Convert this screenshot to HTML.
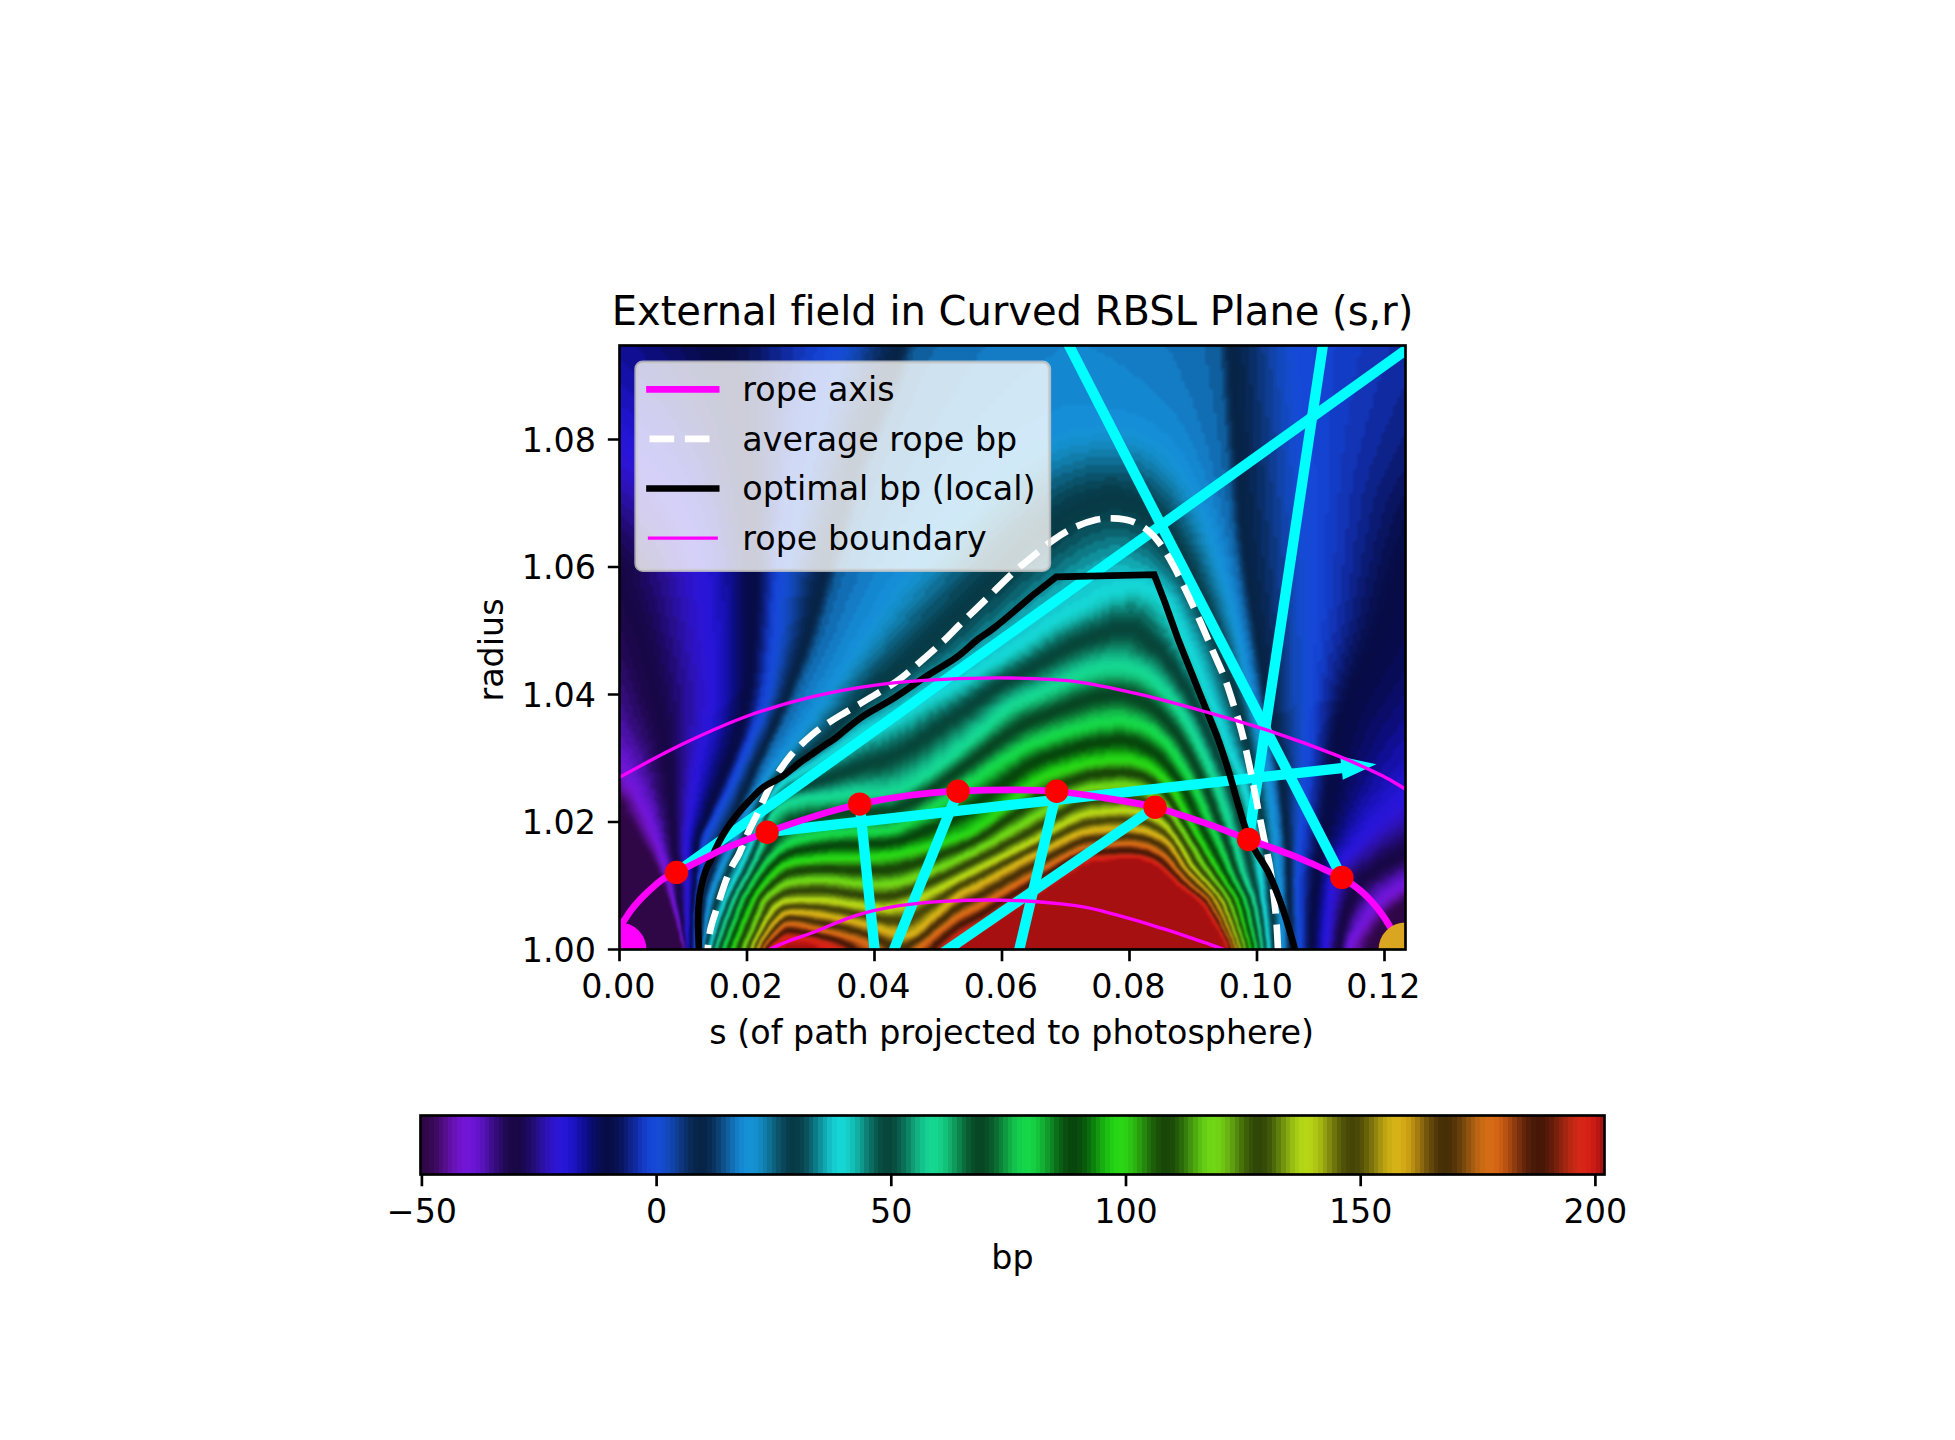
<!DOCTYPE html><html><head><meta charset="utf-8"><title>External field in Curved RBSL Plane</title><style>
html,body{margin:0;padding:0;background:#fff}body{width:1955px;height:1440px;position:relative;font-family:"DejaVu Sans","Liberation Sans",sans-serif}
#clip{position:absolute;left:619px;top:345px;width:787px;height:605px;overflow:hidden}
#hm{position:absolute;left:-12px;top:-12px;width:812px;filter:url(#cm)}
#hm i{display:block;height:4px;width:812px}
#cb{position:absolute;left:420px;top:1115px;width:1185px;height:60px;background:linear-gradient(90deg,#300746 0.000% 0.391%,#31074a 0.391% 0.781%,#370854 0.781% 1.172%,#3f0a64 1.172% 1.562%,#4a0c78 1.562% 1.953%,#560e8e 1.953% 2.344%,#6110a5 2.344% 2.734%,#6912b9 2.734% 3.125%,#6f14c9 3.125% 3.516%,#7215d4 3.516% 3.906%,#7016d7 3.906% 4.297%,#6b15d4 4.297% 4.688%,#6314ca 4.688% 5.078%,#5813bb 5.078% 5.469%,#4c11a7 5.469% 5.859%,#3f0e90 5.859% 6.250%,#330c7a 6.250% 6.641%,#290a65 6.641% 7.031%,#210955 7.031% 7.422%,#1c074a 7.422% 7.812%,#190746 7.812% 8.203%,#190749 8.203% 8.594%,#1b0853 8.594% 8.984%,#1e0a62 8.984% 9.375%,#220c76 9.375% 9.766%,#270e8c 9.766% 10.156%,#2a10a3 10.156% 10.547%,#2c12b7 10.547% 10.938%,#2d14c8 10.938% 11.328%,#2c15d3 11.328% 11.719%,#2a16d7 11.719% 12.109%,#2515d5 12.109% 12.500%,#2014cb 12.500% 12.891%,#1b13bc 12.891% 13.281%,#1511a8 13.281% 13.672%,#100f92 13.672% 14.062%,#0c0d7c 14.062% 14.453%,#0a0d67 14.453% 14.844%,#090c56 14.844% 15.234%,#070c4b 15.234% 15.625%,#070c46 15.625% 16.016%,#070e49 16.016% 16.406%,#081152 16.406% 16.797%,#0a1561 16.797% 17.188%,#0c1c74 17.188% 17.578%,#0e238b 17.578% 17.969%,#102ba1 17.969% 18.359%,#1234b6 18.359% 18.750%,#143cc7 18.750% 19.141%,#1543d2 19.141% 19.531%,#1648d7 19.531% 19.922%,#154bd5 19.922% 20.312%,#144bcc 20.312% 20.703%,#1349bd 20.703% 21.094%,#1144aa 21.094% 21.484%,#0f3e94 21.484% 21.875%,#0d367d 21.875% 22.266%,#0a2f69 22.266% 22.656%,#092957 22.656% 23.047%,#08254c 23.047% 23.438%,#072346 23.438% 23.828%,#072548 23.828% 24.219%,#082b51 24.219% 24.609%,#0a345f 24.609% 25.000%,#0b4173 25.000% 25.391%,#0e5089 25.391% 25.781%,#105f9f 25.781% 26.172%,#126fb4 26.172% 26.562%,#147dc6 26.562% 26.953%,#1588d2 26.953% 27.344%,#168fd7 27.344% 27.734%,#1591d6 27.734% 28.125%,#158fcd 28.125% 28.516%,#1388bf 28.516% 28.906%,#117dac 28.906% 29.297%,#0f7096 29.297% 29.688%,#0d617f 29.688% 30.078%,#0b536a 30.078% 30.469%,#094659 30.469% 30.859%,#083e4c 30.859% 31.250%,#073a47 31.250% 31.641%,#073d48 31.641% 32.031%,#084550 32.031% 32.422%,#09525e 32.422% 32.812%,#0b6571 32.812% 33.203%,#0d7b87 33.203% 33.594%,#10929d 33.594% 33.984%,#12a8b3 33.984% 34.375%,#14bcc4 34.375% 34.766%,#15ccd1 34.766% 35.156%,#15d5d7 35.156% 35.547%,#15d6d4 35.547% 35.938%,#15cec9 35.938% 36.328%,#13c0b8 36.328% 36.719%,#11aea3 36.719% 37.109%,#0f988c 37.109% 37.500%,#0d8175 37.500% 37.891%,#0b6c60 37.891% 38.281%,#095a4f 38.281% 38.672%,#084d42 38.672% 39.062%,#07473c 39.062% 39.453%,#07473b 39.453% 39.844%,#084f40 39.844% 40.234%,#095d4a 40.234% 40.625%,#0b6f57 40.625% 41.016%,#0d8565 41.016% 41.406%,#109c74 41.406% 41.797%,#12b181 41.797% 42.188%,#14c38b 42.188% 42.578%,#15d091 42.578% 42.969%,#15d792 42.969% 43.359%,#15d68e 43.359% 43.750%,#15cf86 43.750% 44.141%,#13c27a 44.141% 44.531%,#12af6c 44.531% 44.922%,#0f9a5c 44.922% 45.312%,#0d834c 45.312% 45.703%,#0b6d3e 45.703% 46.094%,#095b32 46.094% 46.484%,#084e29 46.484% 46.875%,#074725 46.875% 47.266%,#074723 47.266% 47.656%,#084e26 47.656% 48.047%,#095b2b 48.047% 48.438%,#0b6e31 48.438% 48.828%,#0d8339 48.828% 49.219%,#0f9a40 49.219% 49.609%,#12af46 49.609% 50.000%,#13c24a 50.000% 50.391%,#15cf4c 50.391% 50.781%,#15d64b 50.781% 51.172%,#15d748 51.172% 51.562%,#15d042 51.562% 51.953%,#13c33b 51.953% 52.344%,#12b133 52.344% 52.734%,#109b2a 52.734% 53.125%,#0d8522 53.125% 53.516%,#0b6f1a 53.516% 53.906%,#095d14 53.906% 54.297%,#084f10 54.297% 54.688%,#07470d 54.688% 55.078%,#07470c 55.078% 55.469%,#084d0c 55.469% 55.859%,#095a0c 55.859% 56.250%,#0b6c0d 56.250% 56.641%,#0d810e 56.641% 57.031%,#11980f 57.031% 57.422%,#16ae11 57.422% 57.812%,#1cc013 57.812% 58.203%,#21ce15 58.203% 58.594%,#26d615 58.594% 58.984%,#2ad715 58.984% 59.375%,#2cd115 59.375% 59.766%,#2cc414 59.766% 60.156%,#2bb312 60.156% 60.547%,#299d10 60.547% 60.938%,#25870d 60.938% 61.328%,#21710b 61.328% 61.719%,#1d5e09 61.719% 62.109%,#1a5008 62.109% 62.500%,#184807 62.500% 62.891%,#194707 62.891% 63.281%,#1d4c08 63.281% 63.672%,#235909 63.672% 64.062%,#2b6a0b 64.062% 64.453%,#367f0d 64.453% 64.844%,#42960f 64.844% 65.234%,#4eac11 65.234% 65.625%,#5abf13 65.625% 66.016%,#64cd15 66.016% 66.406%,#6cd615 66.406% 66.797%,#70d716 66.797% 67.188%,#71d215 67.188% 67.578%,#6dc614 67.578% 67.969%,#67b412 67.969% 68.359%,#5d9f10 68.359% 68.750%,#52890e 68.750% 69.141%,#47730b 69.141% 69.531%,#3d5f0a 69.531% 69.922%,#355108 69.922% 70.312%,#304807 70.312% 70.703%,#304607 70.703% 71.094%,#354c08 71.094% 71.484%,#3f5709 71.484% 71.875%,#4d690a 71.875% 72.266%,#5e7e0d 72.266% 72.656%,#72940f 72.656% 73.047%,#85aa11 73.047% 73.438%,#98be13 73.438% 73.828%,#a7cc14 73.828% 74.219%,#b2d515 74.219% 74.609%,#b7d716 74.609% 75.000%,#b6d215 75.000% 75.391%,#afc714 75.391% 75.781%,#a3b612 75.781% 76.172%,#93a110 76.172% 76.562%,#818a0e 76.562% 76.953%,#6e740c 76.953% 77.344%,#5d610a 77.344% 77.734%,#505208 77.734% 78.125%,#484907 78.125% 78.516%,#464507 78.516% 78.906%,#4b4907 78.906% 79.297%,#565209 79.297% 79.688%,#67610a 79.688% 80.078%,#7c720c 80.078% 80.469%,#92840f 80.469% 80.859%,#a89511 80.859% 81.250%,#bca413 81.250% 81.641%,#cbae14 81.641% 82.031%,#d5b215 82.031% 82.422%,#d7b116 82.422% 82.812%,#d3aa15 82.812% 83.203%,#c89e14 83.203% 83.594%,#b78e12 83.594% 83.984%,#a37b10 83.984% 84.375%,#8c680e 84.375% 84.766%,#76550c 84.766% 85.156%,#62460a 85.156% 85.547%,#533908 85.547% 85.938%,#493107 85.938% 86.328%,#462e07 86.328% 86.719%,#4a3007 86.719% 87.109%,#553509 87.109% 87.500%,#653e0a 87.500% 87.891%,#7a480c 87.891% 88.281%,#90530e 88.281% 88.672%,#a75d11 88.672% 89.062%,#bb6513 89.062% 89.453%,#ca6b14 89.453% 89.844%,#d46c15 89.844% 90.234%,#d76a16 90.234% 90.625%,#d46515 90.625% 91.016%,#c95d14 91.016% 91.406%,#b95212 91.406% 91.797%,#a54710 91.797% 92.188%,#8e3b0e 92.188% 92.578%,#782f0c 92.578% 92.969%,#64260a 92.969% 93.359%,#541e08 93.359% 93.750%,#4a1907 93.750% 94.141%,#461707 94.141% 94.531%,#4a1707 94.531% 94.922%,#541908 94.922% 95.312%,#641c0a 95.312% 95.703%,#78200c 95.703% 96.094%,#8e230e 96.094% 96.484%,#a52610 96.484% 96.875%,#b92813 96.875% 97.266%,#c92814 97.266% 97.656%,#d42715 97.656% 98.047%,#d72416 98.047% 98.438%,#d42015 98.438% 98.828%,#ca1b14 98.828% 99.219%,#ba1613 99.219% 99.609%,#a61111 99.609% 100.000%)}
svg{position:absolute;left:0;top:0}text{font-family:"DejaVu Sans","Liberation Sans",sans-serif;fill:#000;font-variant-ligatures:none;font-feature-settings:"liga" 0,"clig" 0}
</style></head><body>
<svg width="0" height="0"><filter id="cm" x="0" y="0" width="100%" height="100%" color-interpolation-filters="sRGB">
<feGaussianBlur stdDeviation="0.96 1.60"/>
<feColorMatrix type="matrix" values="0.941176 0.058824 0 0 0 0.941176 0.058824 0 0 0 0.941176 0.058824 0 0 0 0 0 0 0 1"/>
<feComponentTransfer><feFuncR type="table" tableValues="0.188 0.193 0.215 0.249 0.291 0.337 0.379 0.414 0.437 0.446 0.440 0.420 0.387 0.345 0.297 0.248 0.202 0.161 0.130 0.109 0.098 0.098 0.105 0.119 0.135 0.151 0.165 0.174 0.177 0.173 0.163 0.147 0.127 0.106 0.084 0.063 0.048 0.040 0.034 0.029 0.028 0.028 0.032 0.038 0.046 0.054 0.063 0.071 0.078 0.082 0.084 0.084 0.080 0.074 0.067 0.058 0.049 0.041 0.034 0.030 0.028 0.028 0.032 0.037 0.045 0.054 0.062 0.071 0.077 0.082 0.084 0.084 0.081 0.075 0.067 0.059 0.050 0.042 0.035 0.030 0.028 0.028 0.031 0.037 0.044 0.053 0.062 0.070 0.077 0.082 0.084 0.084 0.081 0.075 0.068 0.060 0.051 0.042 0.035 0.030 0.028 0.028 0.031 0.036 0.044 0.052 0.061 0.069 0.076 0.082 0.084 0.084 0.081 0.076 0.069 0.060 0.051 0.043 0.036 0.031 0.028 0.028 0.031 0.036 0.043 0.051 0.060 0.069 0.076 0.081 0.084 0.084 0.082 0.076 0.069 0.061 0.052 0.044 0.036 0.031 0.028 0.028 0.030 0.035 0.042 0.051 0.066 0.087 0.109 0.130 0.148 0.163 0.172 0.174 0.170 0.160 0.145 0.129 0.113 0.101 0.096 0.099 0.112 0.136 0.169 0.211 0.258 0.307 0.354 0.394 0.423 0.440 0.442 0.429 0.403 0.366 0.323 0.279 0.238 0.207 0.189 0.189 0.208 0.246 0.301 0.370 0.446 0.523 0.595 0.655 0.697 0.717 0.714 0.688 0.641 0.578 0.506 0.433 0.366 0.314 0.284 0.275 0.294 0.338 0.404 0.485 0.573 0.660 0.738 0.798 0.834 0.845 0.827 0.784 0.719 0.639 0.550 0.463 0.385 0.325 0.287 0.275 0.291 0.334 0.398 0.478 0.566 0.653 0.732 0.793 0.832 0.845 0.830 0.789 0.725 0.646 0.558 0.470 0.391 0.329 0.289 0.275 0.289 0.329 0.392 0.471 0.559 0.646 0.726 0.789 0.830 0.845 0.832 0.793 0.731 0.653"/><feFuncG type="table" tableValues="0.027 0.029 0.033 0.039 0.047 0.056 0.065 0.073 0.079 0.083 0.084 0.083 0.079 0.073 0.065 0.057 0.048 0.040 0.033 0.029 0.028 0.029 0.032 0.039 0.046 0.055 0.064 0.072 0.078 0.083 0.084 0.083 0.080 0.074 0.066 0.057 0.051 0.049 0.047 0.046 0.047 0.053 0.066 0.084 0.108 0.138 0.171 0.204 0.236 0.263 0.283 0.294 0.295 0.286 0.268 0.242 0.213 0.185 0.160 0.143 0.138 0.146 0.169 0.205 0.254 0.312 0.374 0.434 0.489 0.532 0.560 0.570 0.561 0.534 0.491 0.438 0.380 0.324 0.276 0.243 0.229 0.237 0.269 0.323 0.396 0.481 0.572 0.660 0.739 0.799 0.836 0.840 0.809 0.754 0.680 0.595 0.506 0.423 0.353 0.302 0.277 0.280 0.309 0.363 0.436 0.521 0.610 0.694 0.765 0.816 0.842 0.841 0.812 0.759 0.687 0.602 0.514 0.429 0.358 0.306 0.278 0.279 0.306 0.358 0.430 0.514 0.603 0.687 0.760 0.813 0.841 0.842 0.816 0.765 0.694 0.610 0.521 0.436 0.363 0.309 0.280 0.277 0.303 0.353 0.423 0.507 0.595 0.681 0.754 0.809 0.840 0.843 0.819 0.770 0.700 0.617 0.528 0.443 0.368 0.313 0.281 0.277 0.300 0.348 0.417 0.499 0.588 0.674 0.749 0.805 0.838 0.844 0.822 0.775 0.707 0.624 0.536 0.449 0.374 0.317 0.283 0.276 0.297 0.343 0.410 0.492 0.581 0.667 0.743 0.802 0.836 0.844 0.825 0.779 0.713 0.631 0.543 0.456 0.380 0.320 0.285 0.272 0.285 0.322 0.379 0.447 0.518 0.586 0.643 0.682 0.700 0.695 0.667 0.619 0.556 0.483 0.407 0.335 0.273 0.224 0.193 0.181 0.187 0.209 0.242 0.283 0.326 0.366 0.397 0.418 0.425 0.417 0.396 0.364 0.322 0.276 0.230 0.186 0.148 0.119 0.100 0.091 0.091 0.098 0.110 0.124 0.138 0.149 0.156 0.157 0.151 0.140 0.124 0.105 0.085 0.065"/><feFuncB type="table" tableValues="0.275 0.289 0.329 0.392 0.471 0.558 0.646 0.725 0.789 0.830 0.845 0.832 0.793 0.731 0.653 0.566 0.478 0.398 0.333 0.291 0.275 0.287 0.325 0.386 0.464 0.551 0.639 0.719 0.784 0.828 0.845 0.834 0.797 0.737 0.660 0.573 0.485 0.404 0.338 0.294 0.275 0.285 0.321 0.380 0.457 0.543 0.632 0.713 0.780 0.825 0.844 0.836 0.801 0.743 0.667 0.580 0.492 0.410 0.343 0.296 0.276 0.283 0.317 0.374 0.450 0.536 0.625 0.707 0.775 0.822 0.844 0.838 0.805 0.749 0.674 0.588 0.499 0.416 0.348 0.299 0.277 0.281 0.313 0.369 0.443 0.529 0.617 0.700 0.770 0.819 0.843 0.832 0.789 0.723 0.641 0.551 0.460 0.378 0.309 0.260 0.234 0.231 0.251 0.289 0.339 0.397 0.455 0.506 0.545 0.568 0.572 0.558 0.526 0.479 0.422 0.360 0.299 0.242 0.196 0.163 0.144 0.139 0.148 0.167 0.193 0.223 0.251 0.275 0.292 0.299 0.296 0.282 0.260 0.231 0.198 0.164 0.132 0.103 0.080 0.063 0.052 0.047 0.047 0.049 0.051 0.053 0.060 0.068 0.075 0.081 0.084 0.084 0.082 0.077 0.070 0.062 0.053 0.044 0.037 0.031 0.028 0.028 0.030 0.035 0.042 0.050 0.059 0.067 0.075 0.081 0.084 0.084 0.082 0.077 0.071 0.062 0.054 0.045 0.037 0.032 0.028 0.028 0.030 0.034 0.041 0.049 0.058 0.067 0.074 0.080 0.084 0.084 0.082 0.078 0.071 0.063 0.054 0.046 0.038 0.032 0.028 0.028 0.029 0.034 0.040 0.049 0.057 0.066 0.074 0.080 0.083 0.084 0.083 0.078 0.072 0.064 0.055 0.046 0.039 0.032 0.029 0.028 0.029 0.033 0.040 0.048 0.057 0.065 0.073 0.079 0.083 0.084 0.083 0.079 0.073 0.065 0.056 0.047 0.039 0.033 0.029 0.028 0.029 0.033 0.039 0.047 0.056 0.065 0.073 0.079 0.083 0.084 0.083 0.079 0.073 0.065"/></feComponentTransfer><feGaussianBlur stdDeviation="0.9"/>
</filter></svg>
<div id="clip"><div id="hm"><i style="background:linear-gradient(90deg,#230,#230,#230,#230,#230,#240,#240,#240,#240,#240,#240,#240,#250,#250,#250,#250,#250,#260,#260,#260,#260,#260,#270,#270,#270,#270,#280,#280,#280,#290,#290,#290,#2a0,#2a0,#2a0,#2b0,#2b0,#2b0,#2c0,#2c0,#2c0,#2d0,#2d0,#2d0,#2e0,#2e0,#2e0,#2f0,#2f0,#2f0,#300,#300,#300,#300,#310,#310,#310,#320,#320,#330,#330,#340,#340,#350,#360,#360,#370,#370,#380,#390,#390,#3a0,#3b0,#3b0,#3c0,#3d0,#3f0,#400,#410,#420,#420,#420,#420,#420,#430,#430,#430,#430,#430,#430,#430,#430,#430,#430,#430,#430,#430,#430,#440,#440,#440,#440,#440,#440,#440,#440,#440,#440,#440,#440,#440,#440,#440,#440,#440,#440,#440,#440,#440,#440,#440,#440,#440,#440,#440,#440,#440,#440,#440,#440,#440,#440,#440,#440,#440,#440,#440,#440,#440,#430,#430,#430,#430,#430,#430,#430,#430,#430,#430,#420,#420,#420,#420,#410,#400,#3e0,#3c0,#3b0,#3b0,#3a0,#3a0,#390,#390,#380,#370,#370,#360,#360,#350,#340,#340,#330,#330,#320,#320,#320,#320,#310,#310,#310,#310,#310,#310,#300,#300,#300,#300,#300,#300,#300,#2f0,#2f0,#2f0,#2f0,#2f0,#2f0,#2f0,#2e0,#2e0,#2e0,#2e0,#2e0,#2e0,#2e0)"></i><i style="background:linear-gradient(90deg,#230,#230,#230,#230,#230,#230,#240,#240,#240,#240,#240,#240,#250,#250,#250,#250,#250,#260,#260,#260,#260,#260,#270,#270,#270,#270,#280,#280,#280,#280,#290,#290,#290,#2a0,#2a0,#2a0,#2b0,#2b0,#2c0,#2c0,#2c0,#2d0,#2d0,#2d0,#2e0,#2e0,#2e0,#2f0,#2f0,#2f0,#300,#300,#300,#310,#310,#310,#320,#320,#320,#330,#340,#340,#350,#350,#360,#370,#370,#380,#380,#390,#3a0,#3a0,#3b0,#3c0,#3d0,#3e0,#3f0,#410,#420,#420,#420,#420,#420,#420,#430,#430,#430,#430,#430,#430,#430,#430,#430,#430,#430,#430,#430,#440,#440,#440,#440,#440,#440,#440,#440,#440,#440,#440,#440,#440,#440,#440,#440,#440,#440,#440,#440,#440,#440,#440,#440,#440,#440,#440,#440,#440,#440,#440,#440,#440,#440,#440,#440,#440,#440,#440,#440,#440,#440,#430,#430,#430,#430,#430,#430,#430,#430,#430,#430,#420,#420,#420,#420,#410,#400,#3e0,#3c0,#3b0,#3b0,#3a0,#3a0,#390,#390,#380,#370,#370,#360,#360,#350,#340,#340,#330,#330,#320,#320,#320,#320,#310,#310,#310,#310,#310,#310,#300,#300,#300,#300,#300,#300,#2f0,#2f0,#2f0,#2f0,#2f0,#2f0,#2f0,#2f0,#2e0,#2e0,#2e0,#2e0,#2e0,#2e0,#2e0)"></i><i style="background:linear-gradient(90deg,#230,#230,#230,#230,#230,#230,#230,#240,#240,#240,#240,#240,#240,#250,#250,#250,#250,#250,#260,#260,#260,#260,#260,#270,#270,#270,#270,#280,#280,#280,#290,#290,#290,#2a0,#2a0,#2a0,#2b0,#2b0,#2b0,#2c0,#2c0,#2d0,#2d0,#2d0,#2e0,#2e0,#2e0,#2f0,#2f0,#2f0,#300,#300,#300,#310,#310,#310,#320,#320,#330,#330,#340,#340,#350,#360,#360,#370,#370,#380,#390,#390,#3a0,#3b0,#3b0,#3c0,#3d0,#3e0,#400,#410,#420,#420,#420,#420,#420,#430,#430,#430,#430,#430,#430,#430,#430,#430,#430,#430,#430,#430,#440,#440,#440,#440,#440,#440,#440,#440,#440,#440,#440,#440,#440,#440,#440,#440,#440,#440,#440,#440,#440,#450,#450,#440,#440,#440,#440,#440,#440,#440,#440,#440,#440,#440,#440,#440,#440,#440,#440,#440,#440,#440,#440,#440,#430,#430,#430,#430,#430,#430,#430,#430,#430,#430,#420,#420,#420,#410,#400,#3e0,#3c0,#3c0,#3b0,#3a0,#3a0,#390,#390,#380,#370,#370,#360,#360,#350,#350,#340,#330,#330,#320,#320,#320,#320,#310,#310,#310,#310,#310,#310,#300,#300,#300,#300,#300,#300,#2f0,#2f0,#2f0,#2f0,#2f0,#2f0,#2f0,#2f0,#2e0,#2e0,#2e0,#2e0,#2e0,#2e0,#2e0)"></i><i style="background:linear-gradient(90deg,#220,#230,#230,#230,#230,#230,#230,#230,#240,#240,#240,#240,#240,#240,#250,#250,#250,#250,#250,#260,#260,#260,#260,#270,#270,#270,#270,#280,#280,#280,#290,#290,#290,#2a0,#2a0,#2a0,#2b0,#2b0,#2b0,#2c0,#2c0,#2d0,#2d0,#2d0,#2e0,#2e0,#2e0,#2f0,#2f0,#2f0,#300,#300,#300,#310,#310,#310,#320,#320,#330,#330,#340,#350,#350,#360,#360,#370,#380,#380,#390,#3a0,#3a0,#3b0,#3b0,#3c0,#3e0,#3f0,#400,#410,#420,#420,#420,#420,#420,#430,#430,#430,#430,#430,#430,#430,#430,#430,#430,#430,#430,#440,#440,#440,#440,#440,#440,#440,#440,#440,#440,#440,#440,#440,#440,#440,#440,#440,#440,#440,#440,#450,#450,#450,#450,#450,#450,#440,#440,#440,#440,#440,#440,#440,#440,#440,#440,#440,#440,#440,#440,#440,#440,#440,#440,#440,#430,#430,#430,#430,#430,#430,#430,#430,#430,#430,#420,#420,#420,#420,#400,#3e0,#3c0,#3c0,#3b0,#3a0,#3a0,#390,#390,#380,#370,#370,#360,#360,#350,#350,#340,#330,#330,#320,#320,#320,#320,#310,#310,#310,#310,#310,#310,#300,#300,#300,#300,#300,#300,#2f0,#2f0,#2f0,#2f0,#2f0,#2f0,#2f0,#2e0,#2e0,#2e0,#2e0,#2e0,#2e0,#2e0,#2e0)"></i><i style="background:linear-gradient(90deg,#220,#220,#230,#230,#230,#230,#230,#230,#230,#240,#240,#240,#240,#240,#250,#250,#250,#250,#250,#260,#260,#260,#260,#270,#270,#270,#270,#280,#280,#280,#290,#290,#290,#2a0,#2a0,#2a0,#2b0,#2b0,#2b0,#2c0,#2c0,#2d0,#2d0,#2d0,#2e0,#2e0,#2e0,#2f0,#2f0,#2f0,#300,#300,#300,#310,#310,#320,#320,#320,#330,#340,#340,#350,#350,#360,#370,#370,#380,#390,#390,#3a0,#3a0,#3b0,#3c0,#3d0,#3e0,#3f0,#410,#420,#420,#420,#420,#420,#430,#430,#430,#430,#430,#430,#430,#430,#430,#430,#430,#430,#440,#440,#440,#440,#440,#440,#440,#440,#440,#440,#440,#440,#440,#440,#440,#440,#440,#440,#440,#450,#450,#450,#450,#450,#450,#450,#450,#450,#450,#440,#440,#440,#440,#440,#440,#440,#440,#440,#440,#440,#440,#440,#440,#440,#440,#440,#440,#430,#430,#430,#430,#430,#430,#430,#430,#430,#420,#420,#420,#420,#400,#3e0,#3d0,#3c0,#3b0,#3a0,#3a0,#390,#390,#380,#370,#370,#360,#360,#350,#350,#340,#330,#330,#320,#320,#320,#320,#310,#310,#310,#310,#310,#300,#300,#300,#300,#300,#300,#300,#2f0,#2f0,#2f0,#2f0,#2f0,#2f0,#2f0,#2e0,#2e0,#2e0,#2e0,#2e0,#2e0,#2e0,#2e0)"></i><i style="background:linear-gradient(90deg,#220,#220,#220,#230,#230,#230,#230,#230,#230,#230,#240,#240,#240,#240,#240,#250,#250,#250,#250,#250,#260,#260,#260,#260,#270,#270,#270,#280,#280,#280,#280,#290,#290,#2a0,#2a0,#2a0,#2b0,#2b0,#2b0,#2c0,#2c0,#2d0,#2d0,#2d0,#2e0,#2e0,#2e0,#2f0,#2f0,#2f0,#300,#300,#310,#310,#310,#320,#320,#330,#330,#340,#340,#350,#360,#360,#370,#380,#380,#390,#390,#3a0,#3b0,#3b0,#3c0,#3d0,#3e0,#400,#410,#420,#420,#420,#420,#420,#430,#430,#430,#430,#430,#430,#430,#430,#430,#430,#430,#440,#440,#440,#440,#440,#440,#440,#440,#440,#440,#440,#440,#440,#440,#440,#440,#440,#440,#440,#450,#450,#450,#450,#450,#450,#450,#450,#450,#450,#450,#450,#450,#440,#440,#440,#440,#440,#440,#440,#440,#440,#440,#440,#440,#440,#440,#440,#440,#440,#430,#430,#430,#430,#430,#430,#430,#430,#420,#420,#420,#420,#400,#3e0,#3d0,#3c0,#3b0,#3a0,#3a0,#390,#390,#380,#380,#370,#360,#360,#350,#350,#340,#330,#330,#320,#320,#320,#320,#310,#310,#310,#310,#310,#300,#300,#300,#300,#300,#300,#300,#2f0,#2f0,#2f0,#2f0,#2f0,#2f0,#2f0,#2e0,#2e0,#2e0,#2e0,#2e0,#2e0,#2e0,#2e0)"></i><i style="background:linear-gradient(90deg,#220,#220,#220,#220,#230,#230,#230,#230,#230,#230,#240,#240,#240,#240,#240,#240,#250,#250,#250,#250,#260,#260,#260,#260,#270,#270,#270,#270,#280,#280,#280,#290,#290,#2a0,#2a0,#2a0,#2b0,#2b0,#2b0,#2c0,#2c0,#2d0,#2d0,#2d0,#2e0,#2e0,#2e0,#2f0,#2f0,#300,#300,#300,#310,#310,#310,#320,#320,#330,#330,#340,#350,#350,#360,#360,#370,#380,#380,#390,#3a0,#3a0,#3b0,#3b0,#3c0,#3d0,#3f0,#400,#410,#420,#420,#420,#420,#430,#430,#430,#430,#430,#430,#430,#430,#430,#430,#430,#430,#440,#440,#440,#440,#440,#440,#440,#440,#440,#440,#440,#440,#440,#440,#440,#440,#440,#450,#450,#450,#450,#450,#450,#450,#450,#450,#450,#450,#450,#450,#450,#450,#450,#450,#440,#440,#440,#440,#440,#440,#440,#440,#440,#440,#440,#440,#440,#440,#440,#430,#430,#430,#430,#430,#430,#430,#430,#420,#420,#420,#420,#400,#3e0,#3d0,#3c0,#3b0,#3a0,#3a0,#390,#390,#380,#380,#370,#360,#360,#350,#350,#340,#330,#330,#320,#320,#320,#320,#310,#310,#310,#310,#310,#300,#300,#300,#300,#300,#300,#2f0,#2f0,#2f0,#2f0,#2f0,#2f0,#2f0,#2e0,#2e0,#2e0,#2e0,#2e0,#2e0,#2e0,#2e0,#2d0)"></i><i style="background:linear-gradient(90deg,#220,#220,#220,#220,#220,#230,#230,#230,#230,#230,#230,#240,#240,#240,#240,#240,#250,#250,#250,#250,#250,#260,#260,#260,#270,#270,#270,#270,#280,#280,#280,#290,#290,#290,#2a0,#2a0,#2b0,#2b0,#2b0,#2c0,#2c0,#2d0,#2d0,#2d0,#2e0,#2e0,#2e0,#2f0,#2f0,#300,#300,#300,#310,#310,#310,#320,#320,#330,#340,#340,#350,#350,#360,#370,#370,#380,#390,#390,#3a0,#3a0,#3b0,#3c0,#3d0,#3e0,#3f0,#410,#420,#420,#420,#420,#420,#430,#430,#430,#430,#430,#430,#430,#430,#430,#430,#430,#440,#440,#440,#440,#440,#440,#440,#440,#440,#440,#440,#440,#440,#440,#440,#440,#440,#450,#450,#450,#450,#450,#450,#450,#450,#450,#450,#450,#450,#450,#450,#450,#450,#450,#450,#450,#440,#440,#440,#440,#440,#440,#440,#440,#440,#440,#440,#440,#440,#440,#440,#430,#430,#430,#430,#430,#430,#430,#420,#420,#420,#420,#400,#3f0,#3d0,#3c0,#3b0,#3a0,#3a0,#390,#390,#380,#380,#370,#360,#360,#350,#350,#340,#340,#330,#320,#320,#320,#320,#310,#310,#310,#310,#310,#300,#300,#300,#300,#300,#300,#2f0,#2f0,#2f0,#2f0,#2f0,#2f0,#2f0,#2e0,#2e0,#2e0,#2e0,#2e0,#2e0,#2e0,#2e0,#2d0)"></i><i style="background:linear-gradient(90deg,#220,#220,#220,#220,#220,#220,#230,#230,#230,#230,#230,#230,#240,#240,#240,#240,#240,#250,#250,#250,#250,#260,#260,#260,#260,#270,#270,#270,#280,#280,#280,#290,#290,#290,#2a0,#2a0,#2b0,#2b0,#2b0,#2c0,#2c0,#2c0,#2d0,#2d0,#2e0,#2e0,#2e0,#2f0,#2f0,#300,#300,#300,#310,#310,#320,#320,#330,#330,#340,#340,#350,#360,#360,#370,#380,#380,#390,#390,#3a0,#3b0,#3b0,#3c0,#3d0,#3e0,#400,#410,#420,#420,#420,#420,#420,#430,#430,#430,#430,#430,#430,#430,#430,#430,#430,#440,#440,#440,#440,#440,#440,#440,#440,#440,#440,#440,#440,#440,#440,#440,#440,#450,#450,#450,#450,#450,#450,#450,#450,#450,#450,#450,#450,#450,#450,#450,#450,#450,#450,#450,#450,#450,#450,#450,#440,#440,#440,#440,#440,#440,#440,#440,#440,#440,#440,#440,#440,#430,#430,#430,#430,#430,#430,#430,#430,#420,#420,#420,#400,#3f0,#3d0,#3c0,#3b0,#3b0,#3a0,#390,#390,#380,#380,#370,#360,#360,#350,#350,#340,#340,#330,#320,#320,#320,#320,#310,#310,#310,#310,#310,#300,#300,#300,#300,#300,#300,#2f0,#2f0,#2f0,#2f0,#2f0,#2f0,#2f0,#2e0,#2e0,#2e0,#2e0,#2e0,#2e0,#2e0,#2d0,#2d0)"></i><i style="background:linear-gradient(90deg,#220,#220,#220,#220,#220,#220,#220,#230,#230,#230,#230,#230,#230,#240,#240,#240,#240,#250,#250,#250,#250,#260,#260,#260,#260,#270,#270,#270,#270,#280,#280,#280,#290,#290,#2a0,#2a0,#2a0,#2b0,#2b0,#2c0,#2c0,#2c0,#2d0,#2d0,#2e0,#2e0,#2e0,#2f0,#2f0,#300,#300,#300,#310,#310,#320,#320,#330,#330,#340,#350,#350,#360,#360,#370,#380,#380,#390,#3a0,#3a0,#3b0,#3b0,#3c0,#3d0,#3f0,#400,#410,#420,#420,#420,#420,#430,#430,#430,#430,#430,#430,#430,#430,#430,#430,#430,#440,#440,#440,#440,#440,#440,#440,#440,#440,#440,#440,#440,#440,#440,#440,#450,#450,#450,#450,#450,#450,#450,#450,#450,#450,#450,#450,#450,#450,#450,#450,#450,#450,#450,#450,#450,#450,#450,#450,#450,#440,#440,#440,#440,#440,#440,#440,#440,#440,#440,#440,#440,#440,#430,#430,#430,#430,#430,#430,#430,#420,#420,#420,#410,#3f0,#3d0,#3c0,#3b0,#3b0,#3a0,#390,#390,#380,#380,#370,#370,#360,#350,#350,#340,#340,#330,#320,#320,#320,#320,#310,#310,#310,#310,#310,#300,#300,#300,#300,#300,#300,#2f0,#2f0,#2f0,#2f0,#2f0,#2f0,#2e0,#2e0,#2e0,#2e0,#2e0,#2e0,#2e0,#2e0,#2d0,#2d0)"></i><i style="background:linear-gradient(90deg,#210,#220,#220,#220,#220,#220,#220,#220,#230,#230,#230,#230,#230,#240,#240,#240,#240,#240,#250,#250,#250,#250,#260,#260,#260,#260,#270,#270,#270,#280,#280,#280,#290,#290,#2a0,#2a0,#2a0,#2b0,#2b0,#2c0,#2c0,#2c0,#2d0,#2d0,#2e0,#2e0,#2f0,#2f0,#2f0,#300,#300,#310,#310,#310,#320,#320,#330,#340,#340,#350,#350,#360,#370,#370,#380,#390,#390,#3a0,#3a0,#3b0,#3c0,#3d0,#3e0,#3f0,#410,#420,#420,#420,#420,#420,#430,#430,#430,#430,#430,#430,#430,#430,#430,#430,#440,#440,#440,#440,#440,#440,#440,#440,#440,#440,#440,#440,#440,#440,#450,#450,#450,#450,#450,#450,#450,#450,#450,#450,#450,#450,#450,#450,#450,#450,#450,#450,#450,#450,#450,#450,#450,#450,#450,#450,#450,#450,#440,#440,#440,#440,#440,#440,#440,#440,#440,#440,#440,#440,#430,#430,#430,#430,#430,#430,#430,#420,#420,#420,#410,#3f0,#3d0,#3c0,#3b0,#3b0,#3a0,#390,#390,#380,#380,#370,#370,#360,#350,#350,#340,#340,#330,#320,#320,#320,#320,#310,#310,#310,#310,#310,#300,#300,#300,#300,#300,#300,#2f0,#2f0,#2f0,#2f0,#2f0,#2f0,#2e0,#2e0,#2e0,#2e0,#2e0,#2e0,#2e0,#2d0,#2d0,#2d0)"></i><i style="background:linear-gradient(90deg,#210,#210,#210,#220,#220,#220,#220,#220,#220,#230,#230,#230,#230,#230,#240,#240,#240,#240,#250,#250,#250,#250,#260,#260,#260,#260,#270,#270,#270,#280,#280,#280,#290,#290,#290,#2a0,#2a0,#2b0,#2b0,#2c0,#2c0,#2c0,#2d0,#2d0,#2e0,#2e0,#2f0,#2f0,#2f0,#300,#300,#310,#310,#320,#320,#330,#330,#340,#340,#350,#360,#360,#370,#380,#380,#390,#390,#3a0,#3b0,#3b0,#3c0,#3d0,#3e0,#400,#410,#420,#420,#420,#420,#430,#430,#430,#430,#430,#430,#430,#430,#430,#430,#440,#440,#440,#440,#440,#440,#440,#440,#440,#440,#440,#440,#440,#440,#450,#450,#450,#450,#450,#450,#450,#450,#450,#450,#450,#450,#450,#450,#450,#450,#450,#450,#450,#450,#450,#450,#450,#450,#450,#450,#450,#450,#450,#450,#450,#440,#440,#440,#440,#440,#440,#440,#440,#440,#440,#430,#430,#430,#430,#430,#430,#430,#420,#420,#420,#410,#3f0,#3d0,#3c0,#3b0,#3b0,#3a0,#390,#390,#380,#380,#370,#370,#360,#350,#350,#340,#340,#330,#330,#320,#320,#320,#310,#310,#310,#310,#310,#300,#300,#300,#300,#300,#2f0,#2f0,#2f0,#2f0,#2f0,#2f0,#2f0,#2e0,#2e0,#2e0,#2e0,#2e0,#2e0,#2e0,#2d0,#2d0,#2d0)"></i><i style="background:linear-gradient(90deg,#210,#210,#210,#210,#220,#220,#220,#220,#220,#220,#230,#230,#230,#230,#230,#240,#240,#240,#240,#250,#250,#250,#250,#260,#260,#260,#270,#270,#270,#270,#280,#280,#290,#290,#290,#2a0,#2a0,#2b0,#2b0,#2c0,#2c0,#2c0,#2d0,#2d0,#2e0,#2e0,#2f0,#2f0,#2f0,#300,#300,#310,#310,#320,#320,#330,#330,#340,#350,#350,#360,#360,#370,#380,#380,#390,#3a0,#3a0,#3b0,#3b0,#3c0,#3e0,#3f0,#400,#420,#420,#420,#420,#420,#430,#430,#430,#430,#430,#430,#430,#430,#430,#430,#440,#440,#440,#440,#440,#440,#440,#440,#440,#440,#440,#440,#440,#450,#450,#450,#450,#450,#450,#450,#450,#450,#450,#450,#450,#450,#450,#450,#450,#450,#450,#450,#450,#450,#450,#450,#450,#450,#450,#450,#450,#450,#450,#450,#450,#450,#440,#440,#440,#440,#440,#440,#440,#440,#440,#440,#430,#430,#430,#430,#430,#430,#420,#420,#420,#410,#3f0,#3d0,#3c0,#3b0,#3b0,#3a0,#390,#390,#380,#380,#370,#370,#360,#350,#350,#340,#340,#330,#330,#320,#320,#320,#310,#310,#310,#310,#310,#300,#300,#300,#300,#300,#2f0,#2f0,#2f0,#2f0,#2f0,#2f0,#2e0,#2e0,#2e0,#2e0,#2e0,#2e0,#2e0,#2d0,#2d0,#2d0,#2d0)"></i><i style="background:linear-gradient(90deg,#210,#210,#210,#210,#210,#220,#220,#220,#220,#220,#230,#230,#230,#230,#230,#240,#240,#240,#240,#240,#250,#250,#250,#260,#260,#260,#260,#270,#270,#270,#280,#280,#280,#290,#290,#2a0,#2a0,#2b0,#2b0,#2c0,#2c0,#2c0,#2d0,#2d0,#2e0,#2e0,#2f0,#2f0,#300,#300,#300,#310,#310,#320,#320,#330,#340,#340,#350,#350,#360,#370,#370,#380,#390,#390,#3a0,#3a0,#3b0,#3c0,#3d0,#3e0,#400,#410,#420,#420,#420,#420,#430,#430,#430,#430,#430,#430,#430,#430,#430,#430,#440,#440,#440,#440,#440,#440,#440,#440,#440,#440,#440,#440,#440,#450,#450,#450,#450,#450,#450,#450,#450,#450,#450,#450,#450,#450,#450,#450,#450,#450,#450,#450,#450,#450,#450,#450,#450,#450,#450,#450,#450,#450,#450,#450,#450,#450,#450,#450,#440,#440,#440,#440,#440,#440,#440,#440,#440,#430,#430,#430,#430,#430,#430,#420,#420,#420,#410,#3f0,#3d0,#3c0,#3b0,#3b0,#3a0,#3a0,#390,#380,#380,#370,#370,#360,#350,#350,#340,#340,#330,#330,#320,#320,#320,#310,#310,#310,#310,#310,#300,#300,#300,#300,#300,#2f0,#2f0,#2f0,#2f0,#2f0,#2f0,#2e0,#2e0,#2e0,#2e0,#2e0,#2e0,#2e0,#2d0,#2d0,#2d0,#2d0)"></i><i style="background:linear-gradient(90deg,#210,#210,#210,#210,#210,#210,#220,#220,#220,#220,#220,#230,#230,#230,#230,#230,#240,#240,#240,#240,#250,#250,#250,#250,#260,#260,#260,#270,#270,#270,#280,#280,#280,#290,#290,#2a0,#2a0,#2b0,#2b0,#2c0,#2c0,#2c0,#2d0,#2d0,#2e0,#2e0,#2f0,#2f0,#300,#300,#310,#310,#310,#320,#320,#330,#340,#340,#350,#360,#360,#370,#380,#380,#390,#390,#3a0,#3b0,#3b0,#3c0,#3d0,#3f0,#400,#410,#420,#420,#420,#420,#430,#430,#430,#430,#430,#430,#430,#430,#430,#430,#440,#440,#440,#440,#440,#440,#440,#440,#440,#440,#440,#440,#450,#450,#450,#450,#450,#450,#450,#450,#450,#450,#450,#450,#450,#450,#450,#450,#450,#450,#450,#450,#450,#450,#450,#450,#450,#450,#450,#450,#450,#450,#450,#450,#450,#450,#450,#450,#450,#440,#440,#440,#440,#440,#440,#440,#440,#440,#430,#430,#430,#430,#430,#430,#420,#420,#410,#3f0,#3e0,#3c0,#3b0,#3b0,#3a0,#3a0,#390,#380,#380,#370,#370,#360,#360,#350,#340,#340,#330,#330,#320,#320,#320,#310,#310,#310,#310,#310,#300,#300,#300,#300,#300,#2f0,#2f0,#2f0,#2f0,#2f0,#2f0,#2e0,#2e0,#2e0,#2e0,#2e0,#2e0,#2d0,#2d0,#2d0,#2d0,#2d0)"></i><i style="background:linear-gradient(90deg,#210,#210,#210,#210,#210,#210,#210,#220,#220,#220,#220,#220,#230,#230,#230,#230,#230,#240,#240,#240,#240,#250,#250,#250,#260,#260,#260,#260,#270,#270,#270,#280,#280,#290,#290,#2a0,#2a0,#2b0,#2b0,#2b0,#2c0,#2c0,#2d0,#2d0,#2e0,#2e0,#2f0,#2f0,#300,#300,#310,#310,#320,#320,#330,#330,#340,#350,#350,#360,#360,#370,#380,#380,#390,#3a0,#3a0,#3b0,#3c0,#3c0,#3e0,#3f0,#410,#420,#420,#420,#420,#430,#430,#430,#430,#430,#430,#430,#430,#430,#430,#440,#440,#440,#440,#440,#440,#440,#440,#440,#440,#440,#440,#450,#450,#450,#450,#450,#450,#450,#450,#450,#450,#450,#450,#450,#450,#450,#450,#450,#450,#450,#450,#450,#450,#450,#450,#450,#450,#450,#450,#450,#450,#450,#450,#450,#450,#450,#450,#450,#450,#450,#440,#440,#440,#440,#440,#440,#440,#440,#430,#430,#430,#430,#430,#430,#420,#420,#410,#3f0,#3e0,#3c0,#3b0,#3b0,#3a0,#3a0,#390,#380,#380,#370,#370,#360,#360,#350,#340,#340,#330,#330,#320,#320,#320,#310,#310,#310,#310,#310,#300,#300,#300,#300,#300,#2f0,#2f0,#2f0,#2f0,#2f0,#2e0,#2e0,#2e0,#2e0,#2e0,#2e0,#2e0,#2d0,#2d0,#2d0,#2d0,#2d0)"></i><i style="background:linear-gradient(90deg,#200,#200,#210,#210,#210,#210,#210,#210,#220,#220,#220,#220,#220,#230,#230,#230,#230,#230,#240,#240,#240,#250,#250,#250,#250,#260,#260,#260,#270,#270,#270,#280,#280,#290,#290,#2a0,#2a0,#2a0,#2b0,#2b0,#2c0,#2c0,#2d0,#2d0,#2e0,#2e0,#2f0,#2f0,#300,#300,#310,#310,#320,#320,#330,#330,#340,#350,#350,#360,#370,#370,#380,#390,#390,#3a0,#3a0,#3b0,#3c0,#3d0,#3e0,#400,#410,#420,#420,#420,#420,#430,#430,#430,#430,#430,#430,#430,#430,#430,#440,#440,#440,#440,#440,#440,#440,#440,#440,#440,#440,#440,#450,#450,#450,#450,#450,#450,#450,#450,#450,#450,#450,#450,#450,#450,#450,#450,#450,#450,#450,#450,#450,#450,#450,#450,#450,#450,#450,#450,#450,#450,#450,#450,#450,#450,#450,#450,#450,#450,#450,#450,#450,#440,#440,#440,#440,#440,#440,#440,#440,#430,#430,#430,#430,#430,#420,#420,#410,#400,#3e0,#3c0,#3b0,#3b0,#3a0,#3a0,#390,#380,#380,#370,#370,#360,#360,#350,#340,#340,#330,#330,#320,#320,#320,#310,#310,#310,#310,#310,#300,#300,#300,#300,#300,#2f0,#2f0,#2f0,#2f0,#2f0,#2e0,#2e0,#2e0,#2e0,#2e0,#2e0,#2d0,#2d0,#2d0,#2d0,#2d0,#2d0)"></i><i style="background:linear-gradient(90deg,#200,#200,#200,#210,#210,#210,#210,#210,#210,#220,#220,#220,#220,#220,#230,#230,#230,#230,#240,#240,#240,#240,#250,#250,#250,#260,#260,#260,#270,#270,#270,#280,#280,#280,#290,#290,#2a0,#2a0,#2b0,#2b0,#2c0,#2c0,#2d0,#2d0,#2e0,#2e0,#2f0,#2f0,#300,#300,#310,#310,#320,#320,#330,#340,#340,#350,#360,#360,#370,#380,#380,#390,#390,#3a0,#3b0,#3b0,#3c0,#3d0,#3f0,#400,#420,#420,#420,#420,#420,#430,#430,#430,#430,#430,#430,#430,#430,#430,#440,#440,#440,#440,#440,#440,#440,#440,#440,#440,#440,#450,#450,#450,#450,#450,#450,#450,#450,#450,#450,#450,#450,#450,#450,#450,#450,#450,#450,#450,#450,#450,#450,#450,#450,#450,#450,#450,#450,#450,#450,#450,#450,#450,#450,#450,#450,#450,#450,#450,#450,#450,#450,#450,#440,#440,#440,#440,#440,#440,#440,#430,#430,#430,#430,#430,#420,#420,#420,#400,#3e0,#3c0,#3b0,#3b0,#3a0,#3a0,#390,#390,#380,#370,#370,#360,#360,#350,#340,#340,#330,#330,#320,#320,#320,#310,#310,#310,#310,#310,#300,#300,#300,#300,#2f0,#2f0,#2f0,#2f0,#2f0,#2f0,#2e0,#2e0,#2e0,#2e0,#2e0,#2e0,#2d0,#2d0,#2d0,#2d0,#2d0,#2d0)"></i><i style="background:linear-gradient(90deg,#200,#200,#200,#200,#210,#210,#210,#210,#210,#210,#220,#220,#220,#220,#220,#230,#230,#230,#230,#240,#240,#240,#250,#250,#250,#250,#260,#260,#260,#270,#270,#280,#280,#280,#290,#290,#2a0,#2a0,#2b0,#2b0,#2c0,#2c0,#2d0,#2d0,#2e0,#2e0,#2f0,#2f0,#300,#300,#310,#310,#320,#330,#330,#340,#350,#350,#360,#360,#370,#380,#380,#390,#3a0,#3a0,#3b0,#3c0,#3d0,#3e0,#3f0,#410,#420,#420,#420,#420,#430,#430,#430,#430,#430,#430,#430,#430,#430,#440,#440,#440,#440,#440,#440,#440,#440,#440,#440,#440,#450,#450,#450,#450,#450,#450,#450,#450,#450,#450,#450,#450,#450,#450,#450,#450,#450,#450,#460,#460,#460,#460,#460,#460,#460,#460,#460,#460,#460,#450,#450,#450,#450,#450,#450,#450,#450,#450,#450,#450,#450,#450,#450,#450,#450,#440,#440,#440,#440,#440,#440,#430,#430,#430,#430,#430,#420,#420,#420,#400,#3e0,#3c0,#3b0,#3b0,#3a0,#3a0,#390,#390,#380,#370,#370,#360,#360,#350,#350,#340,#330,#330,#320,#320,#320,#310,#310,#310,#310,#310,#300,#300,#300,#300,#2f0,#2f0,#2f0,#2f0,#2f0,#2f0,#2e0,#2e0,#2e0,#2e0,#2e0,#2d0,#2d0,#2d0,#2d0,#2d0,#2d0,#2d0)"></i><i style="background:linear-gradient(90deg,#200,#200,#200,#200,#200,#200,#210,#210,#210,#210,#210,#220,#220,#220,#220,#220,#230,#230,#230,#230,#240,#240,#240,#250,#250,#250,#260,#260,#260,#270,#270,#270,#280,#280,#290,#290,#2a0,#2a0,#2b0,#2b0,#2c0,#2c0,#2d0,#2d0,#2e0,#2e0,#2f0,#300,#300,#310,#310,#320,#320,#330,#330,#340,#350,#350,#360,#370,#370,#380,#390,#390,#3a0,#3b0,#3b0,#3c0,#3d0,#3f0,#400,#410,#420,#420,#420,#420,#430,#430,#430,#430,#430,#430,#430,#430,#440,#440,#440,#440,#440,#440,#440,#440,#440,#440,#440,#450,#450,#450,#450,#450,#450,#450,#450,#450,#450,#450,#450,#450,#450,#450,#450,#450,#460,#460,#460,#460,#460,#460,#460,#460,#460,#460,#460,#460,#460,#460,#460,#460,#460,#460,#450,#450,#450,#450,#450,#450,#450,#450,#450,#450,#450,#450,#440,#440,#440,#440,#440,#440,#430,#430,#430,#430,#420,#420,#420,#400,#3e0,#3c0,#3b0,#3b0,#3a0,#3a0,#390,#390,#380,#370,#370,#360,#360,#350,#350,#340,#330,#330,#320,#320,#320,#310,#310,#310,#310,#300,#300,#300,#300,#300,#2f0,#2f0,#2f0,#2f0,#2f0,#2e0,#2e0,#2e0,#2e0,#2e0,#2e0,#2d0,#2d0,#2d0,#2d0,#2d0,#2d0,#2d0)"></i><i style="background:linear-gradient(90deg,#1f0,#200,#200,#200,#200,#200,#200,#210,#210,#210,#210,#210,#220,#220,#220,#220,#230,#230,#230,#230,#240,#240,#240,#250,#250,#250,#260,#260,#260,#270,#270,#270,#280,#280,#290,#290,#2a0,#2a0,#2b0,#2b0,#2c0,#2c0,#2d0,#2e0,#2e0,#2f0,#2f0,#300,#300,#310,#310,#320,#320,#330,#340,#340,#350,#360,#360,#370,#380,#380,#390,#3a0,#3a0,#3b0,#3b0,#3c0,#3e0,#3f0,#410,#420,#420,#420,#420,#430,#430,#430,#430,#430,#430,#430,#430,#430,#440,#440,#440,#440,#440,#440,#440,#440,#440,#440,#450,#450,#450,#450,#450,#450,#450,#450,#450,#450,#450,#450,#450,#450,#450,#450,#460,#460,#460,#460,#460,#460,#460,#460,#460,#460,#460,#460,#460,#460,#460,#460,#460,#460,#460,#460,#460,#460,#460,#450,#450,#450,#450,#450,#450,#450,#450,#450,#450,#440,#440,#440,#440,#440,#430,#430,#430,#430,#430,#420,#420,#400,#3e0,#3c0,#3c0,#3b0,#3a0,#3a0,#390,#390,#380,#370,#370,#360,#360,#350,#350,#340,#330,#330,#320,#320,#320,#310,#310,#310,#310,#300,#300,#300,#300,#300,#2f0,#2f0,#2f0,#2f0,#2f0,#2e0,#2e0,#2e0,#2e0,#2e0,#2e0,#2d0,#2d0,#2d0,#2d0,#2d0,#2d0,#2c0)"></i><i style="background:linear-gradient(90deg,#1f0,#1f0,#200,#200,#200,#200,#200,#200,#210,#210,#210,#210,#210,#220,#220,#220,#220,#230,#230,#230,#230,#240,#240,#240,#250,#250,#250,#260,#260,#260,#270,#270,#280,#280,#290,#290,#2a0,#2a0,#2b0,#2b0,#2c0,#2c0,#2d0,#2e0,#2e0,#2f0,#2f0,#300,#300,#310,#310,#320,#320,#330,#340,#340,#350,#360,#360,#370,#380,#380,#390,#3a0,#3a0,#3b0,#3c0,#3d0,#3e0,#400,#410,#420,#420,#420,#420,#430,#430,#430,#430,#430,#430,#430,#430,#440,#440,#440,#440,#440,#440,#440,#440,#440,#440,#450,#450,#450,#450,#450,#450,#450,#450,#450,#450,#450,#450,#450,#450,#450,#460,#460,#460,#460,#460,#460,#460,#460,#460,#460,#460,#460,#460,#460,#460,#460,#460,#460,#460,#460,#460,#460,#460,#460,#460,#460,#460,#450,#450,#450,#450,#450,#450,#450,#450,#440,#440,#440,#440,#440,#430,#430,#430,#430,#430,#420,#420,#400,#3e0,#3d0,#3c0,#3b0,#3a0,#3a0,#390,#390,#380,#380,#370,#360,#360,#350,#350,#340,#330,#330,#320,#320,#320,#310,#310,#310,#310,#300,#300,#300,#300,#300,#2f0,#2f0,#2f0,#2f0,#2f0,#2e0,#2e0,#2e0,#2e0,#2e0,#2d0,#2d0,#2d0,#2d0,#2d0,#2d0,#2c0,#2c0)"></i><i style="background:linear-gradient(90deg,#1f0,#1f0,#1f0,#1f0,#200,#200,#200,#200,#200,#210,#210,#210,#210,#210,#220,#220,#220,#220,#230,#230,#230,#240,#240,#240,#250,#250,#250,#260,#260,#260,#270,#270,#280,#280,#290,#290,#2a0,#2a0,#2b0,#2b0,#2c0,#2c0,#2d0,#2e0,#2e0,#2f0,#2f0,#300,#300,#310,#310,#320,#330,#330,#340,#350,#350,#360,#370,#370,#380,#390,#390,#3a0,#3b0,#3b0,#3c0,#3d0,#3f0,#400,#420,#420,#420,#420,#430,#430,#430,#430,#430,#430,#430,#430,#430,#440,#440,#440,#440,#440,#440,#440,#440,#440,#450,#450,#450,#450,#450,#450,#450,#450,#450,#450,#450,#450,#450,#450,#460,#460,#460,#460,#460,#460,#460,#460,#460,#460,#460,#460,#460,#460,#460,#460,#460,#460,#460,#460,#460,#460,#460,#460,#460,#460,#460,#460,#460,#460,#460,#450,#450,#450,#450,#450,#450,#450,#440,#440,#440,#440,#440,#430,#430,#430,#430,#420,#420,#400,#3f0,#3d0,#3c0,#3b0,#3a0,#3a0,#390,#390,#380,#380,#370,#360,#360,#350,#350,#340,#340,#330,#320,#320,#320,#310,#310,#310,#310,#300,#300,#300,#300,#300,#2f0,#2f0,#2f0,#2f0,#2e0,#2e0,#2e0,#2e0,#2e0,#2e0,#2d0,#2d0,#2d0,#2d0,#2d0,#2d0,#2c0,#2c0)"></i><i style="background:linear-gradient(90deg,#1f0,#1f0,#1f0,#1f0,#1f0,#200,#200,#200,#200,#200,#210,#210,#210,#210,#210,#220,#220,#220,#230,#230,#230,#230,#240,#240,#240,#250,#250,#250,#260,#260,#270,#270,#270,#280,#280,#290,#2a0,#2a0,#2b0,#2b0,#2c0,#2c0,#2d0,#2e0,#2e0,#2f0,#2f0,#300,#300,#310,#320,#320,#330,#340,#340,#350,#360,#360,#370,#380,#380,#390,#3a0,#3a0,#3b0,#3c0,#3c0,#3e0,#3f0,#410,#420,#420,#420,#420,#430,#430,#430,#430,#430,#430,#430,#430,#440,#440,#440,#440,#440,#440,#440,#440,#440,#440,#450,#450,#450,#450,#450,#450,#450,#450,#450,#450,#450,#450,#460,#460,#460,#460,#460,#460,#460,#460,#460,#460,#460,#460,#460,#460,#460,#460,#460,#460,#460,#470,#470,#470,#470,#460,#460,#460,#460,#460,#460,#460,#460,#460,#460,#460,#450,#450,#450,#450,#450,#450,#450,#440,#440,#440,#440,#430,#430,#430,#430,#420,#420,#410,#3f0,#3d0,#3c0,#3b0,#3a0,#3a0,#390,#390,#380,#380,#370,#360,#360,#350,#350,#340,#340,#330,#320,#320,#320,#310,#310,#310,#310,#300,#300,#300,#300,#2f0,#2f0,#2f0,#2f0,#2f0,#2e0,#2e0,#2e0,#2e0,#2e0,#2d0,#2d0,#2d0,#2d0,#2d0,#2d0,#2c0,#2c0,#2c0)"></i><i style="background:linear-gradient(90deg,#1f0,#1f0,#1f0,#1f0,#1f0,#1f0,#200,#200,#200,#200,#200,#210,#210,#210,#210,#210,#220,#220,#220,#230,#230,#230,#240,#240,#240,#250,#250,#250,#260,#260,#270,#270,#270,#280,#280,#290,#2a0,#2a0,#2b0,#2b0,#2c0,#2c0,#2d0,#2e0,#2e0,#2f0,#2f0,#300,#310,#310,#320,#320,#330,#340,#340,#350,#360,#360,#370,#380,#380,#390,#3a0,#3a0,#3b0,#3c0,#3d0,#3f0,#400,#410,#420,#420,#420,#430,#430,#430,#430,#430,#430,#430,#430,#440,#440,#440,#440,#440,#440,#440,#440,#440,#440,#450,#450,#450,#450,#450,#450,#450,#450,#450,#450,#450,#450,#460,#460,#460,#460,#460,#460,#460,#460,#460,#460,#460,#460,#460,#470,#470,#470,#470,#470,#470,#470,#470,#470,#470,#470,#470,#470,#470,#470,#470,#470,#460,#460,#460,#460,#460,#460,#450,#450,#450,#450,#450,#450,#440,#440,#440,#440,#430,#430,#430,#430,#420,#420,#410,#3f0,#3d0,#3c0,#3b0,#3a0,#3a0,#390,#390,#380,#380,#370,#360,#360,#350,#350,#340,#340,#330,#320,#320,#320,#310,#310,#310,#310,#300,#300,#300,#300,#2f0,#2f0,#2f0,#2f0,#2f0,#2e0,#2e0,#2e0,#2e0,#2e0,#2d0,#2d0,#2d0,#2d0,#2d0,#2d0,#2c0,#2c0,#2c0)"></i><i style="background:linear-gradient(90deg,#1e0,#1e0,#1f0,#1f0,#1f0,#1f0,#1f0,#1f0,#200,#200,#200,#200,#210,#210,#210,#210,#220,#220,#220,#220,#230,#230,#230,#240,#240,#240,#250,#250,#260,#260,#260,#270,#270,#280,#280,#290,#290,#2a0,#2b0,#2b0,#2c0,#2d0,#2d0,#2e0,#2e0,#2f0,#2f0,#300,#310,#310,#320,#330,#330,#340,#350,#350,#360,#370,#370,#380,#390,#390,#3a0,#3b0,#3b0,#3c0,#3e0,#3f0,#410,#420,#420,#420,#420,#430,#430,#430,#430,#430,#430,#430,#430,#440,#440,#440,#440,#440,#440,#440,#440,#440,#450,#450,#450,#450,#450,#450,#450,#450,#450,#450,#450,#450,#460,#460,#460,#460,#460,#460,#460,#460,#460,#460,#460,#470,#470,#470,#470,#470,#470,#470,#470,#470,#480,#480,#480,#480,#480,#480,#480,#470,#470,#470,#470,#470,#470,#460,#460,#460,#460,#460,#460,#450,#450,#450,#450,#450,#440,#440,#440,#440,#430,#430,#430,#420,#420,#410,#3f0,#3d0,#3c0,#3b0,#3b0,#3a0,#390,#390,#380,#380,#370,#370,#360,#350,#350,#340,#340,#330,#320,#320,#320,#310,#310,#310,#310,#300,#300,#300,#300,#2f0,#2f0,#2f0,#2f0,#2f0,#2e0,#2e0,#2e0,#2e0,#2d0,#2d0,#2d0,#2d0,#2d0,#2d0,#2c0,#2c0,#2c0,#2c0)"></i><i style="background:linear-gradient(90deg,#1e0,#1e0,#1e0,#1f0,#1f0,#1f0,#1f0,#1f0,#1f0,#200,#200,#200,#200,#210,#210,#210,#210,#220,#220,#220,#230,#230,#230,#240,#240,#240,#250,#250,#260,#260,#260,#270,#270,#280,#280,#290,#290,#2a0,#2b0,#2b0,#2c0,#2d0,#2d0,#2e0,#2e0,#2f0,#300,#300,#310,#310,#320,#330,#330,#340,#350,#360,#360,#370,#380,#380,#390,#3a0,#3a0,#3b0,#3c0,#3d0,#3e0,#400,#410,#420,#420,#420,#420,#430,#430,#430,#430,#430,#430,#430,#440,#440,#440,#440,#440,#440,#440,#440,#440,#450,#450,#450,#450,#450,#450,#450,#450,#450,#450,#450,#460,#460,#460,#460,#460,#460,#460,#460,#460,#460,#470,#470,#470,#470,#470,#470,#480,#480,#480,#480,#480,#480,#480,#480,#480,#480,#480,#480,#480,#480,#480,#480,#480,#470,#470,#470,#470,#460,#460,#460,#460,#460,#450,#450,#450,#450,#440,#440,#440,#440,#430,#430,#430,#420,#420,#410,#3f0,#3d0,#3c0,#3b0,#3b0,#3a0,#390,#390,#380,#380,#370,#370,#360,#350,#350,#340,#340,#330,#330,#320,#320,#310,#310,#310,#310,#300,#300,#300,#300,#2f0,#2f0,#2f0,#2f0,#2e0,#2e0,#2e0,#2e0,#2e0,#2d0,#2d0,#2d0,#2d0,#2d0,#2c0,#2c0,#2c0,#2c0,#2c0)"></i><i style="background:linear-gradient(90deg,#1e0,#1e0,#1e0,#1e0,#1e0,#1f0,#1f0,#1f0,#1f0,#1f0,#200,#200,#200,#200,#210,#210,#210,#210,#220,#220,#220,#230,#230,#230,#240,#240,#250,#250,#250,#260,#260,#270,#270,#280,#280,#290,#290,#2a0,#2b0,#2b0,#2c0,#2d0,#2d0,#2e0,#2e0,#2f0,#300,#300,#310,#320,#320,#330,#340,#340,#350,#360,#360,#370,#380,#390,#390,#3a0,#3b0,#3b0,#3c0,#3d0,#3f0,#400,#420,#420,#420,#420,#430,#430,#430,#430,#430,#430,#430,#430,#440,#440,#440,#440,#440,#440,#440,#440,#450,#450,#450,#450,#450,#450,#450,#450,#450,#450,#450,#460,#460,#460,#460,#460,#460,#460,#460,#460,#470,#470,#470,#470,#470,#480,#480,#480,#480,#480,#480,#480,#480,#490,#490,#490,#490,#490,#490,#490,#490,#490,#480,#480,#480,#480,#480,#470,#470,#470,#470,#460,#460,#460,#450,#450,#450,#450,#450,#440,#440,#440,#430,#430,#430,#430,#420,#410,#3f0,#3d0,#3c0,#3b0,#3b0,#3a0,#390,#390,#380,#380,#370,#370,#360,#350,#350,#340,#340,#330,#330,#320,#320,#310,#310,#310,#310,#300,#300,#300,#300,#2f0,#2f0,#2f0,#2f0,#2e0,#2e0,#2e0,#2e0,#2e0,#2d0,#2d0,#2d0,#2d0,#2d0,#2c0,#2c0,#2c0,#2c0,#2c0)"></i><i style="background:linear-gradient(90deg,#1d0,#1e0,#1e0,#1e0,#1e0,#1e0,#1f0,#1f0,#1f0,#1f0,#1f0,#200,#200,#200,#200,#210,#210,#210,#210,#220,#220,#220,#230,#230,#240,#240,#240,#250,#250,#260,#260,#270,#270,#270,#280,#290,#290,#2a0,#2b0,#2b0,#2c0,#2d0,#2d0,#2e0,#2f0,#2f0,#300,#300,#310,#320,#320,#330,#340,#350,#350,#360,#370,#370,#380,#390,#390,#3a0,#3b0,#3b0,#3c0,#3e0,#3f0,#410,#420,#420,#420,#420,#430,#430,#430,#430,#430,#430,#430,#440,#440,#440,#440,#440,#440,#440,#440,#440,#450,#450,#450,#450,#450,#450,#450,#450,#450,#450,#460,#460,#460,#460,#460,#460,#460,#460,#470,#470,#470,#470,#470,#480,#480,#480,#480,#480,#490,#490,#490,#490,#490,#490,#490,#490,#490,#490,#490,#490,#490,#490,#490,#490,#490,#480,#480,#480,#480,#470,#470,#470,#460,#460,#460,#450,#450,#450,#450,#440,#440,#440,#440,#430,#430,#430,#420,#410,#3f0,#3d0,#3c0,#3b0,#3b0,#3a0,#390,#390,#380,#380,#370,#370,#360,#350,#350,#340,#340,#330,#330,#320,#320,#310,#310,#310,#310,#300,#300,#300,#300,#2f0,#2f0,#2f0,#2f0,#2e0,#2e0,#2e0,#2e0,#2d0,#2d0,#2d0,#2d0,#2d0,#2c0,#2c0,#2c0,#2c0,#2c0,#2c0)"></i><i style="background:linear-gradient(90deg,#1d0,#1d0,#1d0,#1e0,#1e0,#1e0,#1e0,#1e0,#1f0,#1f0,#1f0,#1f0,#1f0,#200,#200,#200,#210,#210,#210,#220,#220,#220,#230,#230,#230,#240,#240,#250,#250,#260,#260,#260,#270,#270,#280,#290,#290,#2a0,#2b0,#2b0,#2c0,#2d0,#2d0,#2e0,#2f0,#2f0,#300,#310,#310,#320,#330,#330,#340,#350,#350,#360,#370,#380,#380,#390,#3a0,#3a0,#3b0,#3c0,#3d0,#3e0,#400,#410,#420,#420,#420,#430,#430,#430,#430,#430,#430,#430,#430,#440,#440,#440,#440,#440,#440,#440,#440,#450,#450,#450,#450,#450,#450,#450,#450,#450,#450,#460,#460,#460,#460,#460,#460,#460,#460,#470,#470,#470,#470,#480,#480,#480,#480,#490,#490,#490,#490,#490,#490,#490,#490,#4a0,#4a0,#4a0,#4a0,#4a0,#4a0,#4a0,#4a0,#4a0,#4a0,#490,#490,#490,#490,#480,#480,#480,#470,#470,#470,#460,#460,#460,#450,#450,#450,#450,#440,#440,#440,#430,#430,#430,#420,#410,#400,#3e0,#3c0,#3b0,#3b0,#3a0,#3a0,#390,#380,#380,#370,#370,#360,#360,#350,#340,#340,#330,#330,#320,#320,#310,#310,#310,#310,#300,#300,#300,#300,#2f0,#2f0,#2f0,#2f0,#2e0,#2e0,#2e0,#2e0,#2d0,#2d0,#2d0,#2d0,#2d0,#2c0,#2c0,#2c0,#2c0,#2c0,#2b0)"></i><i style="background:linear-gradient(90deg,#1d0,#1d0,#1d0,#1d0,#1e0,#1e0,#1e0,#1e0,#1e0,#1f0,#1f0,#1f0,#1f0,#1f0,#200,#200,#200,#210,#210,#210,#220,#220,#220,#230,#230,#240,#240,#250,#250,#250,#260,#260,#270,#270,#280,#280,#290,#2a0,#2b0,#2b0,#2c0,#2d0,#2d0,#2e0,#2f0,#2f0,#300,#310,#310,#320,#330,#340,#340,#350,#360,#360,#370,#380,#390,#390,#3a0,#3b0,#3b0,#3c0,#3e0,#3f0,#400,#420,#420,#420,#420,#430,#430,#430,#430,#430,#430,#430,#440,#440,#440,#440,#440,#440,#440,#440,#450,#450,#450,#450,#450,#450,#450,#450,#450,#450,#460,#460,#460,#460,#460,#460,#460,#470,#470,#470,#470,#480,#480,#480,#480,#490,#490,#490,#490,#490,#4a0,#4a0,#4a0,#4a0,#4a0,#4a0,#4a0,#4a0,#4a0,#4a0,#4a0,#4a0,#4a0,#4a0,#4a0,#4a0,#4a0,#4a0,#490,#490,#490,#480,#480,#480,#470,#470,#460,#460,#460,#450,#450,#450,#440,#440,#440,#430,#430,#430,#420,#420,#400,#3e0,#3c0,#3b0,#3b0,#3a0,#3a0,#390,#380,#380,#370,#370,#360,#360,#350,#340,#340,#330,#330,#320,#320,#310,#310,#310,#310,#300,#300,#300,#2f0,#2f0,#2f0,#2f0,#2e0,#2e0,#2e0,#2e0,#2e0,#2d0,#2d0,#2d0,#2d0,#2c0,#2c0,#2c0,#2c0,#2c0,#2c0,#2b0)"></i><i style="background:linear-gradient(90deg,#1c0,#1d0,#1d0,#1d0,#1d0,#1d0,#1e0,#1e0,#1e0,#1e0,#1e0,#1f0,#1f0,#1f0,#1f0,#200,#200,#200,#210,#210,#220,#220,#220,#230,#230,#240,#240,#240,#250,#250,#260,#260,#270,#270,#280,#280,#290,#2a0,#2a0,#2b0,#2c0,#2d0,#2d0,#2e0,#2f0,#2f0,#300,#310,#320,#320,#330,#340,#340,#350,#360,#370,#370,#380,#390,#390,#3a0,#3b0,#3c0,#3d0,#3e0,#400,#410,#420,#420,#420,#430,#430,#430,#430,#430,#430,#430,#440,#440,#440,#440,#440,#440,#440,#440,#450,#450,#450,#450,#450,#450,#450,#450,#450,#450,#460,#460,#460,#460,#460,#460,#460,#470,#470,#470,#480,#480,#480,#480,#490,#490,#490,#490,#490,#4a0,#4a0,#4a0,#4a0,#4a0,#4a0,#4b0,#4b0,#4b0,#4b0,#4b0,#4b0,#4b0,#4b0,#4b0,#4b0,#4b0,#4a0,#4a0,#4a0,#4a0,#490,#490,#490,#480,#480,#480,#470,#470,#460,#460,#450,#450,#450,#440,#440,#440,#430,#430,#430,#420,#420,#400,#3e0,#3c0,#3b0,#3b0,#3a0,#3a0,#390,#380,#380,#370,#370,#360,#360,#350,#340,#340,#330,#330,#320,#320,#310,#310,#310,#310,#300,#300,#300,#2f0,#2f0,#2f0,#2f0,#2e0,#2e0,#2e0,#2e0,#2d0,#2d0,#2d0,#2d0,#2d0,#2c0,#2c0,#2c0,#2c0,#2c0,#2b0,#2b0)"></i><i style="background:linear-gradient(90deg,#1c0,#1c0,#1d0,#1d0,#1d0,#1d0,#1d0,#1d0,#1e0,#1e0,#1e0,#1e0,#1f0,#1f0,#1f0,#200,#200,#200,#210,#210,#210,#220,#220,#220,#230,#230,#240,#240,#250,#250,#260,#260,#270,#270,#280,#280,#290,#2a0,#2a0,#2b0,#2c0,#2d0,#2d0,#2e0,#2f0,#300,#300,#310,#320,#320,#330,#340,#350,#350,#360,#370,#380,#380,#390,#3a0,#3a0,#3b0,#3c0,#3d0,#3f0,#400,#420,#420,#420,#420,#430,#430,#430,#430,#430,#430,#430,#440,#440,#440,#440,#440,#440,#440,#440,#450,#450,#450,#450,#450,#450,#450,#450,#450,#460,#460,#460,#460,#460,#460,#460,#470,#470,#470,#480,#480,#480,#490,#490,#490,#490,#4a0,#4a0,#4a0,#4a0,#4a0,#4a0,#4b0,#4b0,#4b0,#4b0,#4b0,#4b0,#4b0,#4b0,#4b0,#4b0,#4b0,#4b0,#4b0,#4b0,#4b0,#4b0,#4b0,#4a0,#4a0,#4a0,#490,#490,#480,#480,#470,#470,#460,#460,#460,#450,#450,#450,#440,#440,#440,#430,#430,#420,#420,#400,#3e0,#3c0,#3b0,#3b0,#3a0,#3a0,#390,#380,#380,#370,#370,#360,#360,#350,#340,#340,#330,#330,#320,#320,#310,#310,#310,#310,#300,#300,#300,#2f0,#2f0,#2f0,#2f0,#2e0,#2e0,#2e0,#2e0,#2d0,#2d0,#2d0,#2d0,#2c0,#2c0,#2c0,#2c0,#2c0,#2b0,#2b0,#2b0)"></i><i style="background:linear-gradient(90deg,#1c0,#1c0,#1c0,#1c0,#1d0,#1d0,#1d0,#1d0,#1d0,#1e0,#1e0,#1e0,#1e0,#1f0,#1f0,#1f0,#200,#200,#200,#210,#210,#210,#220,#220,#230,#230,#240,#240,#250,#250,#260,#260,#270,#270,#280,#280,#290,#2a0,#2a0,#2b0,#2c0,#2d0,#2d0,#2e0,#2f0,#300,#300,#310,#320,#330,#330,#340,#350,#360,#360,#370,#380,#380,#390,#3a0,#3b0,#3b0,#3c0,#3e0,#3f0,#410,#420,#420,#420,#430,#430,#430,#430,#430,#430,#430,#440,#440,#440,#440,#440,#440,#440,#440,#450,#450,#450,#450,#450,#450,#450,#450,#450,#460,#460,#460,#460,#460,#460,#470,#470,#470,#470,#480,#480,#480,#490,#490,#490,#490,#4a0,#4a0,#4a0,#4a0,#4b0,#4b0,#4b0,#4b0,#4b0,#4b0,#4c0,#4c0,#4c0,#4c0,#4c0,#4c0,#4c0,#4c0,#4c0,#4c0,#4c0,#4c0,#4b0,#4b0,#4b0,#4a0,#4a0,#4a0,#490,#490,#480,#480,#470,#470,#460,#460,#450,#450,#450,#440,#440,#440,#430,#430,#420,#420,#400,#3e0,#3c0,#3b0,#3b0,#3a0,#3a0,#390,#390,#380,#370,#370,#360,#360,#350,#350,#340,#330,#330,#320,#320,#320,#310,#310,#310,#300,#300,#300,#2f0,#2f0,#2f0,#2f0,#2e0,#2e0,#2e0,#2d0,#2d0,#2d0,#2d0,#2d0,#2c0,#2c0,#2c0,#2c0,#2b0,#2b0,#2b0,#2b0)"></i><i style="background:linear-gradient(90deg,#1b0,#1c0,#1c0,#1c0,#1c0,#1c0,#1d0,#1d0,#1d0,#1d0,#1d0,#1e0,#1e0,#1e0,#1f0,#1f0,#1f0,#200,#200,#200,#210,#210,#220,#220,#230,#230,#230,#240,#240,#250,#250,#260,#260,#270,#280,#280,#290,#2a0,#2a0,#2b0,#2c0,#2d0,#2d0,#2e0,#2f0,#300,#310,#310,#320,#330,#340,#340,#350,#360,#370,#370,#380,#390,#390,#3a0,#3b0,#3c0,#3d0,#3e0,#400,#410,#420,#420,#420,#430,#430,#430,#430,#430,#430,#430,#440,#440,#440,#440,#440,#440,#440,#450,#450,#450,#450,#450,#450,#450,#450,#450,#460,#460,#460,#460,#460,#460,#470,#470,#470,#480,#480,#480,#490,#490,#490,#490,#4a0,#4a0,#4a0,#4a0,#4b0,#4b0,#4b0,#4b0,#4b0,#4c0,#4c0,#4c0,#4c0,#4c0,#4c0,#4c0,#4c0,#4c0,#4c0,#4c0,#4c0,#4c0,#4c0,#4c0,#4c0,#4c0,#4b0,#4b0,#4b0,#4a0,#4a0,#490,#490,#480,#480,#470,#470,#460,#460,#450,#450,#450,#440,#440,#430,#430,#430,#420,#400,#3e0,#3c0,#3b0,#3b0,#3a0,#3a0,#390,#390,#380,#370,#370,#360,#360,#350,#350,#340,#330,#330,#320,#320,#320,#310,#310,#310,#300,#300,#300,#2f0,#2f0,#2f0,#2e0,#2e0,#2e0,#2e0,#2d0,#2d0,#2d0,#2d0,#2c0,#2c0,#2c0,#2c0,#2c0,#2b0,#2b0,#2b0,#2b0)"></i><i style="background:linear-gradient(90deg,#1b0,#1b0,#1c0,#1c0,#1c0,#1c0,#1c0,#1c0,#1d0,#1d0,#1d0,#1d0,#1e0,#1e0,#1e0,#1f0,#1f0,#1f0,#200,#200,#210,#210,#210,#220,#220,#230,#230,#240,#240,#250,#250,#260,#260,#270,#270,#280,#290,#2a0,#2a0,#2b0,#2c0,#2d0,#2e0,#2e0,#2f0,#300,#310,#310,#320,#330,#340,#340,#350,#360,#370,#370,#380,#390,#3a0,#3a0,#3b0,#3c0,#3d0,#3f0,#400,#420,#420,#420,#420,#430,#430,#430,#430,#430,#430,#440,#440,#440,#440,#440,#440,#440,#440,#450,#450,#450,#450,#450,#450,#450,#450,#460,#460,#460,#460,#460,#460,#470,#470,#470,#480,#480,#480,#490,#490,#490,#4a0,#4a0,#4a0,#4a0,#4b0,#4b0,#4b0,#4b0,#4c0,#4c0,#4c0,#4c0,#4c0,#4c0,#4d0,#4d0,#4d0,#4d0,#4d0,#4d0,#4d0,#4d0,#4d0,#4d0,#4d0,#4d0,#4c0,#4c0,#4c0,#4b0,#4b0,#4b0,#4a0,#4a0,#490,#490,#480,#480,#470,#460,#460,#450,#450,#450,#440,#440,#430,#430,#430,#420,#410,#3e0,#3c0,#3b0,#3b0,#3a0,#3a0,#390,#390,#380,#370,#370,#360,#360,#350,#350,#340,#330,#330,#320,#320,#320,#310,#310,#310,#300,#300,#300,#2f0,#2f0,#2f0,#2e0,#2e0,#2e0,#2e0,#2d0,#2d0,#2d0,#2d0,#2c0,#2c0,#2c0,#2c0,#2b0,#2b0,#2b0,#2b0,#2b0)"></i><i style="background:linear-gradient(90deg,#1b0,#1b0,#1b0,#1b0,#1c0,#1c0,#1c0,#1c0,#1c0,#1d0,#1d0,#1d0,#1d0,#1e0,#1e0,#1e0,#1f0,#1f0,#200,#200,#200,#210,#210,#220,#220,#230,#230,#240,#240,#250,#250,#260,#260,#270,#270,#280,#290,#2a0,#2a0,#2b0,#2c0,#2d0,#2e0,#2e0,#2f0,#300,#310,#320,#320,#330,#340,#350,#350,#360,#370,#380,#380,#390,#3a0,#3b0,#3b0,#3c0,#3e0,#3f0,#410,#420,#420,#420,#430,#430,#430,#430,#430,#430,#430,#440,#440,#440,#440,#440,#440,#440,#450,#450,#450,#450,#450,#450,#450,#450,#460,#460,#460,#460,#460,#460,#470,#470,#470,#480,#480,#480,#490,#490,#490,#4a0,#4a0,#4a0,#4b0,#4b0,#4b0,#4b0,#4c0,#4c0,#4c0,#4c0,#4c0,#4d0,#4d0,#4d0,#4d0,#4d0,#4d0,#4d0,#4d0,#4e0,#4e0,#4e0,#4d0,#4d0,#4d0,#4d0,#4d0,#4d0,#4c0,#4c0,#4c0,#4b0,#4b0,#4a0,#4a0,#490,#490,#480,#470,#470,#460,#460,#450,#450,#440,#440,#440,#430,#430,#420,#410,#3f0,#3d0,#3c0,#3b0,#3a0,#3a0,#390,#390,#380,#370,#370,#360,#360,#350,#350,#340,#330,#330,#320,#320,#320,#310,#310,#310,#300,#300,#300,#2f0,#2f0,#2f0,#2e0,#2e0,#2e0,#2e0,#2d0,#2d0,#2d0,#2c0,#2c0,#2c0,#2c0,#2b0,#2b0,#2b0,#2b0,#2b0,#2a0)"></i><i style="background:linear-gradient(90deg,#1a0,#1b0,#1b0,#1b0,#1b0,#1b0,#1c0,#1c0,#1c0,#1c0,#1d0,#1d0,#1d0,#1d0,#1e0,#1e0,#1e0,#1f0,#1f0,#200,#200,#210,#210,#220,#220,#230,#230,#240,#240,#250,#250,#260,#260,#270,#270,#280,#290,#290,#2a0,#2b0,#2c0,#2d0,#2e0,#2e0,#2f0,#300,#310,#320,#330,#330,#340,#350,#360,#360,#370,#380,#390,#390,#3a0,#3b0,#3c0,#3d0,#3e0,#400,#410,#420,#420,#420,#430,#430,#430,#430,#430,#430,#440,#440,#440,#440,#440,#440,#440,#450,#450,#450,#450,#450,#450,#450,#450,#460,#460,#460,#460,#460,#460,#470,#470,#470,#480,#480,#480,#490,#490,#490,#4a0,#4a0,#4a0,#4b0,#4b0,#4b0,#4b0,#4c0,#4c0,#4c0,#4c0,#4d0,#4d0,#4d0,#4d0,#4d0,#4e0,#4e0,#4e0,#4e0,#4e0,#4e0,#4e0,#4e0,#4e0,#4e0,#4e0,#4e0,#4d0,#4d0,#4d0,#4d0,#4c0,#4c0,#4b0,#4b0,#4a0,#4a0,#490,#480,#480,#470,#460,#460,#450,#450,#450,#440,#440,#430,#430,#420,#410,#3f0,#3d0,#3c0,#3b0,#3a0,#3a0,#390,#390,#380,#380,#370,#360,#360,#350,#350,#340,#340,#330,#320,#320,#320,#310,#310,#310,#300,#300,#300,#2f0,#2f0,#2f0,#2e0,#2e0,#2e0,#2d0,#2d0,#2d0,#2d0,#2c0,#2c0,#2c0,#2c0,#2b0,#2b0,#2b0,#2b0,#2a0,#2a0)"></i><i style="background:linear-gradient(90deg,#1a0,#1a0,#1a0,#1b0,#1b0,#1b0,#1b0,#1c0,#1c0,#1c0,#1c0,#1d0,#1d0,#1d0,#1d0,#1e0,#1e0,#1f0,#1f0,#1f0,#200,#200,#210,#210,#220,#220,#230,#230,#240,#240,#250,#260,#260,#270,#270,#280,#290,#290,#2a0,#2b0,#2c0,#2d0,#2e0,#2f0,#2f0,#300,#310,#320,#330,#340,#340,#350,#360,#370,#370,#380,#390,#3a0,#3a0,#3b0,#3c0,#3d0,#3f0,#400,#420,#420,#420,#430,#430,#430,#430,#430,#430,#430,#440,#440,#440,#440,#440,#440,#440,#450,#450,#450,#450,#450,#450,#450,#450,#460,#460,#460,#460,#460,#470,#470,#470,#480,#480,#480,#490,#490,#490,#4a0,#4a0,#4a0,#4b0,#4b0,#4b0,#4c0,#4c0,#4c0,#4c0,#4d0,#4d0,#4d0,#4d0,#4e0,#4e0,#4e0,#4e0,#4e0,#4e0,#4e0,#4f0,#4f0,#4f0,#4f0,#4f0,#4e0,#4e0,#4e0,#4e0,#4e0,#4d0,#4d0,#4d0,#4c0,#4c0,#4b0,#4b0,#4a0,#4a0,#490,#480,#480,#470,#460,#460,#450,#450,#440,#440,#430,#430,#420,#410,#3f0,#3d0,#3c0,#3b0,#3a0,#3a0,#390,#390,#380,#380,#370,#360,#360,#350,#350,#340,#340,#330,#320,#320,#320,#310,#310,#310,#300,#300,#300,#2f0,#2f0,#2f0,#2e0,#2e0,#2e0,#2d0,#2d0,#2d0,#2c0,#2c0,#2c0,#2c0,#2b0,#2b0,#2b0,#2b0,#2b0,#2a0,#2a0)"></i><i style="background:linear-gradient(90deg,#1a0,#1a0,#1a0,#1a0,#1b0,#1b0,#1b0,#1b0,#1b0,#1c0,#1c0,#1c0,#1d0,#1d0,#1d0,#1e0,#1e0,#1e0,#1f0,#1f0,#200,#200,#210,#210,#220,#220,#230,#230,#240,#240,#250,#250,#260,#270,#270,#280,#280,#290,#2a0,#2b0,#2c0,#2d0,#2e0,#2f0,#300,#300,#310,#320,#330,#340,#340,#350,#360,#370,#380,#380,#390,#3a0,#3b0,#3b0,#3c0,#3e0,#3f0,#410,#420,#420,#420,#430,#430,#430,#430,#430,#430,#440,#440,#440,#440,#440,#440,#440,#450,#450,#450,#450,#450,#450,#450,#450,#460,#460,#460,#460,#460,#470,#470,#470,#480,#480,#480,#490,#490,#490,#4a0,#4a0,#4a0,#4b0,#4b0,#4b0,#4c0,#4c0,#4c0,#4d0,#4d0,#4d0,#4d0,#4e0,#4e0,#4e0,#4e0,#4e0,#4f0,#4f0,#4f0,#4f0,#4f0,#4f0,#4f0,#4f0,#4f0,#4f0,#4f0,#4f0,#4e0,#4e0,#4e0,#4e0,#4d0,#4d0,#4c0,#4c0,#4b0,#4b0,#4a0,#490,#490,#480,#470,#460,#460,#450,#450,#440,#440,#430,#430,#420,#410,#3f0,#3d0,#3c0,#3b0,#3a0,#3a0,#390,#390,#380,#380,#370,#360,#360,#350,#350,#340,#340,#330,#320,#320,#320,#310,#310,#310,#300,#300,#300,#2f0,#2f0,#2f0,#2e0,#2e0,#2e0,#2d0,#2d0,#2d0,#2c0,#2c0,#2c0,#2c0,#2b0,#2b0,#2b0,#2b0,#2a0,#2a0,#2a0)"></i><i style="background:linear-gradient(90deg,#190,#1a0,#1a0,#1a0,#1a0,#1a0,#1b0,#1b0,#1b0,#1b0,#1c0,#1c0,#1c0,#1d0,#1d0,#1d0,#1e0,#1e0,#1e0,#1f0,#1f0,#200,#200,#210,#210,#220,#230,#230,#240,#240,#250,#250,#260,#260,#270,#280,#280,#290,#2a0,#2b0,#2c0,#2d0,#2e0,#2f0,#300,#310,#310,#320,#330,#340,#350,#350,#360,#370,#380,#380,#390,#3a0,#3b0,#3c0,#3d0,#3e0,#400,#410,#420,#420,#420,#430,#430,#430,#430,#430,#430,#440,#440,#440,#440,#440,#440,#450,#450,#450,#450,#450,#450,#450,#450,#460,#460,#460,#460,#460,#470,#470,#470,#480,#480,#480,#490,#490,#4a0,#4a0,#4a0,#4b0,#4b0,#4b0,#4c0,#4c0,#4c0,#4c0,#4d0,#4d0,#4d0,#4e0,#4e0,#4e0,#4e0,#4f0,#4f0,#4f0,#4f0,#4f0,#4f0,#4f0,#500,#500,#500,#500,#500,#500,#4f0,#4f0,#4f0,#4f0,#4e0,#4e0,#4e0,#4d0,#4d0,#4c0,#4c0,#4b0,#4a0,#4a0,#490,#480,#480,#470,#460,#460,#450,#450,#440,#430,#430,#420,#410,#3f0,#3d0,#3c0,#3b0,#3b0,#3a0,#390,#390,#380,#380,#370,#360,#360,#350,#350,#340,#340,#330,#320,#320,#320,#310,#310,#310,#300,#300,#2f0,#2f0,#2f0,#2e0,#2e0,#2e0,#2d0,#2d0,#2d0,#2d0,#2c0,#2c0,#2c0,#2b0,#2b0,#2b0,#2b0,#2a0,#2a0,#2a0,#2a0)"></i><i style="background:linear-gradient(90deg,#190,#190,#190,#1a0,#1a0,#1a0,#1a0,#1b0,#1b0,#1b0,#1b0,#1c0,#1c0,#1c0,#1d0,#1d0,#1d0,#1e0,#1e0,#1f0,#1f0,#200,#200,#210,#210,#220,#220,#230,#230,#240,#250,#250,#260,#260,#270,#280,#280,#290,#2a0,#2b0,#2c0,#2d0,#2e0,#2f0,#300,#310,#320,#320,#330,#340,#350,#360,#360,#370,#380,#390,#390,#3a0,#3b0,#3c0,#3d0,#3f0,#400,#420,#420,#420,#430,#430,#430,#430,#430,#430,#440,#440,#440,#440,#440,#440,#440,#450,#450,#450,#450,#450,#450,#450,#460,#460,#460,#460,#460,#470,#470,#470,#480,#480,#480,#490,#490,#4a0,#4a0,#4a0,#4b0,#4b0,#4b0,#4c0,#4c0,#4c0,#4d0,#4d0,#4d0,#4d0,#4e0,#4e0,#4e0,#4f0,#4f0,#4f0,#4f0,#4f0,#500,#500,#500,#500,#500,#500,#500,#500,#500,#500,#500,#500,#500,#4f0,#4f0,#4f0,#4e0,#4e0,#4d0,#4d0,#4c0,#4c0,#4b0,#4a0,#490,#490,#480,#470,#460,#460,#450,#450,#440,#440,#430,#420,#420,#3f0,#3d0,#3c0,#3b0,#3b0,#3a0,#390,#390,#380,#380,#370,#370,#360,#350,#350,#340,#340,#330,#320,#320,#320,#310,#310,#310,#300,#300,#2f0,#2f0,#2f0,#2e0,#2e0,#2e0,#2d0,#2d0,#2d0,#2c0,#2c0,#2c0,#2c0,#2b0,#2b0,#2b0,#2a0,#2a0,#2a0,#2a0,#2a0)"></i><i style="background:linear-gradient(90deg,#190,#190,#190,#190,#1a0,#1a0,#1a0,#1a0,#1b0,#1b0,#1b0,#1b0,#1c0,#1c0,#1c0,#1d0,#1d0,#1e0,#1e0,#1e0,#1f0,#1f0,#200,#210,#210,#220,#220,#230,#230,#240,#250,#250,#260,#260,#270,#280,#280,#290,#2a0,#2b0,#2c0,#2d0,#2e0,#2f0,#300,#310,#320,#330,#330,#340,#350,#360,#370,#370,#380,#390,#3a0,#3a0,#3b0,#3c0,#3e0,#3f0,#410,#420,#420,#420,#430,#430,#430,#430,#430,#430,#440,#440,#440,#440,#440,#440,#450,#450,#450,#450,#450,#450,#450,#460,#460,#460,#460,#460,#470,#470,#470,#480,#480,#480,#490,#490,#4a0,#4a0,#4a0,#4b0,#4b0,#4b0,#4c0,#4c0,#4c0,#4d0,#4d0,#4d0,#4e0,#4e0,#4e0,#4e0,#4f0,#4f0,#4f0,#4f0,#500,#500,#500,#500,#500,#500,#510,#510,#510,#510,#510,#510,#500,#500,#500,#500,#500,#4f0,#4f0,#4e0,#4e0,#4d0,#4d0,#4c0,#4b0,#4b0,#4a0,#490,#480,#480,#470,#460,#450,#450,#440,#440,#430,#430,#420,#400,#3e0,#3c0,#3b0,#3b0,#3a0,#390,#390,#380,#380,#370,#370,#360,#350,#350,#340,#340,#330,#330,#320,#320,#310,#310,#310,#300,#300,#2f0,#2f0,#2f0,#2e0,#2e0,#2e0,#2d0,#2d0,#2d0,#2c0,#2c0,#2c0,#2b0,#2b0,#2b0,#2b0,#2a0,#2a0,#2a0,#2a0,#290)"></i><i style="background:linear-gradient(90deg,#180,#190,#190,#190,#190,#1a0,#1a0,#1a0,#1a0,#1b0,#1b0,#1b0,#1c0,#1c0,#1c0,#1d0,#1d0,#1d0,#1e0,#1e0,#1f0,#1f0,#200,#200,#210,#210,#220,#230,#230,#240,#240,#250,#260,#260,#270,#270,#280,#290,#2a0,#2b0,#2c0,#2d0,#2e0,#2f0,#300,#310,#320,#330,#340,#340,#350,#360,#370,#380,#380,#390,#3a0,#3b0,#3b0,#3d0,#3e0,#400,#410,#420,#420,#420,#430,#430,#430,#430,#430,#440,#440,#440,#440,#440,#440,#450,#450,#450,#450,#450,#450,#450,#450,#460,#460,#460,#460,#470,#470,#470,#480,#480,#480,#490,#490,#4a0,#4a0,#4a0,#4b0,#4b0,#4b0,#4c0,#4c0,#4c0,#4d0,#4d0,#4d0,#4e0,#4e0,#4e0,#4f0,#4f0,#4f0,#4f0,#500,#500,#500,#500,#500,#510,#510,#510,#510,#510,#510,#510,#510,#510,#510,#510,#510,#500,#500,#500,#4f0,#4f0,#4e0,#4e0,#4d0,#4c0,#4c0,#4b0,#4a0,#4a0,#490,#480,#470,#460,#460,#450,#440,#440,#430,#430,#420,#400,#3e0,#3c0,#3b0,#3b0,#3a0,#390,#390,#380,#380,#370,#370,#360,#350,#350,#340,#340,#330,#330,#320,#320,#310,#310,#310,#300,#300,#2f0,#2f0,#2f0,#2e0,#2e0,#2e0,#2d0,#2d0,#2d0,#2c0,#2c0,#2c0,#2b0,#2b0,#2b0,#2a0,#2a0,#2a0,#2a0,#290,#290)"></i><i style="background:linear-gradient(90deg,#180,#180,#190,#190,#190,#190,#190,#1a0,#1a0,#1a0,#1b0,#1b0,#1b0,#1c0,#1c0,#1c0,#1d0,#1d0,#1e0,#1e0,#1e0,#1f0,#200,#200,#210,#210,#220,#220,#230,#240,#240,#250,#260,#260,#270,#270,#280,#290,#2a0,#2b0,#2c0,#2d0,#2e0,#2f0,#300,#310,#320,#330,#340,#350,#350,#360,#370,#380,#390,#390,#3a0,#3b0,#3c0,#3d0,#3e0,#400,#420,#420,#420,#430,#430,#430,#430,#430,#430,#440,#440,#440,#440,#440,#440,#450,#450,#450,#450,#450,#450,#450,#460,#460,#460,#460,#460,#470,#470,#480,#480,#480,#490,#490,#4a0,#4a0,#4a0,#4b0,#4b0,#4b0,#4c0,#4c0,#4c0,#4d0,#4d0,#4d0,#4e0,#4e0,#4e0,#4f0,#4f0,#4f0,#500,#500,#500,#500,#510,#510,#510,#510,#510,#510,#510,#510,#520,#520,#520,#510,#510,#510,#510,#510,#510,#500,#500,#500,#4f0,#4e0,#4e0,#4d0,#4c0,#4c0,#4b0,#4a0,#490,#480,#470,#470,#460,#450,#450,#440,#430,#430,#420,#400,#3e0,#3c0,#3b0,#3b0,#3a0,#3a0,#390,#380,#380,#370,#370,#360,#350,#350,#340,#340,#330,#330,#320,#320,#310,#310,#310,#300,#300,#2f0,#2f0,#2f0,#2e0,#2e0,#2e0,#2d0,#2d0,#2d0,#2c0,#2c0,#2c0,#2b0,#2b0,#2b0,#2a0,#2a0,#2a0,#290,#290,#290)"></i><i style="background:linear-gradient(90deg,#180,#180,#180,#180,#190,#190,#190,#190,#1a0,#1a0,#1a0,#1b0,#1b0,#1b0,#1c0,#1c0,#1d0,#1d0,#1d0,#1e0,#1e0,#1f0,#1f0,#200,#200,#210,#220,#220,#230,#240,#240,#250,#250,#260,#270,#270,#280,#290,#2a0,#2b0,#2c0,#2d0,#2e0,#2f0,#300,#310,#320,#330,#340,#350,#360,#360,#370,#380,#390,#390,#3a0,#3b0,#3c0,#3d0,#3f0,#400,#420,#420,#420,#430,#430,#430,#430,#430,#440,#440,#440,#440,#440,#440,#450,#450,#450,#450,#450,#450,#450,#460,#460,#460,#460,#460,#470,#470,#480,#480,#480,#490,#490,#4a0,#4a0,#4a0,#4b0,#4b0,#4b0,#4c0,#4c0,#4c0,#4d0,#4d0,#4d0,#4e0,#4e0,#4e0,#4f0,#4f0,#4f0,#500,#500,#500,#510,#510,#510,#510,#510,#510,#520,#520,#520,#520,#520,#520,#520,#520,#520,#520,#520,#510,#510,#510,#500,#500,#4f0,#4f0,#4e0,#4d0,#4d0,#4c0,#4b0,#4a0,#4a0,#490,#480,#470,#460,#450,#450,#440,#430,#430,#420,#400,#3e0,#3c0,#3b0,#3b0,#3a0,#3a0,#390,#380,#380,#370,#370,#360,#360,#350,#340,#340,#330,#330,#320,#320,#310,#310,#300,#300,#300,#2f0,#2f0,#2f0,#2e0,#2e0,#2e0,#2d0,#2d0,#2c0,#2c0,#2c0,#2b0,#2b0,#2b0,#2a0,#2a0,#2a0,#290,#290,#290,#290)"></i><i style="background:linear-gradient(90deg,#170,#180,#180,#180,#180,#190,#190,#190,#190,#1a0,#1a0,#1a0,#1b0,#1b0,#1c0,#1c0,#1c0,#1d0,#1d0,#1e0,#1e0,#1f0,#1f0,#200,#200,#210,#220,#220,#230,#230,#240,#250,#250,#260,#270,#270,#280,#290,#2a0,#2b0,#2c0,#2d0,#2e0,#2f0,#300,#310,#320,#330,#340,#350,#360,#370,#370,#380,#390,#3a0,#3a0,#3b0,#3c0,#3e0,#3f0,#410,#420,#420,#430,#430,#430,#430,#430,#430,#440,#440,#440,#440,#440,#440,#450,#450,#450,#450,#450,#450,#460,#460,#460,#460,#460,#470,#470,#480,#480,#480,#490,#490,#4a0,#4a0,#4a0,#4b0,#4b0,#4b0,#4c0,#4c0,#4d0,#4d0,#4d0,#4e0,#4e0,#4e0,#4f0,#4f0,#4f0,#500,#500,#500,#500,#510,#510,#510,#510,#520,#520,#520,#520,#520,#520,#520,#520,#520,#520,#520,#520,#520,#520,#520,#510,#510,#510,#500,#500,#4f0,#4f0,#4e0,#4d0,#4c0,#4c0,#4b0,#4a0,#490,#480,#470,#460,#460,#450,#440,#440,#430,#420,#400,#3e0,#3c0,#3b0,#3b0,#3a0,#3a0,#390,#380,#380,#370,#370,#360,#360,#350,#340,#340,#330,#330,#320,#320,#310,#310,#300,#300,#300,#2f0,#2f0,#2f0,#2e0,#2e0,#2e0,#2d0,#2d0,#2c0,#2c0,#2c0,#2b0,#2b0,#2b0,#2a0,#2a0,#2a0,#290,#290,#290,#280)"></i><i style="background:linear-gradient(90deg,#170,#170,#180,#180,#180,#180,#190,#190,#190,#1a0,#1a0,#1a0,#1b0,#1b0,#1b0,#1c0,#1c0,#1c0,#1d0,#1d0,#1e0,#1e0,#1f0,#200,#200,#210,#210,#220,#230,#230,#240,#250,#250,#260,#270,#270,#280,#290,#2a0,#2b0,#2c0,#2d0,#2e0,#300,#310,#320,#330,#330,#340,#350,#360,#370,#370,#380,#390,#3a0,#3b0,#3c0,#3d0,#3e0,#400,#410,#420,#420,#430,#430,#430,#430,#430,#440,#440,#440,#440,#440,#440,#450,#450,#450,#450,#450,#450,#460,#460,#460,#460,#460,#470,#470,#480,#480,#480,#490,#490,#4a0,#4a0,#4a0,#4b0,#4b0,#4b0,#4c0,#4c0,#4d0,#4d0,#4d0,#4e0,#4e0,#4e0,#4f0,#4f0,#4f0,#500,#500,#500,#500,#510,#510,#510,#520,#520,#520,#520,#520,#520,#530,#530,#530,#530,#530,#530,#530,#530,#530,#520,#520,#520,#520,#510,#510,#500,#500,#4f0,#4e0,#4e0,#4d0,#4c0,#4b0,#4a0,#490,#490,#480,#470,#460,#450,#440,#440,#430,#420,#410,#3e0,#3c0,#3b0,#3b0,#3a0,#3a0,#390,#390,#380,#370,#370,#360,#360,#350,#340,#340,#330,#330,#320,#320,#310,#310,#300,#300,#300,#2f0,#2f0,#2f0,#2e0,#2e0,#2d0,#2d0,#2d0,#2c0,#2c0,#2c0,#2b0,#2b0,#2b0,#2a0,#2a0,#290,#290,#290,#280,#280)"></i><i style="background:linear-gradient(90deg,#170,#170,#170,#180,#180,#180,#180,#190,#190,#190,#1a0,#1a0,#1a0,#1b0,#1b0,#1b0,#1c0,#1c0,#1d0,#1d0,#1e0,#1e0,#1f0,#1f0,#200,#210,#210,#220,#230,#230,#240,#240,#250,#260,#270,#270,#280,#290,#2a0,#2b0,#2c0,#2d0,#2f0,#300,#310,#320,#330,#340,#340,#350,#360,#370,#380,#390,#390,#3a0,#3b0,#3c0,#3d0,#3f0,#400,#420,#420,#420,#430,#430,#430,#430,#430,#440,#440,#440,#440,#440,#450,#450,#450,#450,#450,#450,#450,#460,#460,#460,#460,#470,#470,#480,#480,#480,#490,#490,#4a0,#4a0,#4a0,#4b0,#4b0,#4b0,#4c0,#4c0,#4d0,#4d0,#4d0,#4e0,#4e0,#4e0,#4f0,#4f0,#4f0,#500,#500,#500,#510,#510,#510,#510,#520,#520,#520,#520,#530,#530,#530,#530,#530,#530,#530,#530,#530,#530,#530,#530,#530,#530,#520,#520,#520,#510,#510,#500,#500,#4f0,#4e0,#4d0,#4c0,#4c0,#4b0,#4a0,#490,#480,#470,#460,#450,#450,#440,#430,#420,#410,#3f0,#3c0,#3b0,#3b0,#3a0,#3a0,#390,#390,#380,#370,#370,#360,#360,#350,#340,#340,#330,#330,#320,#320,#310,#310,#300,#300,#300,#2f0,#2f0,#2f0,#2e0,#2e0,#2d0,#2d0,#2d0,#2c0,#2c0,#2c0,#2b0,#2b0,#2a0,#2a0,#2a0,#290,#290,#290,#280,#280)"></i><i style="background:linear-gradient(90deg,#160,#170,#170,#170,#170,#180,#180,#180,#190,#190,#190,#1a0,#1a0,#1a0,#1b0,#1b0,#1c0,#1c0,#1d0,#1d0,#1d0,#1e0,#1e0,#1f0,#200,#200,#210,#220,#220,#230,#240,#240,#250,#260,#260,#270,#280,#290,#2a0,#2b0,#2c0,#2e0,#2f0,#300,#310,#320,#330,#340,#350,#350,#360,#370,#380,#390,#3a0,#3a0,#3b0,#3c0,#3e0,#3f0,#410,#420,#420,#430,#430,#430,#430,#430,#440,#440,#440,#440,#440,#440,#450,#450,#450,#450,#450,#450,#460,#460,#460,#460,#470,#470,#470,#480,#480,#490,#490,#490,#4a0,#4a0,#4b0,#4b0,#4b0,#4c0,#4c0,#4d0,#4d0,#4d0,#4e0,#4e0,#4e0,#4f0,#4f0,#4f0,#500,#500,#500,#510,#510,#510,#520,#520,#520,#520,#530,#530,#530,#530,#530,#530,#540,#540,#540,#540,#540,#540,#540,#530,#530,#530,#530,#520,#520,#520,#510,#510,#500,#4f0,#4f0,#4e0,#4d0,#4c0,#4b0,#4a0,#490,#480,#470,#460,#460,#450,#440,#430,#430,#410,#3f0,#3d0,#3c0,#3b0,#3a0,#3a0,#390,#390,#380,#370,#370,#360,#360,#350,#340,#340,#330,#330,#320,#320,#310,#310,#300,#300,#300,#2f0,#2f0,#2e0,#2e0,#2e0,#2d0,#2d0,#2d0,#2c0,#2c0,#2b0,#2b0,#2b0,#2a0,#2a0,#2a0,#290,#290,#280,#280,#280)"></i><i style="background:linear-gradient(90deg,#160,#160,#170,#170,#170,#170,#180,#180,#180,#190,#190,#190,#1a0,#1a0,#1b0,#1b0,#1b0,#1c0,#1c0,#1d0,#1d0,#1e0,#1e0,#1f0,#200,#200,#210,#220,#220,#230,#240,#240,#250,#260,#260,#270,#280,#290,#2a0,#2b0,#2c0,#2e0,#2f0,#300,#310,#320,#330,#340,#350,#360,#360,#370,#380,#390,#3a0,#3b0,#3b0,#3c0,#3e0,#400,#410,#420,#420,#430,#430,#430,#430,#430,#440,#440,#440,#440,#440,#450,#450,#450,#450,#450,#450,#460,#460,#460,#460,#470,#470,#470,#480,#480,#490,#490,#490,#4a0,#4a0,#4b0,#4b0,#4b0,#4c0,#4c0,#4d0,#4d0,#4d0,#4e0,#4e0,#4e0,#4f0,#4f0,#4f0,#500,#500,#500,#510,#510,#510,#520,#520,#520,#520,#530,#530,#530,#530,#540,#540,#540,#540,#540,#540,#540,#540,#540,#540,#540,#540,#530,#530,#530,#520,#520,#520,#510,#510,#500,#4f0,#4e0,#4d0,#4c0,#4c0,#4b0,#4a0,#490,#480,#470,#460,#450,#440,#430,#430,#410,#3f0,#3d0,#3c0,#3b0,#3a0,#3a0,#390,#390,#380,#370,#370,#360,#360,#350,#350,#340,#330,#330,#320,#320,#310,#310,#300,#300,#300,#2f0,#2f0,#2e0,#2e0,#2e0,#2d0,#2d0,#2c0,#2c0,#2c0,#2b0,#2b0,#2b0,#2a0,#2a0,#2a0,#290,#290,#280,#280,#280)"></i><i style="background:linear-gradient(90deg,#160,#160,#160,#170,#170,#170,#170,#180,#180,#180,#190,#190,#1a0,#1a0,#1a0,#1b0,#1b0,#1c0,#1c0,#1d0,#1d0,#1e0,#1e0,#1f0,#1f0,#200,#210,#210,#220,#230,#230,#240,#250,#260,#260,#270,#280,#290,#2a0,#2b0,#2c0,#2e0,#2f0,#300,#310,#320,#330,#340,#350,#360,#370,#370,#380,#390,#3a0,#3b0,#3c0,#3d0,#3e0,#400,#420,#420,#420,#430,#430,#430,#430,#440,#440,#440,#440,#440,#450,#450,#450,#450,#450,#450,#460,#460,#460,#460,#470,#470,#470,#480,#480,#490,#490,#490,#4a0,#4a0,#4b0,#4b0,#4b0,#4c0,#4c0,#4d0,#4d0,#4d0,#4e0,#4e0,#4e0,#4f0,#4f0,#4f0,#500,#500,#500,#510,#510,#510,#520,#520,#520,#530,#530,#530,#530,#540,#540,#540,#540,#540,#540,#550,#550,#550,#550,#550,#550,#540,#540,#540,#540,#530,#530,#520,#520,#520,#510,#500,#500,#4f0,#4e0,#4d0,#4c0,#4b0,#4a0,#490,#480,#470,#460,#450,#440,#440,#430,#420,#3f0,#3d0,#3c0,#3b0,#3a0,#3a0,#390,#390,#380,#380,#370,#360,#360,#350,#350,#340,#330,#330,#320,#320,#310,#310,#300,#300,#300,#2f0,#2f0,#2e0,#2e0,#2e0,#2d0,#2d0,#2c0,#2c0,#2c0,#2b0,#2b0,#2a0,#2a0,#2a0,#290,#290,#290,#280,#280,#280)"></i><i style="background:linear-gradient(90deg,#160,#160,#160,#160,#170,#170,#170,#180,#180,#180,#190,#190,#190,#1a0,#1a0,#1b0,#1b0,#1c0,#1c0,#1c0,#1d0,#1d0,#1e0,#1f0,#1f0,#200,#210,#210,#220,#230,#230,#240,#250,#260,#260,#270,#280,#290,#2a0,#2b0,#2d0,#2e0,#2f0,#300,#310,#330,#330,#340,#350,#360,#370,#380,#380,#390,#3a0,#3b0,#3c0,#3d0,#3f0,#410,#420,#420,#430,#430,#430,#430,#430,#440,#440,#440,#440,#440,#450,#450,#450,#450,#450,#450,#460,#460,#460,#460,#470,#470,#480,#480,#490,#490,#490,#4a0,#4a0,#4b0,#4b0,#4b0,#4c0,#4c0,#4d0,#4d0,#4d0,#4e0,#4e0,#4e0,#4f0,#4f0,#500,#500,#500,#510,#510,#510,#510,#520,#520,#520,#530,#530,#530,#530,#540,#540,#540,#540,#550,#550,#550,#550,#550,#550,#550,#550,#550,#550,#550,#540,#540,#540,#530,#530,#520,#520,#510,#510,#500,#4f0,#4e0,#4d0,#4c0,#4b0,#4a0,#490,#480,#470,#460,#450,#450,#440,#430,#420,#400,#3d0,#3c0,#3b0,#3b0,#3a0,#390,#390,#380,#380,#370,#360,#360,#350,#350,#340,#330,#330,#320,#320,#310,#310,#300,#300,#300,#2f0,#2f0,#2e0,#2e0,#2d0,#2d0,#2d0,#2c0,#2c0,#2b0,#2b0,#2b0,#2a0,#2a0,#2a0,#290,#290,#290,#280,#280,#280)"></i><i style="background:linear-gradient(90deg,#150,#150,#160,#160,#160,#170,#170,#170,#180,#180,#180,#190,#190,#1a0,#1a0,#1a0,#1b0,#1b0,#1c0,#1c0,#1d0,#1d0,#1e0,#1e0,#1f0,#200,#200,#210,#220,#230,#230,#240,#250,#250,#260,#270,#280,#290,#2a0,#2b0,#2d0,#2e0,#2f0,#300,#320,#330,#340,#340,#350,#360,#370,#380,#390,#3a0,#3a0,#3b0,#3c0,#3e0,#3f0,#410,#420,#420,#430,#430,#430,#430,#440,#440,#440,#440,#440,#450,#450,#450,#450,#450,#450,#460,#460,#460,#460,#470,#470,#480,#480,#480,#490,#490,#4a0,#4a0,#4b0,#4b0,#4b0,#4c0,#4c0,#4d0,#4d0,#4d0,#4e0,#4e0,#4e0,#4f0,#4f0,#500,#500,#500,#510,#510,#510,#520,#520,#520,#520,#530,#530,#530,#540,#540,#540,#540,#550,#550,#550,#550,#550,#550,#560,#560,#560,#550,#550,#550,#550,#550,#540,#540,#540,#530,#530,#520,#520,#510,#510,#500,#4f0,#4e0,#4d0,#4c0,#4b0,#4a0,#490,#480,#470,#460,#450,#440,#430,#420,#400,#3e0,#3c0,#3b0,#3b0,#3a0,#390,#390,#380,#380,#370,#360,#360,#350,#350,#340,#330,#330,#320,#320,#310,#310,#300,#300,#300,#2f0,#2f0,#2e0,#2e0,#2d0,#2d0,#2d0,#2c0,#2c0,#2b0,#2b0,#2b0,#2a0,#2a0,#290,#290,#290,#280,#280,#280,#280)"></i><i style="background:linear-gradient(90deg,#150,#150,#150,#160,#160,#160,#170,#170,#170,#180,#180,#190,#190,#190,#1a0,#1a0,#1b0,#1b0,#1c0,#1c0,#1d0,#1d0,#1e0,#1e0,#1f0,#200,#200,#210,#220,#220,#230,#240,#250,#250,#260,#270,#280,#290,#2a0,#2b0,#2d0,#2e0,#2f0,#310,#320,#330,#340,#350,#350,#360,#370,#380,#390,#3a0,#3b0,#3b0,#3d0,#3e0,#400,#410,#420,#420,#430,#430,#430,#430,#440,#440,#440,#440,#440,#450,#450,#450,#450,#450,#460,#460,#460,#460,#470,#470,#480,#480,#480,#490,#490,#4a0,#4a0,#4b0,#4b0,#4b0,#4c0,#4c0,#4d0,#4d0,#4d0,#4e0,#4e0,#4e0,#4f0,#4f0,#500,#500,#500,#510,#510,#510,#520,#520,#520,#530,#530,#530,#530,#540,#540,#540,#550,#550,#550,#550,#550,#560,#560,#560,#560,#560,#560,#560,#560,#560,#550,#550,#550,#550,#540,#540,#530,#530,#520,#520,#510,#500,#4f0,#4e0,#4d0,#4c0,#4b0,#4a0,#490,#480,#470,#460,#450,#440,#430,#420,#400,#3e0,#3c0,#3b0,#3b0,#3a0,#390,#390,#380,#380,#370,#360,#360,#350,#350,#340,#330,#330,#320,#320,#310,#310,#300,#300,#300,#2f0,#2f0,#2e0,#2e0,#2d0,#2d0,#2d0,#2c0,#2c0,#2b0,#2b0,#2a0,#2a0,#2a0,#290,#290,#290,#280,#280,#280,#280)"></i><i style="background:linear-gradient(90deg,#150,#150,#150,#150,#160,#160,#160,#170,#170,#170,#180,#180,#190,#190,#1a0,#1a0,#1b0,#1b0,#1c0,#1c0,#1d0,#1d0,#1d0,#1e0,#1f0,#1f0,#200,#210,#220,#220,#230,#240,#250,#250,#260,#270,#280,#290,#2a0,#2b0,#2d0,#2e0,#2f0,#310,#320,#330,#340,#350,#360,#360,#370,#380,#390,#3a0,#3b0,#3c0,#3d0,#3f0,#400,#420,#420,#430,#430,#430,#430,#430,#440,#440,#440,#440,#450,#450,#450,#450,#450,#460,#460,#460,#460,#470,#470,#480,#480,#480,#490,#490,#4a0,#4a0,#4a0,#4b0,#4b0,#4c0,#4c0,#4d0,#4d0,#4d0,#4e0,#4e0,#4e0,#4f0,#4f0,#500,#500,#500,#510,#510,#510,#520,#520,#520,#530,#530,#530,#540,#540,#540,#540,#550,#550,#550,#550,#560,#560,#560,#560,#560,#560,#560,#560,#560,#560,#560,#560,#560,#550,#550,#550,#540,#540,#530,#530,#520,#510,#510,#500,#4f0,#4e0,#4d0,#4c0,#4b0,#4a0,#480,#470,#460,#450,#440,#430,#420,#410,#3e0,#3c0,#3b0,#3b0,#3a0,#390,#390,#380,#380,#370,#360,#360,#350,#350,#340,#330,#330,#320,#320,#310,#310,#300,#300,#2f0,#2f0,#2f0,#2e0,#2e0,#2d0,#2d0,#2c0,#2c0,#2c0,#2b0,#2b0,#2a0,#2a0,#2a0,#290,#290,#280,#280,#280,#280,#280)"></i><i style="background:linear-gradient(90deg,#140,#140,#150,#150,#150,#160,#160,#160,#170,#170,#180,#180,#190,#190,#190,#1a0,#1a0,#1b0,#1b0,#1c0,#1c0,#1d0,#1d0,#1e0,#1f0,#1f0,#200,#210,#210,#220,#230,#240,#240,#250,#260,#270,#280,#290,#2a0,#2b0,#2d0,#2e0,#300,#310,#320,#330,#340,#350,#360,#370,#380,#380,#390,#3a0,#3b0,#3c0,#3d0,#3f0,#410,#420,#420,#430,#430,#430,#430,#440,#440,#440,#440,#440,#450,#450,#450,#450,#450,#460,#460,#460,#470,#470,#470,#480,#480,#490,#490,#4a0,#4a0,#4a0,#4b0,#4b0,#4c0,#4c0,#4c0,#4d0,#4d0,#4e0,#4e0,#4e0,#4f0,#4f0,#500,#500,#500,#510,#510,#510,#520,#520,#520,#530,#530,#530,#540,#540,#540,#550,#550,#550,#550,#560,#560,#560,#560,#560,#570,#570,#570,#570,#570,#570,#570,#570,#560,#560,#560,#560,#550,#550,#540,#540,#530,#530,#520,#510,#500,#4f0,#4e0,#4d0,#4c0,#4b0,#4a0,#490,#480,#470,#460,#450,#440,#430,#410,#3e0,#3c0,#3b0,#3b0,#3a0,#3a0,#390,#380,#380,#370,#370,#360,#350,#350,#340,#330,#330,#320,#320,#310,#310,#300,#300,#2f0,#2f0,#2f0,#2e0,#2e0,#2d0,#2d0,#2c0,#2c0,#2c0,#2b0,#2b0,#2a0,#2a0,#290,#290,#290,#280,#280,#280,#280,#270)"></i><i style="background:linear-gradient(90deg,#140,#140,#140,#150,#150,#150,#160,#160,#170,#170,#170,#180,#180,#190,#190,#1a0,#1a0,#1b0,#1b0,#1c0,#1c0,#1d0,#1d0,#1e0,#1e0,#1f0,#200,#210,#210,#220,#230,#240,#240,#250,#260,#270,#270,#290,#2a0,#2b0,#2d0,#2e0,#300,#310,#320,#330,#340,#350,#360,#370,#380,#390,#390,#3a0,#3b0,#3c0,#3e0,#400,#410,#420,#420,#430,#430,#430,#430,#440,#440,#440,#440,#450,#450,#450,#450,#450,#460,#460,#460,#470,#470,#470,#480,#480,#490,#490,#4a0,#4a0,#4a0,#4b0,#4b0,#4c0,#4c0,#4c0,#4d0,#4d0,#4e0,#4e0,#4e0,#4f0,#4f0,#500,#500,#500,#510,#510,#510,#520,#520,#520,#530,#530,#530,#540,#540,#540,#550,#550,#550,#550,#560,#560,#560,#560,#570,#570,#570,#570,#570,#570,#570,#570,#570,#570,#570,#570,#560,#560,#560,#550,#550,#540,#540,#530,#520,#510,#510,#500,#4f0,#4e0,#4d0,#4b0,#4a0,#490,#480,#470,#460,#450,#440,#430,#410,#3f0,#3d0,#3b0,#3b0,#3a0,#3a0,#390,#380,#380,#370,#370,#360,#350,#350,#340,#340,#330,#320,#320,#310,#310,#300,#300,#2f0,#2f0,#2f0,#2e0,#2e0,#2d0,#2d0,#2c0,#2c0,#2b0,#2b0,#2b0,#2a0,#2a0,#290,#290,#280,#280,#280,#280,#280,#270)"></i><i style="background:linear-gradient(90deg,#140,#140,#140,#140,#150,#150,#150,#160,#160,#170,#170,#180,#180,#190,#190,#1a0,#1a0,#1b0,#1b0,#1c0,#1c0,#1d0,#1d0,#1e0,#1e0,#1f0,#200,#210,#210,#220,#230,#240,#240,#250,#260,#270,#270,#280,#2a0,#2b0,#2d0,#2e0,#300,#310,#330,#330,#340,#350,#360,#370,#380,#390,#3a0,#3b0,#3b0,#3d0,#3e0,#400,#420,#420,#430,#430,#430,#430,#440,#440,#440,#440,#450,#450,#450,#450,#450,#460,#460,#460,#460,#470,#470,#480,#480,#490,#490,#4a0,#4a0,#4a0,#4b0,#4b0,#4c0,#4c0,#4c0,#4d0,#4d0,#4e0,#4e0,#4e0,#4f0,#4f0,#500,#500,#500,#510,#510,#520,#520,#520,#530,#530,#530,#540,#540,#540,#540,#550,#550,#550,#560,#560,#560,#560,#570,#570,#570,#570,#570,#580,#580,#580,#580,#580,#580,#570,#570,#570,#570,#570,#560,#560,#550,#550,#540,#540,#530,#520,#510,#500,#4f0,#4e0,#4d0,#4c0,#4b0,#4a0,#480,#470,#460,#450,#440,#430,#420,#3f0,#3d0,#3c0,#3b0,#3a0,#3a0,#390,#380,#380,#370,#370,#360,#350,#350,#340,#340,#330,#320,#320,#310,#310,#300,#300,#2f0,#2f0,#2e0,#2e0,#2e0,#2d0,#2d0,#2c0,#2c0,#2b0,#2b0,#2a0,#2a0,#2a0,#290,#290,#280,#280,#280,#280,#270,#270)"></i><i style="background:linear-gradient(90deg,#130,#140,#140,#140,#140,#150,#150,#160,#160,#170,#170,#180,#180,#190,#190,#1a0,#1a0,#1b0,#1b0,#1c0,#1c0,#1d0,#1d0,#1e0,#1e0,#1f0,#200,#200,#210,#220,#230,#240,#240,#250,#260,#270,#270,#290,#2a0,#2c0,#2d0,#2f0,#300,#320,#330,#340,#350,#350,#360,#370,#380,#390,#3a0,#3b0,#3c0,#3d0,#3f0,#410,#420,#420,#430,#430,#430,#430,#440,#440,#440,#440,#450,#450,#450,#450,#460,#460,#460,#460,#470,#470,#480,#480,#490,#490,#490,#4a0,#4a0,#4b0,#4b0,#4c0,#4c0,#4c0,#4d0,#4d0,#4e0,#4e0,#4e0,#4f0,#4f0,#500,#500,#500,#510,#510,#520,#520,#520,#530,#530,#530,#540,#540,#540,#550,#550,#550,#550,#560,#560,#560,#570,#570,#570,#570,#570,#580,#580,#580,#580,#580,#580,#580,#580,#580,#580,#580,#580,#570,#570,#570,#560,#550,#550,#540,#530,#520,#520,#510,#500,#4f0,#4d0,#4c0,#4b0,#4a0,#490,#480,#460,#450,#440,#430,#420,#3f0,#3d0,#3c0,#3b0,#3a0,#3a0,#390,#390,#380,#370,#370,#360,#350,#350,#340,#340,#330,#320,#320,#310,#310,#300,#300,#2f0,#2f0,#2e0,#2e0,#2e0,#2d0,#2d0,#2c0,#2c0,#2b0,#2b0,#2a0,#2a0,#290,#290,#290,#280,#280,#280,#280,#270,#270)"></i><i style="background:linear-gradient(90deg,#130,#130,#140,#140,#140,#150,#150,#160,#160,#170,#170,#180,#180,#190,#190,#1a0,#1a0,#1b0,#1b0,#1c0,#1c0,#1c0,#1d0,#1d0,#1e0,#1f0,#200,#200,#210,#220,#230,#230,#240,#250,#260,#270,#270,#280,#2a0,#2c0,#2d0,#2f0,#300,#320,#330,#340,#350,#360,#370,#370,#380,#390,#3a0,#3b0,#3c0,#3e0,#3f0,#410,#420,#420,#430,#430,#430,#440,#440,#440,#440,#450,#450,#450,#450,#450,#460,#460,#460,#470,#470,#480,#480,#490,#490,#490,#4a0,#4a0,#4b0,#4b0,#4c0,#4c0,#4c0,#4d0,#4d0,#4e0,#4e0,#4e0,#4f0,#4f0,#500,#500,#500,#510,#510,#520,#520,#520,#530,#530,#530,#540,#540,#540,#550,#550,#550,#560,#560,#560,#560,#570,#570,#570,#570,#580,#580,#580,#580,#580,#590,#590,#590,#590,#590,#590,#590,#580,#580,#580,#580,#570,#570,#560,#550,#550,#540,#530,#520,#510,#500,#4f0,#4e0,#4d0,#4c0,#4a0,#490,#480,#470,#460,#440,#430,#420,#400,#3d0,#3c0,#3b0,#3a0,#3a0,#390,#390,#380,#370,#370,#360,#350,#350,#340,#340,#330,#320,#320,#310,#310,#300,#300,#2f0,#2f0,#2e0,#2e0,#2d0,#2d0,#2d0,#2c0,#2c0,#2b0,#2b0,#2a0,#2a0,#290,#290,#280,#280,#280,#280,#270,#270,#270)"></i><i style="background:linear-gradient(90deg,#130,#130,#130,#140,#140,#150,#150,#160,#160,#170,#170,#180,#180,#190,#190,#190,#1a0,#1a0,#1b0,#1b0,#1c0,#1c0,#1d0,#1d0,#1e0,#1f0,#1f0,#200,#210,#220,#230,#230,#240,#250,#260,#270,#270,#290,#2a0,#2c0,#2d0,#2f0,#300,#320,#330,#340,#350,#360,#370,#380,#390,#390,#3a0,#3b0,#3c0,#3e0,#400,#420,#420,#430,#430,#430,#430,#440,#440,#440,#440,#450,#450,#450,#450,#460,#460,#460,#470,#470,#480,#480,#480,#490,#490,#4a0,#4a0,#4b0,#4b0,#4c0,#4c0,#4c0,#4d0,#4d0,#4e0,#4e0,#4e0,#4f0,#4f0,#500,#500,#500,#510,#510,#520,#520,#520,#530,#530,#530,#540,#540,#540,#550,#550,#550,#560,#560,#560,#570,#570,#570,#570,#580,#580,#580,#580,#590,#590,#590,#590,#590,#590,#590,#590,#590,#590,#590,#590,#590,#580,#580,#570,#570,#560,#550,#540,#540,#530,#520,#510,#4f0,#4e0,#4d0,#4c0,#4b0,#4a0,#480,#470,#460,#450,#440,#420,#400,#3e0,#3c0,#3b0,#3a0,#3a0,#390,#390,#380,#370,#370,#360,#350,#350,#340,#340,#330,#320,#320,#310,#310,#300,#300,#2f0,#2f0,#2e0,#2e0,#2d0,#2d0,#2c0,#2c0,#2b0,#2b0,#2b0,#2a0,#2a0,#290,#290,#280,#280,#280,#280,#270,#270,#270)"></i><i style="background:linear-gradient(90deg,#130,#130,#140,#140,#140,#150,#150,#160,#160,#170,#170,#180,#180,#180,#190,#190,#1a0,#1a0,#1b0,#1b0,#1c0,#1c0,#1d0,#1d0,#1e0,#1e0,#1f0,#200,#210,#220,#230,#230,#240,#250,#260,#270,#270,#280,#2a0,#2c0,#2d0,#2f0,#310,#320,#330,#340,#350,#360,#370,#380,#390,#3a0,#3b0,#3b0,#3d0,#3f0,#400,#420,#420,#430,#430,#430,#430,#440,#440,#440,#450,#450,#450,#450,#460,#460,#460,#470,#470,#470,#480,#480,#490,#490,#4a0,#4a0,#4b0,#4b0,#4b0,#4c0,#4c0,#4d0,#4d0,#4e0,#4e0,#4e0,#4f0,#4f0,#500,#500,#500,#510,#510,#520,#520,#520,#530,#530,#540,#540,#540,#550,#550,#550,#550,#560,#560,#560,#570,#570,#570,#570,#580,#580,#580,#590,#590,#590,#590,#590,#590,#5a0,#5a0,#5a0,#5a0,#5a0,#5a0,#5a0,#5a0,#590,#590,#590,#580,#570,#570,#560,#550,#540,#530,#520,#510,#500,#4f0,#4e0,#4c0,#4b0,#4a0,#490,#480,#460,#450,#440,#430,#410,#3e0,#3c0,#3b0,#3b0,#3a0,#390,#390,#380,#370,#370,#360,#360,#350,#340,#340,#330,#320,#320,#310,#310,#300,#300,#2f0,#2f0,#2e0,#2e0,#2d0,#2d0,#2c0,#2c0,#2b0,#2b0,#2a0,#2a0,#290,#290,#290,#280,#280,#280,#280,#270,#270,#270)"></i><i style="background:linear-gradient(90deg,#130,#130,#140,#140,#140,#150,#150,#160,#160,#170,#170,#170,#180,#180,#190,#190,#1a0,#1a0,#1b0,#1b0,#1c0,#1c0,#1d0,#1d0,#1e0,#1e0,#1f0,#200,#210,#220,#220,#230,#240,#250,#260,#270,#270,#280,#2a0,#2c0,#2d0,#2f0,#310,#320,#330,#340,#350,#360,#370,#380,#390,#3a0,#3b0,#3c0,#3d0,#3f0,#410,#420,#420,#430,#430,#430,#440,#440,#440,#440,#450,#450,#450,#450,#460,#460,#460,#470,#470,#480,#480,#490,#490,#4a0,#4a0,#4b0,#4b0,#4b0,#4c0,#4c0,#4d0,#4d0,#4e0,#4e0,#4e0,#4f0,#4f0,#500,#500,#500,#510,#510,#520,#520,#520,#530,#530,#540,#540,#540,#550,#550,#550,#560,#560,#560,#570,#570,#570,#570,#580,#580,#580,#580,#590,#590,#590,#590,#5a0,#5a0,#5a0,#5a0,#5a0,#5b0,#5b0,#5b0,#5b0,#5b0,#5b0,#5a0,#5a0,#590,#590,#580,#570,#570,#560,#550,#540,#530,#520,#510,#4f0,#4e0,#4d0,#4c0,#4a0,#490,#480,#470,#450,#440,#430,#410,#3e0,#3c0,#3b0,#3b0,#3a0,#390,#390,#380,#370,#370,#360,#360,#350,#340,#340,#330,#320,#320,#310,#310,#300,#300,#2f0,#2f0,#2e0,#2e0,#2d0,#2d0,#2c0,#2c0,#2b0,#2b0,#2a0,#2a0,#290,#290,#280,#280,#280,#280,#270,#270,#270,#270)"></i><i style="background:linear-gradient(90deg,#130,#130,#130,#140,#140,#150,#150,#150,#160,#160,#170,#170,#180,#180,#190,#190,#1a0,#1a0,#1b0,#1b0,#1c0,#1c0,#1d0,#1d0,#1e0,#1e0,#1f0,#200,#210,#220,#220,#230,#240,#250,#260,#270,#270,#280,#2a0,#2c0,#2d0,#2f0,#310,#320,#330,#340,#350,#360,#370,#380,#390,#3a0,#3b0,#3c0,#3e0,#400,#410,#420,#430,#430,#430,#430,#440,#440,#440,#450,#450,#450,#450,#460,#460,#460,#470,#470,#480,#480,#490,#490,#4a0,#4a0,#4b0,#4b0,#4b0,#4c0,#4c0,#4d0,#4d0,#4e0,#4e0,#4e0,#4f0,#4f0,#500,#500,#500,#510,#510,#520,#520,#520,#530,#530,#540,#540,#540,#550,#550,#550,#560,#560,#560,#570,#570,#570,#570,#580,#580,#580,#590,#590,#590,#590,#5a0,#5a0,#5a0,#5b0,#5b0,#5b0,#5b0,#5b0,#5c0,#5c0,#5c0,#5c0,#5b0,#5b0,#5b0,#5a0,#5a0,#590,#580,#570,#560,#550,#540,#530,#520,#510,#500,#4f0,#4d0,#4c0,#4b0,#4a0,#480,#470,#460,#440,#430,#410,#3f0,#3c0,#3b0,#3b0,#3a0,#390,#390,#380,#380,#370,#360,#360,#350,#340,#340,#330,#320,#320,#310,#310,#300,#300,#2f0,#2f0,#2e0,#2e0,#2d0,#2d0,#2c0,#2c0,#2b0,#2b0,#2a0,#2a0,#290,#290,#280,#280,#280,#280,#270,#270,#270,#270)"></i><i style="background:linear-gradient(90deg,#130,#130,#130,#140,#140,#140,#150,#150,#160,#160,#170,#170,#180,#180,#190,#190,#1a0,#1a0,#1b0,#1b0,#1c0,#1c0,#1d0,#1d0,#1e0,#1e0,#1f0,#200,#210,#220,#220,#230,#240,#250,#260,#270,#270,#290,#2a0,#2c0,#2e0,#2f0,#310,#320,#330,#340,#350,#360,#370,#380,#390,#3a0,#3b0,#3c0,#3e0,#400,#420,#420,#430,#430,#430,#440,#440,#440,#440,#450,#450,#450,#460,#460,#460,#470,#470,#480,#480,#490,#490,#4a0,#4a0,#4a0,#4b0,#4b0,#4c0,#4c0,#4d0,#4d0,#4e0,#4e0,#4e0,#4f0,#4f0,#500,#500,#500,#510,#510,#520,#520,#520,#530,#530,#540,#540,#540,#550,#550,#560,#560,#560,#560,#570,#570,#570,#580,#580,#580,#580,#590,#590,#590,#590,#5a0,#5a0,#5b0,#5b0,#5b0,#5c0,#5c0,#5c0,#5c0,#5d0,#5d0,#5d0,#5d0,#5c0,#5c0,#5c0,#5b0,#5a0,#5a0,#590,#580,#570,#560,#550,#540,#530,#520,#500,#4f0,#4e0,#4d0,#4b0,#4a0,#490,#470,#460,#450,#430,#420,#3f0,#3d0,#3b0,#3b0,#3a0,#3a0,#390,#380,#380,#370,#360,#360,#350,#340,#340,#330,#320,#320,#310,#310,#300,#300,#2f0,#2f0,#2e0,#2e0,#2d0,#2d0,#2c0,#2c0,#2b0,#2b0,#2a0,#2a0,#290,#290,#280,#280,#280,#270,#270,#270,#270,#270)"></i><i style="background:linear-gradient(90deg,#130,#130,#130,#130,#140,#140,#150,#150,#160,#160,#170,#170,#170,#180,#180,#190,#190,#1a0,#1a0,#1b0,#1b0,#1c0,#1d0,#1d0,#1e0,#1e0,#1f0,#200,#210,#220,#220,#230,#240,#250,#260,#270,#270,#290,#2a0,#2c0,#2e0,#2f0,#310,#330,#340,#350,#360,#370,#380,#390,#3a0,#3b0,#3b0,#3d0,#3f0,#410,#420,#420,#430,#430,#430,#440,#440,#440,#450,#450,#450,#450,#460,#460,#460,#470,#470,#480,#490,#490,#490,#4a0,#4a0,#4b0,#4b0,#4c0,#4c0,#4d0,#4d0,#4d0,#4e0,#4e0,#4f0,#4f0,#500,#500,#500,#510,#510,#520,#520,#530,#530,#530,#540,#540,#540,#550,#550,#560,#560,#560,#570,#570,#570,#580,#580,#580,#580,#590,#590,#590,#590,#5a0,#5a0,#5a0,#5b0,#5c0,#5c0,#5c0,#5d0,#5d0,#5d0,#5d0,#5e0,#5e0,#5e0,#5e0,#5d0,#5d0,#5c0,#5c0,#5b0,#5a0,#5a0,#590,#580,#570,#550,#540,#530,#520,#510,#500,#4f0,#4d0,#4c0,#4b0,#490,#480,#460,#450,#440,#420,#400,#3d0,#3c0,#3b0,#3a0,#3a0,#390,#380,#380,#370,#360,#360,#350,#340,#340,#330,#320,#320,#310,#310,#300,#300,#2f0,#2f0,#2e0,#2e0,#2d0,#2c0,#2c0,#2b0,#2b0,#2a0,#2a0,#290,#290,#280,#280,#280,#280,#270,#270,#270,#270,#270)"></i><i style="background:linear-gradient(90deg,#120,#130,#130,#130,#140,#140,#140,#150,#150,#160,#160,#170,#170,#180,#180,#190,#190,#1a0,#1a0,#1b0,#1b0,#1c0,#1c0,#1d0,#1e0,#1e0,#1f0,#200,#210,#210,#220,#230,#240,#250,#260,#270,#270,#290,#2a0,#2c0,#2e0,#300,#310,#330,#340,#350,#360,#370,#380,#390,#3a0,#3b0,#3c0,#3d0,#3f0,#410,#420,#430,#430,#430,#440,#440,#440,#440,#450,#450,#450,#460,#460,#460,#470,#470,#480,#480,#490,#490,#4a0,#4a0,#4b0,#4b0,#4c0,#4c0,#4d0,#4d0,#4d0,#4e0,#4e0,#4f0,#4f0,#500,#500,#500,#510,#510,#520,#520,#530,#530,#530,#540,#540,#550,#550,#550,#560,#560,#560,#570,#570,#570,#580,#580,#580,#590,#590,#590,#590,#5a0,#5a0,#5a0,#5b0,#5b0,#5c0,#5c0,#5d0,#5d0,#5e0,#5e0,#5e0,#5e0,#5f0,#5f0,#5f0,#5e0,#5e0,#5e0,#5d0,#5d0,#5c0,#5b0,#5a0,#590,#580,#570,#560,#550,#540,#530,#510,#500,#4f0,#4e0,#4c0,#4b0,#4a0,#480,#470,#450,#440,#420,#400,#3d0,#3c0,#3b0,#3a0,#3a0,#390,#380,#380,#370,#360,#360,#350,#340,#340,#330,#320,#320,#310,#310,#300,#300,#2f0,#2f0,#2e0,#2d0,#2d0,#2c0,#2c0,#2b0,#2b0,#2a0,#2a0,#290,#290,#280,#280,#280,#280,#270,#270,#270,#270,#270)"></i><i style="background:linear-gradient(90deg,#120,#120,#130,#130,#130,#140,#140,#150,#150,#160,#160,#170,#170,#180,#180,#190,#190,#1a0,#1a0,#1b0,#1b0,#1c0,#1c0,#1d0,#1d0,#1e0,#1f0,#200,#210,#210,#220,#230,#240,#250,#260,#270,#270,#290,#2a0,#2c0,#2e0,#300,#310,#330,#340,#350,#360,#370,#380,#390,#3a0,#3b0,#3c0,#3e0,#400,#420,#420,#430,#430,#430,#440,#440,#440,#450,#450,#450,#450,#460,#460,#470,#470,#480,#480,#490,#490,#4a0,#4a0,#4b0,#4b0,#4c0,#4c0,#4d0,#4d0,#4d0,#4e0,#4e0,#4f0,#4f0,#500,#500,#500,#510,#510,#520,#520,#530,#530,#530,#540,#540,#550,#550,#550,#560,#560,#560,#570,#570,#580,#580,#580,#580,#590,#590,#590,#5a0,#5a0,#5a0,#5b0,#5b0,#5c0,#5c0,#5d0,#5d0,#5e0,#5e0,#5f0,#5f0,#5f0,#5f0,#600,#600,#600,#5f0,#5f0,#5f0,#5e0,#5d0,#5d0,#5c0,#5b0,#5a0,#590,#580,#570,#550,#540,#530,#520,#510,#500,#4e0,#4d0,#4b0,#4a0,#490,#470,#460,#440,#430,#400,#3e0,#3c0,#3b0,#3a0,#3a0,#390,#380,#380,#370,#360,#360,#350,#340,#340,#330,#320,#320,#310,#310,#300,#300,#2f0,#2e0,#2e0,#2d0,#2d0,#2c0,#2c0,#2b0,#2b0,#2a0,#2a0,#290,#290,#280,#280,#280,#270,#270,#270,#270,#270,#270)"></i><i style="background:linear-gradient(90deg,#120,#120,#130,#130,#130,#140,#140,#150,#150,#160,#160,#170,#170,#180,#180,#190,#190,#1a0,#1a0,#1b0,#1b0,#1c0,#1c0,#1d0,#1d0,#1e0,#1f0,#200,#210,#210,#220,#230,#240,#250,#260,#270,#270,#290,#2a0,#2c0,#2e0,#300,#310,#330,#340,#350,#360,#370,#380,#390,#3a0,#3b0,#3d0,#3e0,#400,#420,#420,#430,#430,#430,#440,#440,#440,#450,#450,#450,#460,#460,#460,#470,#480,#480,#490,#490,#4a0,#4a0,#4b0,#4b0,#4c0,#4c0,#4d0,#4d0,#4d0,#4e0,#4e0,#4f0,#4f0,#500,#500,#500,#510,#510,#520,#520,#530,#530,#530,#540,#540,#550,#550,#550,#560,#560,#570,#570,#570,#580,#580,#580,#590,#590,#590,#590,#5a0,#5a0,#5b0,#5b0,#5c0,#5c0,#5d0,#5d0,#5e0,#5e0,#5f0,#5f0,#600,#600,#600,#600,#600,#610,#600,#600,#600,#5f0,#5f0,#5e0,#5d0,#5c0,#5b0,#5a0,#590,#580,#570,#560,#550,#540,#530,#510,#500,#4f0,#4d0,#4c0,#4a0,#490,#470,#460,#440,#430,#410,#3e0,#3c0,#3b0,#3a0,#3a0,#390,#380,#380,#370,#360,#360,#350,#340,#340,#330,#320,#320,#310,#310,#300,#2f0,#2f0,#2e0,#2e0,#2d0,#2d0,#2c0,#2c0,#2b0,#2b0,#2a0,#2a0,#290,#280,#280,#280,#280,#270,#270,#270,#270,#270,#260)"></i><i style="background:linear-gradient(90deg,#120,#120,#120,#130,#130,#140,#140,#140,#150,#150,#160,#160,#170,#170,#180,#190,#190,#1a0,#1a0,#1b0,#1b0,#1c0,#1c0,#1d0,#1d0,#1e0,#1f0,#200,#210,#210,#220,#230,#240,#250,#260,#270,#280,#290,#2b0,#2c0,#2e0,#300,#320,#330,#340,#350,#360,#370,#380,#390,#3a0,#3b0,#3d0,#3f0,#410,#420,#430,#430,#430,#440,#440,#440,#450,#450,#450,#450,#460,#460,#470,#470,#480,#480,#490,#4a0,#4a0,#4b0,#4b0,#4c0,#4c0,#4d0,#4d0,#4d0,#4e0,#4e0,#4f0,#4f0,#500,#500,#500,#510,#510,#520,#520,#530,#530,#540,#540,#540,#550,#550,#560,#560,#560,#570,#570,#570,#580,#580,#580,#590,#590,#590,#5a0,#5a0,#5a0,#5b0,#5c0,#5c0,#5d0,#5d0,#5e0,#5e0,#5f0,#5f0,#600,#600,#610,#610,#610,#610,#610,#610,#610,#610,#610,#600,#5f0,#5f0,#5e0,#5d0,#5c0,#5b0,#5a0,#590,#580,#560,#550,#540,#530,#520,#510,#4f0,#4e0,#4c0,#4b0,#490,#480,#460,#450,#430,#410,#3f0,#3c0,#3b0,#3b0,#3a0,#390,#390,#380,#370,#360,#360,#350,#340,#340,#330,#320,#320,#310,#310,#300,#2f0,#2f0,#2e0,#2e0,#2d0,#2d0,#2c0,#2c0,#2b0,#2a0,#2a0,#290,#290,#280,#280,#280,#280,#270,#270,#270,#270,#270,#260)"></i><i style="background:linear-gradient(90deg,#120,#120,#120,#130,#130,#130,#140,#140,#150,#150,#160,#160,#170,#170,#180,#180,#190,#190,#1a0,#1b0,#1b0,#1c0,#1c0,#1d0,#1d0,#1e0,#1f0,#200,#210,#210,#220,#230,#240,#250,#260,#270,#280,#290,#2b0,#2c0,#2e0,#300,#320,#330,#340,#350,#360,#370,#380,#3a0,#3b0,#3c0,#3e0,#400,#420,#420,#430,#430,#430,#440,#440,#440,#450,#450,#450,#460,#460,#470,#470,#480,#480,#490,#490,#4a0,#4a0,#4b0,#4c0,#4c0,#4c0,#4d0,#4d0,#4e0,#4e0,#4f0,#4f0,#500,#500,#510,#510,#510,#520,#520,#530,#530,#540,#540,#540,#550,#550,#560,#560,#560,#570,#570,#570,#580,#580,#590,#590,#590,#5a0,#5a0,#5a0,#5b0,#5c0,#5c0,#5d0,#5d0,#5e0,#5e0,#5f0,#5f0,#600,#600,#610,#610,#620,#620,#620,#620,#620,#620,#620,#620,#610,#610,#600,#5f0,#5e0,#5e0,#5d0,#5c0,#5a0,#590,#580,#570,#560,#550,#540,#520,#510,#500,#4e0,#4d0,#4b0,#4a0,#480,#470,#450,#430,#420,#3f0,#3c0,#3b0,#3b0,#3a0,#390,#390,#380,#370,#370,#360,#350,#340,#340,#330,#320,#320,#310,#310,#300,#2f0,#2f0,#2e0,#2e0,#2d0,#2d0,#2c0,#2b0,#2b0,#2a0,#2a0,#290,#290,#280,#280,#280,#270,#270,#270,#270,#270,#260,#260)"></i><i style="background:linear-gradient(90deg,#110,#120,#120,#130,#130,#130,#140,#140,#150,#150,#160,#160,#170,#170,#180,#180,#190,#190,#1a0,#1a0,#1b0,#1c0,#1c0,#1d0,#1d0,#1e0,#1f0,#200,#200,#210,#220,#230,#240,#250,#260,#270,#280,#290,#2b0,#2c0,#2e0,#300,#320,#330,#340,#350,#360,#380,#390,#3a0,#3b0,#3c0,#3e0,#400,#420,#420,#430,#430,#440,#440,#440,#450,#450,#450,#460,#460,#460,#470,#480,#480,#490,#490,#4a0,#4a0,#4b0,#4b0,#4c0,#4c0,#4d0,#4d0,#4e0,#4e0,#4f0,#4f0,#500,#500,#510,#510,#510,#520,#520,#530,#530,#540,#540,#550,#550,#550,#560,#560,#560,#570,#570,#580,#580,#580,#590,#590,#590,#5a0,#5a0,#5b0,#5b0,#5c0,#5d0,#5d0,#5e0,#5e0,#5f0,#600,#600,#610,#610,#610,#620,#620,#630,#630,#630,#630,#630,#630,#630,#630,#620,#610,#610,#600,#5f0,#5e0,#5d0,#5c0,#5b0,#5a0,#590,#580,#560,#550,#540,#530,#520,#500,#4f0,#4e0,#4c0,#4a0,#490,#470,#450,#440,#420,#400,#3d0,#3b0,#3b0,#3a0,#390,#390,#380,#370,#370,#360,#350,#340,#340,#330,#320,#320,#310,#300,#300,#2f0,#2f0,#2e0,#2e0,#2d0,#2c0,#2c0,#2b0,#2b0,#2a0,#2a0,#290,#280,#280,#280,#280,#270,#270,#270,#270,#270,#260,#260)"></i><i style="background:linear-gradient(90deg,#110,#120,#120,#120,#130,#130,#130,#140,#140,#150,#150,#160,#170,#170,#180,#180,#190,#190,#1a0,#1a0,#1b0,#1c0,#1c0,#1d0,#1d0,#1e0,#1f0,#200,#200,#210,#220,#230,#240,#250,#260,#270,#280,#290,#2b0,#2d0,#2e0,#300,#320,#330,#340,#360,#370,#380,#390,#3a0,#3b0,#3d0,#3f0,#410,#420,#430,#430,#430,#440,#440,#440,#450,#450,#450,#460,#460,#470,#470,#480,#490,#490,#4a0,#4a0,#4b0,#4b0,#4c0,#4c0,#4d0,#4d0,#4e0,#4e0,#4f0,#4f0,#500,#500,#510,#510,#520,#520,#520,#530,#530,#540,#540,#550,#550,#550,#560,#560,#570,#570,#570,#580,#580,#580,#590,#590,#590,#5a0,#5a0,#5b0,#5c0,#5d0,#5d0,#5e0,#5e0,#5f0,#600,#600,#610,#610,#620,#620,#620,#630,#630,#640,#640,#640,#640,#640,#640,#640,#630,#630,#620,#610,#610,#600,#5f0,#5e0,#5d0,#5c0,#5a0,#590,#580,#570,#560,#550,#530,#520,#510,#500,#4e0,#4c0,#4b0,#490,#470,#460,#440,#420,#400,#3d0,#3c0,#3b0,#3a0,#390,#390,#380,#370,#370,#360,#350,#340,#340,#330,#320,#320,#310,#300,#300,#2f0,#2f0,#2e0,#2d0,#2d0,#2c0,#2c0,#2b0,#2b0,#2a0,#290,#290,#280,#280,#280,#270,#270,#270,#270,#270,#260,#260,#260)"></i><i style="background:linear-gradient(90deg,#110,#110,#120,#120,#130,#130,#130,#140,#140,#150,#150,#160,#160,#170,#180,#180,#190,#190,#1a0,#1a0,#1b0,#1b0,#1c0,#1d0,#1d0,#1e0,#1f0,#200,#200,#210,#220,#230,#240,#250,#260,#270,#280,#290,#2b0,#2d0,#2f0,#300,#320,#330,#340,#360,#370,#380,#390,#3a0,#3b0,#3d0,#3f0,#410,#420,#430,#430,#430,#440,#440,#450,#450,#450,#460,#460,#470,#470,#480,#480,#490,#4a0,#4a0,#4b0,#4b0,#4c0,#4c0,#4d0,#4d0,#4e0,#4e0,#4f0,#4f0,#500,#500,#510,#510,#520,#520,#530,#530,#530,#540,#540,#550,#550,#560,#560,#560,#570,#570,#570,#580,#580,#590,#590,#590,#5a0,#5a0,#5b0,#5c0,#5c0,#5d0,#5e0,#5e0,#5f0,#600,#600,#610,#610,#620,#620,#630,#630,#640,#640,#640,#650,#650,#650,#650,#650,#650,#650,#640,#640,#630,#620,#610,#600,#600,#5f0,#5d0,#5c0,#5b0,#5a0,#590,#570,#560,#550,#540,#530,#510,#500,#4f0,#4d0,#4b0,#4a0,#480,#460,#440,#430,#400,#3e0,#3c0,#3b0,#3a0,#3a0,#390,#380,#370,#370,#360,#350,#340,#340,#330,#320,#320,#310,#300,#300,#2f0,#2f0,#2e0,#2d0,#2d0,#2c0,#2c0,#2b0,#2a0,#2a0,#290,#290,#280,#280,#280,#270,#270,#270,#270,#270,#260,#260,#260)"></i><i style="background:linear-gradient(90deg,#110,#110,#120,#120,#120,#130,#130,#140,#140,#150,#150,#160,#160,#170,#170,#180,#190,#190,#1a0,#1a0,#1b0,#1b0,#1c0,#1d0,#1d0,#1e0,#1f0,#1f0,#200,#210,#220,#230,#240,#250,#260,#270,#280,#290,#2b0,#2d0,#2f0,#300,#320,#330,#350,#360,#370,#380,#390,#3b0,#3c0,#3e0,#400,#420,#420,#430,#430,#440,#440,#440,#450,#450,#450,#460,#460,#470,#480,#480,#490,#490,#4a0,#4b0,#4b0,#4c0,#4c0,#4d0,#4d0,#4e0,#4e0,#4f0,#4f0,#500,#500,#510,#510,#520,#520,#530,#530,#530,#540,#540,#550,#550,#560,#560,#560,#570,#570,#580,#580,#580,#590,#590,#590,#5a0,#5a0,#5b0,#5c0,#5d0,#5d0,#5e0,#5f0,#600,#600,#610,#610,#620,#620,#630,#630,#640,#640,#650,#650,#650,#660,#660,#660,#660,#660,#660,#660,#650,#640,#640,#630,#620,#610,#600,#5f0,#5e0,#5d0,#5c0,#5a0,#590,#580,#570,#560,#540,#530,#520,#510,#4f0,#4e0,#4c0,#4a0,#480,#460,#450,#430,#410,#3e0,#3c0,#3b0,#3a0,#3a0,#390,#380,#370,#370,#360,#350,#340,#340,#330,#320,#320,#310,#300,#300,#2f0,#2e0,#2e0,#2d0,#2d0,#2c0,#2b0,#2b0,#2a0,#2a0,#290,#280,#280,#280,#280,#270,#270,#270,#270,#260,#260,#260,#260)"></i><i style="background:linear-gradient(90deg,#110,#110,#120,#120,#120,#130,#130,#130,#140,#140,#150,#160,#160,#170,#170,#180,#180,#190,#1a0,#1a0,#1b0,#1b0,#1c0,#1d0,#1d0,#1e0,#1f0,#1f0,#200,#210,#220,#230,#240,#250,#260,#270,#280,#290,#2b0,#2d0,#2f0,#310,#320,#340,#350,#360,#370,#390,#3a0,#3b0,#3c0,#3f0,#410,#420,#430,#430,#430,#440,#440,#450,#450,#450,#460,#460,#470,#470,#480,#490,#490,#4a0,#4b0,#4b0,#4c0,#4c0,#4d0,#4d0,#4e0,#4e0,#4f0,#4f0,#500,#500,#510,#510,#520,#520,#530,#530,#540,#540,#540,#550,#550,#560,#560,#570,#570,#570,#580,#580,#580,#590,#590,#5a0,#5a0,#5b0,#5b0,#5c0,#5d0,#5e0,#5f0,#5f0,#600,#610,#610,#620,#630,#630,#640,#640,#650,#650,#650,#660,#660,#660,#670,#670,#670,#670,#670,#670,#660,#660,#650,#640,#640,#630,#620,#610,#600,#5f0,#5e0,#5c0,#5b0,#5a0,#580,#570,#560,#550,#540,#520,#510,#500,#4e0,#4c0,#4b0,#490,#470,#450,#430,#410,#3e0,#3c0,#3b0,#3a0,#3a0,#390,#380,#370,#370,#360,#350,#350,#340,#330,#320,#320,#310,#300,#300,#2f0,#2e0,#2e0,#2d0,#2c0,#2c0,#2b0,#2b0,#2a0,#290,#290,#280,#280,#280,#270,#270,#270,#270,#270,#260,#260,#260,#260)"></i><i style="background:linear-gradient(90deg,#110,#110,#110,#120,#120,#130,#130,#130,#140,#140,#150,#150,#160,#170,#170,#180,#180,#190,#190,#1a0,#1b0,#1b0,#1c0,#1c0,#1d0,#1e0,#1e0,#1f0,#200,#210,#220,#230,#240,#250,#260,#270,#280,#2a0,#2b0,#2d0,#2f0,#310,#320,#340,#350,#360,#380,#390,#3a0,#3b0,#3d0,#3f0,#410,#420,#430,#430,#440,#440,#440,#450,#450,#460,#460,#470,#470,#480,#490,#490,#4a0,#4a0,#4b0,#4c0,#4c0,#4d0,#4d0,#4e0,#4e0,#4f0,#4f0,#500,#500,#510,#510,#520,#520,#530,#530,#540,#540,#550,#550,#550,#560,#560,#570,#570,#570,#580,#580,#590,#590,#590,#5a0,#5a0,#5b0,#5c0,#5d0,#5d0,#5e0,#5f0,#600,#600,#610,#620,#620,#630,#640,#640,#650,#650,#660,#660,#660,#670,#670,#670,#680,#680,#680,#680,#680,#680,#670,#670,#660,#650,#650,#640,#630,#620,#610,#600,#5e0,#5d0,#5c0,#5a0,#590,#580,#570,#550,#540,#530,#520,#500,#4f0,#4d0,#4b0,#490,#470,#450,#440,#420,#3f0,#3c0,#3b0,#3a0,#3a0,#390,#380,#370,#370,#360,#350,#350,#340,#330,#320,#320,#310,#300,#2f0,#2f0,#2e0,#2e0,#2d0,#2c0,#2c0,#2b0,#2a0,#2a0,#290,#290,#280,#280,#280,#270,#270,#270,#270,#260,#260,#260,#260,#260)"></i><i style="background:linear-gradient(90deg,#100,#110,#110,#120,#120,#120,#130,#130,#140,#140,#150,#150,#160,#160,#170,#180,#180,#190,#190,#1a0,#1b0,#1b0,#1c0,#1c0,#1d0,#1e0,#1e0,#1f0,#200,#210,#220,#230,#240,#250,#260,#270,#280,#2a0,#2b0,#2d0,#2f0,#310,#330,#340,#350,#370,#380,#390,#3a0,#3c0,#3e0,#400,#420,#430,#430,#430,#440,#440,#450,#450,#450,#460,#460,#470,#480,#480,#490,#4a0,#4a0,#4b0,#4c0,#4c0,#4d0,#4d0,#4e0,#4e0,#4f0,#4f0,#500,#500,#510,#510,#520,#520,#530,#530,#540,#540,#550,#550,#560,#560,#560,#570,#570,#580,#580,#580,#590,#590,#5a0,#5a0,#5b0,#5b0,#5c0,#5d0,#5e0,#5f0,#5f0,#600,#610,#620,#620,#630,#640,#640,#650,#650,#660,#660,#670,#670,#680,#680,#680,#690,#690,#690,#690,#690,#690,#690,#680,#670,#670,#660,#650,#650,#640,#630,#620,#600,#5f0,#5e0,#5c0,#5b0,#5a0,#580,#570,#560,#550,#530,#520,#510,#4f0,#4d0,#4c0,#4a0,#480,#460,#440,#420,#3f0,#3d0,#3b0,#3b0,#3a0,#390,#380,#380,#370,#360,#350,#350,#340,#330,#320,#310,#310,#300,#2f0,#2f0,#2e0,#2d0,#2d0,#2c0,#2b0,#2b0,#2a0,#2a0,#290,#280,#280,#280,#270,#270,#270,#270,#270,#260,#260,#260,#260,#260)"></i><i style="background:linear-gradient(90deg,#100,#110,#110,#110,#120,#120,#130,#130,#130,#140,#150,#150,#160,#160,#170,#170,#180,#190,#190,#1a0,#1b0,#1b0,#1c0,#1c0,#1d0,#1e0,#1e0,#1f0,#200,#210,#220,#230,#240,#250,#260,#270,#280,#2a0,#2c0,#2d0,#2f0,#310,#330,#340,#360,#370,#380,#3a0,#3b0,#3c0,#3f0,#410,#420,#430,#430,#440,#440,#440,#450,#450,#460,#460,#470,#470,#480,#490,#4a0,#4a0,#4b0,#4b0,#4c0,#4d0,#4d0,#4e0,#4e0,#4f0,#4f0,#500,#500,#510,#510,#520,#520,#530,#530,#540,#540,#550,#550,#560,#560,#570,#570,#570,#580,#580,#590,#590,#590,#5a0,#5a0,#5b0,#5c0,#5d0,#5d0,#5e0,#5f0,#600,#610,#610,#620,#630,#630,#640,#650,#650,#660,#670,#670,#680,#680,#680,#690,#690,#690,#6a0,#6a0,#6a0,#6a0,#6a0,#6a0,#690,#690,#680,#680,#670,#660,#660,#650,#640,#620,#610,#600,#5f0,#5d0,#5c0,#5a0,#590,#580,#560,#550,#540,#530,#510,#500,#4e0,#4c0,#4a0,#480,#460,#440,#430,#400,#3d0,#3b0,#3b0,#3a0,#390,#380,#380,#370,#360,#350,#350,#340,#330,#320,#310,#310,#300,#2f0,#2f0,#2e0,#2d0,#2d0,#2c0,#2b0,#2b0,#2a0,#290,#290,#280,#280,#280,#270,#270,#270,#270,#260,#260,#260,#260,#260,#250)"></i><i style="background:linear-gradient(90deg,#100,#100,#110,#110,#120,#120,#130,#130,#130,#140,#140,#150,#160,#160,#170,#170,#180,#190,#190,#1a0,#1a0,#1b0,#1c0,#1c0,#1d0,#1e0,#1e0,#1f0,#200,#210,#220,#230,#240,#250,#260,#270,#280,#2a0,#2c0,#2e0,#300,#310,#330,#340,#360,#370,#390,#3a0,#3b0,#3d0,#3f0,#420,#420,#430,#430,#440,#440,#450,#450,#450,#460,#460,#470,#480,#490,#490,#4a0,#4b0,#4b0,#4c0,#4d0,#4d0,#4e0,#4e0,#4f0,#4f0,#500,#500,#510,#520,#520,#530,#530,#540,#540,#550,#550,#550,#560,#560,#570,#570,#580,#580,#580,#590,#590,#5a0,#5a0,#5b0,#5b0,#5c0,#5d0,#5e0,#5f0,#5f0,#600,#610,#620,#630,#630,#640,#650,#650,#660,#670,#670,#680,#680,#690,#690,#6a0,#6a0,#6a0,#6b0,#6b0,#6b0,#6b0,#6b0,#6b0,#6b0,#6a0,#6a0,#690,#690,#680,#670,#670,#660,#650,#630,#620,#610,#5f0,#5e0,#5c0,#5b0,#590,#580,#570,#560,#540,#530,#520,#500,#4f0,#4d0,#4b0,#490,#470,#450,#430,#400,#3d0,#3c0,#3b0,#3a0,#390,#380,#380,#370,#360,#350,#350,#340,#330,#320,#310,#310,#300,#2f0,#2e0,#2e0,#2d0,#2c0,#2c0,#2b0,#2a0,#2a0,#290,#280,#280,#280,#270,#270,#270,#270,#270,#260,#260,#260,#260,#260,#250)"></i><i style="background:linear-gradient(90deg,#100,#100,#110,#110,#120,#120,#120,#130,#130,#140,#140,#150,#150,#160,#170,#170,#180,#180,#190,#1a0,#1a0,#1b0,#1c0,#1c0,#1d0,#1d0,#1e0,#1f0,#200,#210,#220,#230,#240,#250,#260,#270,#280,#2a0,#2c0,#2e0,#300,#320,#330,#350,#360,#380,#390,#3a0,#3c0,#3e0,#400,#420,#430,#430,#440,#440,#440,#450,#450,#460,#460,#470,#480,#490,#490,#4a0,#4b0,#4b0,#4c0,#4d0,#4d0,#4e0,#4e0,#4f0,#4f0,#500,#500,#510,#520,#520,#530,#530,#540,#540,#550,#550,#560,#560,#560,#570,#570,#580,#580,#590,#590,#590,#5a0,#5a0,#5b0,#5c0,#5d0,#5e0,#5e0,#5f0,#600,#610,#620,#620,#630,#640,#640,#650,#660,#670,#670,#680,#680,#690,#690,#6a0,#6a0,#6b0,#6b0,#6b0,#6c0,#6c0,#6c0,#6c0,#6c0,#6c0,#6c0,#6b0,#6b0,#6b0,#6a0,#690,#690,#680,#670,#660,#640,#630,#620,#600,#5f0,#5d0,#5c0,#5a0,#590,#570,#560,#550,#530,#520,#510,#4f0,#4d0,#4b0,#490,#470,#450,#430,#410,#3e0,#3c0,#3b0,#3a0,#390,#380,#380,#370,#360,#350,#350,#340,#330,#320,#310,#310,#300,#2f0,#2e0,#2e0,#2d0,#2c0,#2b0,#2b0,#2a0,#290,#290,#280,#280,#280,#270,#270,#270,#270,#260,#260,#260,#260,#260,#250,#250)"></i><i style="background:linear-gradient(90deg,#100,#100,#110,#110,#110,#120,#120,#130,#130,#140,#140,#150,#150,#160,#170,#170,#180,#180,#190,#1a0,#1a0,#1b0,#1c0,#1c0,#1d0,#1d0,#1e0,#1f0,#200,#210,#220,#230,#240,#250,#260,#270,#280,#2a0,#2c0,#2e0,#300,#320,#330,#350,#360,#380,#390,#3b0,#3d0,#3f0,#410,#420,#430,#430,#440,#440,#450,#450,#450,#460,#470,#480,#480,#490,#4a0,#4b0,#4b0,#4c0,#4d0,#4d0,#4e0,#4e0,#4f0,#4f0,#500,#510,#510,#520,#520,#530,#530,#540,#540,#550,#550,#560,#560,#570,#570,#580,#580,#580,#590,#590,#5a0,#5a0,#5b0,#5c0,#5c0,#5d0,#5e0,#5f0,#600,#610,#610,#620,#630,#640,#640,#650,#660,#660,#670,#680,#680,#690,#6a0,#6a0,#6b0,#6b0,#6c0,#6c0,#6c0,#6d0,#6d0,#6d0,#6d0,#6d0,#6d0,#6d0,#6d0,#6d0,#6c0,#6c0,#6b0,#6a0,#6a0,#690,#680,#670,#650,#640,#630,#610,#600,#5e0,#5c0,#5b0,#590,#580,#570,#550,#540,#530,#510,#4f0,#4e0,#4c0,#4a0,#470,#450,#430,#410,#3e0,#3c0,#3b0,#3a0,#390,#390,#380,#370,#360,#350,#350,#340,#330,#320,#310,#300,#300,#2f0,#2e0,#2d0,#2d0,#2c0,#2b0,#2b0,#2a0,#290,#280,#280,#280,#270,#270,#270,#270,#270,#260,#260,#260,#260,#250,#250,#250)"></i><i style="background:linear-gradient(90deg,#100,#100,#100,#110,#110,#120,#120,#130,#130,#130,#140,#150,#150,#160,#160,#170,#180,#180,#190,#1a0,#1a0,#1b0,#1b0,#1c0,#1d0,#1d0,#1e0,#1f0,#200,#210,#220,#230,#240,#250,#260,#270,#280,#2a0,#2c0,#2e0,#300,#320,#340,#350,#370,#380,#3a0,#3b0,#3d0,#400,#420,#430,#430,#440,#440,#440,#450,#450,#460,#460,#470,#480,#490,#4a0,#4a0,#4b0,#4c0,#4d0,#4d0,#4e0,#4e0,#4f0,#500,#500,#510,#510,#520,#520,#530,#540,#540,#550,#550,#560,#560,#560,#570,#570,#580,#580,#590,#590,#590,#5a0,#5a0,#5b0,#5c0,#5d0,#5e0,#5f0,#600,#600,#610,#620,#630,#630,#640,#650,#660,#660,#670,#680,#680,#690,#6a0,#6a0,#6b0,#6b0,#6c0,#6c0,#6d0,#6d0,#6d0,#6e0,#6e0,#6e0,#6e0,#6f0,#6f0,#6e0,#6e0,#6e0,#6d0,#6d0,#6c0,#6c0,#6b0,#6a0,#690,#680,#660,#650,#640,#620,#600,#5f0,#5d0,#5b0,#5a0,#580,#570,#560,#540,#530,#520,#500,#4e0,#4c0,#4a0,#480,#460,#440,#410,#3f0,#3c0,#3b0,#3a0,#390,#390,#380,#370,#360,#350,#350,#340,#330,#320,#310,#300,#300,#2f0,#2e0,#2d0,#2d0,#2c0,#2b0,#2a0,#2a0,#290,#280,#280,#280,#270,#270,#270,#270,#260,#260,#260,#260,#260,#250,#250,#250)"></i><i style="background:linear-gradient(90deg,#0f0,#100,#100,#110,#110,#110,#120,#120,#130,#130,#140,#140,#150,#160,#160,#170,#180,#180,#190,#190,#1a0,#1b0,#1b0,#1c0,#1d0,#1d0,#1e0,#1f0,#200,#210,#220,#230,#240,#250,#260,#270,#280,#2a0,#2c0,#2e0,#300,#320,#340,#360,#370,#390,#3a0,#3c0,#3e0,#410,#420,#430,#430,#440,#440,#450,#450,#460,#460,#470,#480,#490,#4a0,#4a0,#4b0,#4c0,#4d0,#4d0,#4e0,#4e0,#4f0,#500,#500,#510,#510,#520,#530,#530,#540,#540,#550,#550,#560,#560,#570,#570,#580,#580,#580,#590,#590,#5a0,#5a0,#5b0,#5c0,#5d0,#5e0,#5e0,#5f0,#600,#610,#620,#620,#630,#640,#650,#650,#660,#670,#680,#680,#690,#6a0,#6a0,#6b0,#6b0,#6c0,#6d0,#6d0,#6e0,#6e0,#6e0,#6f0,#6f0,#700,#700,#700,#700,#700,#700,#700,#6f0,#6f0,#6e0,#6e0,#6d0,#6c0,#6b0,#6a0,#690,#670,#660,#650,#630,#610,#600,#5e0,#5c0,#5a0,#590,#570,#560,#550,#540,#520,#510,#4f0,#4d0,#4b0,#480,#460,#440,#420,#3f0,#3c0,#3b0,#3a0,#390,#390,#380,#370,#360,#350,#350,#340,#330,#320,#310,#300,#300,#2f0,#2e0,#2d0,#2c0,#2c0,#2b0,#2a0,#290,#290,#280,#280,#270,#270,#270,#270,#260,#260,#260,#260,#260,#250,#250,#250,#250)"></i><i style="background:linear-gradient(90deg,#0f0,#100,#100,#100,#110,#110,#120,#120,#130,#130,#140,#140,#150,#160,#160,#170,#170,#180,#190,#190,#1a0,#1b0,#1b0,#1c0,#1d0,#1d0,#1e0,#1f0,#200,#210,#220,#230,#240,#250,#260,#270,#290,#2b0,#2d0,#2f0,#310,#330,#340,#360,#380,#390,#3b0,#3d0,#3f0,#420,#430,#430,#440,#440,#440,#450,#450,#460,#470,#480,#480,#490,#4a0,#4b0,#4c0,#4c0,#4d0,#4e0,#4f0,#4f0,#500,#500,#510,#520,#520,#530,#530,#540,#550,#550,#560,#560,#560,#570,#570,#580,#580,#590,#590,#590,#5a0,#5b0,#5b0,#5c0,#5d0,#5e0,#5f0,#600,#610,#620,#620,#630,#640,#650,#650,#660,#670,#670,#680,#690,#690,#6a0,#6b0,#6b0,#6c0,#6d0,#6d0,#6e0,#6e0,#6f0,#700,#700,#700,#710,#710,#710,#710,#710,#710,#710,#710,#710,#700,#700,#6f0,#6e0,#6d0,#6c0,#6b0,#6a0,#690,#670,#660,#640,#620,#610,#5f0,#5d0,#5b0,#590,#580,#570,#550,#540,#530,#510,#500,#4d0,#4b0,#490,#470,#450,#430,#400,#3d0,#3b0,#3a0,#3a0,#390,#380,#370,#360,#350,#350,#340,#330,#320,#310,#300,#2f0,#2f0,#2e0,#2d0,#2c0,#2b0,#2b0,#2a0,#290,#280,#280,#280,#270,#270,#270,#270,#260,#260,#260,#260,#250,#250,#250,#250,#250)"></i><i style="background:linear-gradient(90deg,#0f0,#0f0,#100,#100,#110,#110,#120,#120,#130,#130,#140,#140,#150,#150,#160,#170,#170,#180,#190,#190,#1a0,#1b0,#1b0,#1c0,#1d0,#1d0,#1e0,#1f0,#200,#210,#220,#230,#240,#250,#260,#270,#290,#2b0,#2d0,#2f0,#310,#330,#350,#360,#380,#3a0,#3b0,#3e0,#400,#420,#430,#430,#440,#440,#450,#450,#460,#460,#470,#480,#490,#4a0,#4b0,#4c0,#4c0,#4d0,#4e0,#4f0,#4f0,#500,#510,#510,#520,#520,#530,#540,#540,#550,#550,#560,#560,#570,#570,#580,#580,#580,#590,#590,#5a0,#5a0,#5b0,#5c0,#5d0,#5e0,#5e0,#5f0,#600,#610,#620,#630,#640,#650,#650,#660,#670,#670,#680,#690,#690,#6a0,#6b0,#6b0,#6c0,#6d0,#6d0,#6e0,#6f0,#6f0,#700,#700,#710,#710,#720,#720,#720,#730,#730,#730,#730,#730,#720,#720,#720,#710,#700,#700,#6f0,#6e0,#6c0,#6b0,#6a0,#680,#670,#650,#630,#620,#600,#5e0,#5c0,#5a0,#580,#570,#560,#540,#530,#520,#500,#4e0,#4c0,#490,#470,#450,#430,#400,#3d0,#3b0,#3a0,#3a0,#390,#380,#370,#360,#350,#350,#340,#330,#320,#310,#300,#2f0,#2e0,#2e0,#2d0,#2c0,#2b0,#2a0,#290,#290,#280,#280,#270,#270,#270,#270,#260,#260,#260,#260,#260,#250,#250,#250,#250,#250)"></i><i style="background:linear-gradient(90deg,#0f0,#0f0,#100,#100,#110,#110,#110,#120,#120,#130,#130,#140,#150,#150,#160,#170,#170,#180,#190,#190,#1a0,#1a0,#1b0,#1c0,#1c0,#1d0,#1e0,#1f0,#200,#210,#220,#230,#240,#250,#260,#270,#290,#2b0,#2d0,#2f0,#310,#330,#350,#370,#380,#3a0,#3c0,#3f0,#420,#420,#430,#440,#440,#450,#450,#460,#460,#470,#480,#490,#4a0,#4b0,#4b0,#4c0,#4d0,#4e0,#4f0,#4f0,#500,#510,#510,#520,#530,#530,#540,#540,#550,#560,#560,#570,#570,#580,#580,#580,#590,#590,#5a0,#5a0,#5b0,#5c0,#5c0,#5d0,#5e0,#5f0,#600,#610,#620,#630,#630,#640,#650,#660,#670,#670,#680,#690,#690,#6a0,#6b0,#6b0,#6c0,#6d0,#6d0,#6e0,#6f0,#6f0,#700,#710,#710,#720,#720,#730,#730,#740,#740,#740,#740,#740,#740,#740,#740,#740,#730,#730,#720,#710,#700,#6f0,#6e0,#6c0,#6b0,#690,#680,#660,#640,#630,#610,#5f0,#5d0,#5b0,#590,#580,#560,#550,#540,#520,#510,#4f0,#4c0,#4a0,#480,#450,#430,#410,#3d0,#3b0,#3b0,#3a0,#390,#380,#370,#360,#350,#350,#340,#330,#320,#310,#300,#2f0,#2e0,#2d0,#2d0,#2c0,#2b0,#2a0,#290,#280,#280,#280,#270,#270,#270,#270,#260,#260,#260,#260,#250,#250,#250,#250,#250,#240)"></i><i style="background:linear-gradient(90deg,#0f0,#0f0,#0f0,#100,#100,#110,#110,#120,#120,#130,#130,#140,#140,#150,#160,#160,#170,#180,#180,#190,#1a0,#1a0,#1b0,#1c0,#1c0,#1d0,#1e0,#1f0,#200,#210,#220,#230,#240,#250,#260,#280,#290,#2b0,#2d0,#300,#320,#340,#350,#370,#390,#3b0,#3d0,#400,#420,#430,#430,#440,#440,#450,#450,#460,#470,#480,#490,#4a0,#4a0,#4b0,#4c0,#4d0,#4e0,#4e0,#4f0,#500,#510,#510,#520,#530,#530,#540,#550,#550,#560,#560,#570,#570,#580,#580,#590,#590,#5a0,#5a0,#5b0,#5b0,#5c0,#5d0,#5e0,#5f0,#5f0,#600,#610,#620,#630,#640,#650,#660,#670,#670,#680,#690,#6a0,#6a0,#6b0,#6b0,#6c0,#6d0,#6d0,#6e0,#6f0,#700,#700,#710,#720,#720,#730,#730,#740,#740,#750,#750,#750,#760,#760,#760,#760,#760,#750,#750,#750,#740,#730,#720,#710,#700,#6f0,#6d0,#6c0,#6b0,#690,#670,#650,#640,#620,#600,#5e0,#5b0,#590,#580,#570,#550,#540,#530,#510,#4f0,#4d0,#4b0,#480,#460,#440,#410,#3e0,#3c0,#3b0,#3a0,#390,#380,#370,#360,#350,#350,#340,#330,#320,#310,#300,#2f0,#2e0,#2d0,#2c0,#2b0,#2b0,#2a0,#290,#280,#280,#270,#270,#270,#270,#260,#260,#260,#260,#250,#250,#250,#250,#250,#240,#240)"></i><i style="background:linear-gradient(90deg,#0e0,#0f0,#0f0,#100,#100,#110,#110,#120,#120,#130,#130,#140,#140,#150,#160,#160,#170,#180,#180,#190,#1a0,#1a0,#1b0,#1c0,#1c0,#1d0,#1e0,#1f0,#200,#210,#220,#230,#240,#250,#270,#280,#2a0,#2c0,#2e0,#300,#320,#340,#360,#380,#3a0,#3b0,#3e0,#410,#420,#430,#440,#440,#450,#450,#460,#460,#470,#480,#490,#4a0,#4b0,#4c0,#4d0,#4e0,#4e0,#4f0,#500,#510,#520,#520,#530,#540,#540,#550,#550,#560,#570,#570,#580,#580,#590,#590,#5a0,#5a0,#5b0,#5b0,#5c0,#5d0,#5d0,#5e0,#5f0,#600,#610,#620,#630,#630,#640,#650,#660,#670,#680,#690,#6a0,#6a0,#6b0,#6c0,#6c0,#6d0,#6d0,#6e0,#6f0,#700,#700,#710,#720,#720,#730,#740,#740,#750,#750,#760,#760,#770,#770,#770,#770,#770,#770,#770,#770,#770,#760,#750,#750,#740,#730,#720,#700,#6f0,#6e0,#6c0,#6a0,#680,#670,#650,#630,#610,#5e0,#5c0,#5a0,#590,#570,#560,#540,#530,#520,#500,#4e0,#4b0,#490,#460,#440,#420,#3e0,#3c0,#3b0,#3a0,#390,#380,#370,#360,#350,#350,#340,#330,#320,#310,#300,#2f0,#2e0,#2d0,#2c0,#2b0,#2a0,#290,#290,#280,#280,#270,#270,#270,#260,#260,#260,#260,#260,#250,#250,#250,#250,#240,#240,#240)"></i><i style="background:linear-gradient(90deg,#0e0,#0f0,#0f0,#0f0,#100,#100,#110,#110,#120,#130,#130,#140,#140,#150,#160,#160,#170,#180,#180,#190,#1a0,#1a0,#1b0,#1c0,#1c0,#1d0,#1e0,#1f0,#200,#210,#220,#230,#240,#260,#270,#280,#2a0,#2c0,#2e0,#300,#320,#340,#360,#380,#3a0,#3c0,#3f0,#420,#430,#430,#440,#440,#450,#450,#460,#470,#480,#490,#4a0,#4b0,#4c0,#4d0,#4e0,#4e0,#4f0,#500,#510,#520,#520,#530,#540,#540,#550,#560,#560,#570,#570,#580,#590,#590,#590,#5a0,#5b0,#5b0,#5c0,#5c0,#5d0,#5e0,#5f0,#5f0,#600,#610,#620,#630,#640,#650,#660,#670,#680,#690,#690,#6a0,#6b0,#6c0,#6c0,#6d0,#6e0,#6e0,#6f0,#700,#710,#710,#720,#730,#730,#740,#750,#750,#760,#760,#770,#770,#780,#780,#780,#780,#790,#790,#790,#790,#780,#780,#780,#770,#760,#750,#740,#730,#720,#700,#6f0,#6d0,#6b0,#6a0,#680,#660,#640,#620,#5f0,#5d0,#5b0,#590,#580,#560,#550,#530,#520,#500,#4e0,#4c0,#490,#470,#440,#420,#3f0,#3c0,#3b0,#3a0,#390,#380,#370,#360,#350,#350,#340,#330,#320,#310,#300,#2f0,#2e0,#2d0,#2c0,#2b0,#2a0,#290,#280,#280,#270,#270,#270,#270,#260,#260,#260,#260,#250,#250,#250,#250,#240,#240,#240,#240)"></i><i style="background:linear-gradient(90deg,#0e0,#0e0,#0f0,#0f0,#100,#100,#110,#110,#120,#120,#130,#130,#140,#150,#150,#160,#170,#180,#180,#190,#1a0,#1a0,#1b0,#1c0,#1c0,#1d0,#1e0,#1f0,#200,#210,#220,#230,#250,#260,#270,#280,#2a0,#2c0,#2f0,#310,#330,#350,#370,#390,#3b0,#3d0,#410,#420,#430,#440,#440,#450,#450,#460,#470,#480,#490,#4a0,#4b0,#4c0,#4d0,#4d0,#4e0,#4f0,#500,#510,#520,#530,#530,#540,#550,#550,#560,#570,#570,#580,#580,#590,#590,#5a0,#5a0,#5b0,#5c0,#5c0,#5d0,#5e0,#5e0,#5f0,#600,#610,#620,#620,#630,#640,#650,#660,#670,#680,#690,#6a0,#6b0,#6c0,#6c0,#6d0,#6e0,#6f0,#6f0,#700,#710,#710,#720,#730,#730,#740,#750,#750,#760,#770,#770,#780,#780,#790,#790,#790,#7a0,#7a0,#7a0,#7a0,#7a0,#7a0,#7a0,#790,#790,#780,#770,#770,#760,#740,#730,#720,#700,#6f0,#6d0,#6b0,#690,#670,#650,#630,#600,#5e0,#5c0,#5a0,#580,#570,#550,#540,#520,#510,#4f0,#4c0,#4a0,#470,#450,#430,#3f0,#3c0,#3b0,#3a0,#390,#380,#370,#360,#350,#350,#340,#330,#320,#310,#300,#2f0,#2e0,#2d0,#2c0,#2b0,#2a0,#290,#280,#280,#270,#270,#270,#260,#260,#260,#260,#250,#250,#250,#250,#240,#240,#240,#240,#240)"></i><i style="background:linear-gradient(90deg,#0e0,#0e0,#0f0,#0f0,#100,#100,#110,#110,#120,#120,#130,#130,#140,#150,#150,#160,#170,#170,#180,#190,#1a0,#1a0,#1b0,#1c0,#1c0,#1d0,#1e0,#1f0,#200,#210,#220,#240,#250,#260,#270,#290,#2b0,#2d0,#2f0,#310,#340,#360,#380,#3a0,#3c0,#3f0,#420,#430,#430,#440,#440,#450,#460,#460,#470,#480,#490,#4a0,#4b0,#4c0,#4d0,#4e0,#4f0,#500,#510,#520,#530,#540,#540,#550,#560,#560,#570,#570,#580,#590,#590,#5a0,#5a0,#5b0,#5c0,#5c0,#5d0,#5e0,#5e0,#5f0,#600,#600,#610,#620,#630,#640,#650,#650,#660,#670,#680,#690,#6a0,#6b0,#6c0,#6d0,#6e0,#6f0,#700,#700,#710,#720,#720,#730,#740,#740,#750,#760,#760,#770,#780,#780,#790,#790,#7a0,#7a0,#7b0,#7b0,#7b0,#7b0,#7c0,#7c0,#7c0,#7c0,#7b0,#7b0,#7a0,#7a0,#790,#780,#770,#760,#750,#730,#720,#700,#6e0,#6c0,#6a0,#680,#660,#640,#620,#5f0,#5d0,#5b0,#590,#570,#560,#540,#530,#510,#4f0,#4d0,#4a0,#480,#450,#430,#400,#3c0,#3b0,#3a0,#390,#380,#370,#360,#350,#350,#340,#330,#320,#310,#2f0,#2e0,#2d0,#2c0,#2b0,#2a0,#290,#280,#280,#270,#270,#270,#270,#260,#260,#260,#260,#250,#250,#250,#250,#240,#240,#240,#240,#240)"></i><i style="background:linear-gradient(90deg,#0d0,#0e0,#0e0,#0f0,#0f0,#100,#100,#110,#110,#120,#130,#130,#140,#140,#150,#160,#170,#170,#180,#190,#1a0,#1a0,#1b0,#1c0,#1c0,#1d0,#1e0,#1f0,#200,#210,#230,#240,#250,#260,#270,#290,#2b0,#2d0,#300,#320,#340,#360,#380,#3a0,#3d0,#400,#420,#430,#440,#440,#450,#450,#460,#470,#480,#490,#4a0,#4b0,#4c0,#4d0,#4e0,#4f0,#500,#510,#520,#530,#540,#550,#550,#560,#570,#570,#580,#580,#590,#590,#5a0,#5b0,#5b0,#5c0,#5d0,#5d0,#5e0,#5f0,#5f0,#600,#610,#620,#620,#630,#640,#650,#660,#670,#680,#690,#6a0,#6b0,#6c0,#6d0,#6e0,#6f0,#700,#700,#710,#720,#730,#730,#740,#750,#750,#760,#770,#770,#780,#790,#790,#7a0,#7a0,#7b0,#7b0,#7c0,#7c0,#7c0,#7d0,#7d0,#7d0,#7d0,#7d0,#7d0,#7d0,#7c0,#7c0,#7b0,#7a0,#7a0,#790,#770,#760,#750,#730,#710,#6f0,#6d0,#6b0,#690,#670,#650,#630,#600,#5e0,#5c0,#5a0,#580,#560,#550,#530,#520,#500,#4e0,#4b0,#480,#460,#430,#410,#3d0,#3b0,#3a0,#390,#380,#370,#360,#360,#350,#340,#330,#320,#300,#2f0,#2e0,#2d0,#2c0,#2b0,#2a0,#290,#280,#280,#270,#270,#270,#260,#260,#260,#260,#250,#250,#250,#250,#240,#240,#240,#240,#240,#230)"></i><i style="background:linear-gradient(90deg,#0d0,#0e0,#0e0,#0f0,#0f0,#100,#100,#110,#110,#120,#120,#130,#140,#140,#150,#160,#170,#170,#180,#190,#1a0,#1a0,#1b0,#1c0,#1d0,#1d0,#1e0,#1f0,#210,#220,#230,#240,#250,#260,#270,#290,#2c0,#2e0,#300,#330,#350,#370,#390,#3b0,#3e0,#410,#430,#430,#440,#450,#450,#460,#470,#480,#490,#4a0,#4b0,#4c0,#4d0,#4e0,#4f0,#500,#510,#520,#530,#540,#550,#560,#560,#570,#580,#580,#590,#590,#5a0,#5a0,#5b0,#5c0,#5c0,#5d0,#5e0,#5f0,#5f0,#600,#610,#610,#620,#630,#640,#640,#650,#660,#670,#680,#690,#6a0,#6b0,#6c0,#6d0,#6e0,#6f0,#700,#710,#720,#730,#740,#740,#750,#760,#760,#770,#780,#780,#790,#7a0,#7a0,#7b0,#7b0,#7c0,#7c0,#7d0,#7d0,#7e0,#7e0,#7e0,#7e0,#7f0,#7f0,#7f0,#7f0,#7e0,#7e0,#7d0,#7d0,#7c0,#7b0,#7a0,#790,#780,#760,#740,#730,#710,#6f0,#6d0,#6a0,#680,#660,#640,#620,#5f0,#5d0,#5a0,#590,#570,#550,#540,#520,#510,#4e0,#4c0,#490,#460,#440,#410,#3e0,#3b0,#3a0,#390,#380,#370,#370,#360,#350,#340,#330,#310,#300,#2f0,#2e0,#2d0,#2c0,#2b0,#2a0,#290,#280,#280,#270,#270,#270,#260,#260,#260,#250,#250,#250,#250,#240,#240,#240,#240,#240,#230,#230)"></i><i style="background:linear-gradient(90deg,#0d0,#0d0,#0e0,#0e0,#0f0,#0f0,#100,#110,#110,#120,#120,#130,#130,#140,#150,#160,#160,#170,#180,#190,#1a0,#1a0,#1b0,#1c0,#1d0,#1d0,#1e0,#200,#210,#220,#230,#240,#250,#270,#280,#2a0,#2c0,#2f0,#310,#330,#360,#380,#3a0,#3d0,#400,#420,#430,#440,#440,#450,#460,#460,#470,#490,#4a0,#4b0,#4c0,#4d0,#4e0,#4f0,#500,#510,#520,#530,#540,#550,#560,#570,#570,#580,#590,#590,#5a0,#5a0,#5b0,#5c0,#5c0,#5d0,#5e0,#5e0,#5f0,#600,#600,#610,#620,#620,#630,#640,#650,#660,#660,#670,#680,#690,#6a0,#6b0,#6c0,#6d0,#6e0,#6f0,#710,#720,#730,#740,#750,#750,#760,#770,#770,#780,#790,#790,#7a0,#7b0,#7b0,#7c0,#7c0,#7d0,#7d0,#7e0,#7e0,#7f0,#7f0,#7f0,#800,#800,#800,#800,#800,#800,#800,#7f0,#7f0,#7e0,#7e0,#7d0,#7c0,#7b0,#790,#780,#760,#740,#720,#700,#6e0,#6c0,#6a0,#670,#650,#630,#600,#5e0,#5b0,#590,#580,#560,#540,#530,#510,#4f0,#4c0,#490,#470,#440,#420,#3e0,#3c0,#3b0,#3a0,#390,#380,#370,#360,#350,#340,#330,#310,#300,#2f0,#2e0,#2d0,#2c0,#2a0,#290,#280,#280,#270,#270,#270,#260,#260,#260,#260,#250,#250,#250,#250,#240,#240,#240,#240,#230,#230,#230)"></i><i style="background:linear-gradient(90deg,#0d0,#0d0,#0e0,#0e0,#0f0,#0f0,#100,#100,#110,#110,#120,#130,#130,#140,#150,#160,#160,#170,#180,#190,#1a0,#1a0,#1b0,#1c0,#1d0,#1e0,#1f0,#200,#210,#220,#230,#250,#260,#270,#280,#2b0,#2d0,#300,#320,#340,#370,#390,#3b0,#3e0,#410,#430,#430,#440,#450,#450,#460,#470,#480,#490,#4b0,#4c0,#4d0,#4e0,#4f0,#500,#510,#520,#540,#550,#560,#570,#570,#580,#590,#590,#5a0,#5a0,#5b0,#5b0,#5c0,#5d0,#5d0,#5e0,#5f0,#5f0,#600,#610,#610,#620,#630,#640,#640,#650,#660,#670,#680,#680,#690,#6a0,#6b0,#6c0,#6d0,#6f0,#700,#710,#720,#730,#740,#750,#760,#770,#780,#780,#790,#7a0,#7a0,#7b0,#7c0,#7c0,#7d0,#7d0,#7e0,#7e0,#7f0,#7f0,#800,#800,#810,#810,#810,#810,#810,#820,#820,#820,#810,#810,#810,#800,#7f0,#7e0,#7d0,#7c0,#7b0,#790,#770,#760,#740,#720,#6f0,#6d0,#6b0,#690,#660,#640,#610,#5f0,#5c0,#5a0,#580,#570,#550,#530,#510,#4f0,#4d0,#4a0,#470,#450,#420,#3f0,#3c0,#3b0,#3a0,#390,#380,#370,#360,#350,#340,#330,#310,#300,#2f0,#2e0,#2d0,#2b0,#2a0,#290,#280,#280,#270,#270,#270,#260,#260,#260,#250,#250,#250,#250,#240,#240,#240,#240,#230,#230,#230,#230)"></i><i style="background:linear-gradient(90deg,#0c0,#0d0,#0d0,#0e0,#0e0,#0f0,#100,#100,#110,#110,#120,#120,#130,#140,#150,#150,#160,#170,#180,#190,#1a0,#1a0,#1b0,#1c0,#1d0,#1e0,#1f0,#200,#210,#220,#240,#250,#260,#270,#290,#2b0,#2e0,#310,#330,#350,#370,#3a0,#3c0,#3f0,#420,#430,#440,#440,#450,#460,#470,#480,#490,#4a0,#4b0,#4c0,#4e0,#4f0,#500,#510,#520,#540,#550,#560,#570,#580,#590,#590,#5a0,#5a0,#5b0,#5b0,#5c0,#5c0,#5d0,#5e0,#5e0,#5f0,#600,#600,#610,#620,#630,#630,#640,#650,#660,#660,#670,#680,#690,#6a0,#6b0,#6b0,#6c0,#6d0,#6f0,#700,#710,#730,#740,#750,#760,#770,#780,#790,#790,#7a0,#7b0,#7b0,#7c0,#7d0,#7d0,#7e0,#7e0,#7f0,#7f0,#800,#800,#810,#810,#820,#820,#830,#830,#830,#830,#840,#840,#840,#830,#830,#820,#820,#810,#800,#7f0,#7e0,#7c0,#7b0,#790,#770,#750,#730,#710,#6f0,#6c0,#6a0,#670,#650,#620,#600,#5d0,#5b0,#590,#570,#550,#540,#520,#500,#4d0,#4b0,#480,#450,#430,#400,#3c0,#3b0,#3a0,#390,#380,#370,#360,#350,#340,#320,#310,#300,#2f0,#2e0,#2c0,#2b0,#2a0,#290,#280,#270,#270,#270,#260,#260,#260,#250,#250,#250,#250,#240,#240,#240,#240,#230,#230,#230,#230,#230)"></i><i style="background:linear-gradient(90deg,#0c0,#0c0,#0d0,#0e0,#0e0,#0f0,#0f0,#100,#100,#110,#120,#120,#130,#140,#140,#150,#160,#170,#180,#190,#1a0,#1b0,#1b0,#1c0,#1d0,#1e0,#1f0,#200,#220,#230,#240,#250,#260,#270,#2a0,#2c0,#2f0,#320,#340,#360,#380,#3b0,#3d0,#410,#430,#430,#440,#450,#460,#460,#480,#490,#4a0,#4b0,#4c0,#4d0,#4e0,#4f0,#510,#520,#540,#550,#570,#580,#590,#590,#5a0,#5b0,#5b0,#5b0,#5c0,#5c0,#5d0,#5e0,#5e0,#5f0,#5f0,#600,#610,#610,#620,#630,#640,#640,#650,#660,#670,#670,#680,#690,#6a0,#6b0,#6c0,#6d0,#6e0,#6f0,#700,#720,#730,#740,#750,#760,#770,#780,#790,#7a0,#7b0,#7c0,#7c0,#7d0,#7e0,#7e0,#7f0,#7f0,#800,#810,#810,#820,#820,#830,#830,#840,#840,#850,#850,#850,#850,#860,#860,#860,#850,#850,#840,#840,#830,#820,#810,#800,#7e0,#7c0,#7b0,#790,#770,#750,#720,#700,#6d0,#6b0,#690,#660,#640,#610,#5e0,#5c0,#590,#580,#560,#540,#520,#510,#4e0,#4b0,#480,#460,#430,#400,#3d0,#3b0,#3a0,#390,#380,#370,#360,#350,#340,#320,#310,#300,#2f0,#2d0,#2c0,#2b0,#2a0,#280,#280,#270,#270,#270,#260,#260,#260,#250,#250,#250,#240,#240,#240,#240,#230,#230,#230,#230,#230,#220)"></i><i style="background:linear-gradient(90deg,#0c0,#0c0,#0d0,#0d0,#0e0,#0e0,#0f0,#100,#100,#110,#110,#120,#130,#130,#140,#150,#160,#170,#180,#190,#1a0,#1b0,#1c0,#1c0,#1d0,#1e0,#200,#210,#220,#230,#240,#250,#270,#280,#2a0,#2d0,#300,#330,#350,#370,#390,#3c0,#3f0,#420,#430,#440,#450,#450,#460,#470,#490,#4a0,#4b0,#4c0,#4d0,#4e0,#4f0,#510,#530,#540,#560,#570,#580,#590,#5a0,#5b0,#5b0,#5c0,#5c0,#5d0,#5d0,#5e0,#5e0,#5f0,#5f0,#600,#600,#610,#620,#620,#630,#640,#650,#650,#660,#670,#680,#690,#690,#6a0,#6b0,#6c0,#6d0,#6e0,#6f0,#700,#720,#730,#740,#760,#770,#780,#790,#7a0,#7b0,#7c0,#7d0,#7d0,#7e0,#7f0,#7f0,#800,#810,#810,#820,#820,#830,#840,#840,#850,#850,#860,#860,#870,#870,#870,#870,#880,#880,#880,#870,#870,#860,#860,#850,#840,#830,#820,#800,#7e0,#7c0,#7a0,#780,#760,#740,#710,#6f0,#6c0,#6a0,#670,#650,#620,#5f0,#5d0,#5a0,#580,#560,#550,#530,#510,#4f0,#4c0,#490,#460,#440,#410,#3d0,#3b0,#3a0,#390,#380,#370,#360,#350,#340,#320,#310,#300,#2f0,#2d0,#2c0,#2b0,#290,#280,#280,#270,#270,#270,#260,#260,#250,#250,#250,#250,#240,#240,#240,#240,#230,#230,#230,#230,#220,#220)"></i><i style="background:linear-gradient(90deg,#0b0,#0c0,#0c0,#0d0,#0e0,#0e0,#0f0,#0f0,#100,#110,#110,#120,#130,#130,#140,#150,#160,#170,#180,#190,#1a0,#1b0,#1c0,#1d0,#1e0,#1f0,#200,#210,#220,#230,#250,#260,#270,#280,#2b0,#2e0,#310,#340,#360,#380,#3a0,#3d0,#410,#430,#430,#440,#450,#460,#470,#480,#4a0,#4b0,#4c0,#4d0,#4e0,#4f0,#510,#530,#540,#560,#570,#590,#5a0,#5b0,#5b0,#5c0,#5c0,#5d0,#5d0,#5e0,#5e0,#5f0,#5f0,#600,#600,#610,#610,#620,#630,#640,#640,#650,#660,#660,#670,#680,#690,#6a0,#6a0,#6b0,#6c0,#6d0,#6e0,#6f0,#710,#720,#740,#750,#760,#770,#790,#7a0,#7b0,#7c0,#7d0,#7e0,#7e0,#7f0,#800,#800,#810,#820,#830,#830,#840,#840,#850,#860,#860,#870,#870,#880,#880,#890,#890,#890,#890,#8a0,#8a0,#8a0,#890,#890,#890,#880,#870,#860,#850,#830,#810,#800,#7e0,#7c0,#7a0,#780,#750,#730,#700,#6e0,#6b0,#680,#660,#630,#600,#5e0,#5b0,#590,#570,#550,#530,#510,#4f0,#4c0,#4a0,#470,#440,#420,#3e0,#3b0,#3a0,#390,#380,#370,#360,#350,#340,#320,#310,#300,#2e0,#2d0,#2c0,#2a0,#290,#280,#280,#270,#270,#260,#260,#260,#250,#250,#250,#240,#240,#240,#240,#230,#230,#230,#230,#220,#220,#220)"></i><i style="background:linear-gradient(90deg,#0b0,#0c0,#0c0,#0d0,#0d0,#0e0,#0e0,#0f0,#100,#100,#110,#120,#120,#130,#140,#150,#160,#170,#180,#190,#1a0,#1b0,#1c0,#1d0,#1e0,#1f0,#200,#210,#230,#240,#250,#260,#270,#290,#2c0,#2f0,#320,#350,#370,#390,#3b0,#3f0,#420,#430,#440,#450,#460,#470,#480,#490,#4b0,#4c0,#4d0,#4e0,#4f0,#510,#530,#550,#560,#580,#590,#5a0,#5b0,#5c0,#5c0,#5d0,#5d0,#5e0,#5e0,#5f0,#5f0,#600,#600,#610,#610,#620,#620,#630,#640,#650,#650,#660,#670,#680,#680,#690,#6a0,#6b0,#6b0,#6c0,#6d0,#6e0,#700,#710,#720,#740,#750,#770,#780,#790,#7a0,#7b0,#7c0,#7d0,#7e0,#7f0,#800,#810,#810,#820,#830,#840,#840,#850,#860,#870,#870,#880,#880,#890,#8a0,#8a0,#8a0,#8b0,#8b0,#8b0,#8c0,#8c0,#8c0,#8c0,#8c0,#8b0,#8b0,#8a0,#890,#880,#870,#850,#840,#820,#800,#7e0,#7c0,#790,#770,#740,#720,#6f0,#6c0,#6a0,#670,#640,#620,#5f0,#5c0,#590,#580,#560,#540,#520,#500,#4d0,#4a0,#470,#450,#430,#3f0,#3c0,#3a0,#390,#380,#370,#360,#350,#340,#320,#310,#300,#2e0,#2d0,#2c0,#2a0,#290,#280,#270,#270,#270,#260,#260,#260,#250,#250,#250,#240,#240,#240,#230,#230,#230,#230,#220,#220,#220,#220)"></i><i style="background:linear-gradient(90deg,#0b0,#0b0,#0c0,#0c0,#0d0,#0e0,#0e0,#0f0,#0f0,#100,#110,#110,#120,#130,#140,#150,#160,#170,#180,#190,#1a0,#1b0,#1c0,#1d0,#1e0,#1f0,#210,#220,#230,#240,#250,#260,#280,#2a0,#2d0,#310,#330,#360,#380,#3a0,#3d0,#410,#430,#440,#440,#450,#460,#480,#490,#4b0,#4c0,#4d0,#4e0,#500,#510,#530,#550,#570,#580,#5a0,#5b0,#5c0,#5c0,#5d0,#5e0,#5e0,#5f0,#5f0,#5f0,#600,#600,#610,#610,#620,#620,#630,#640,#640,#650,#660,#660,#670,#680,#690,#690,#6a0,#6b0,#6c0,#6d0,#6d0,#6e0,#700,#710,#730,#740,#760,#770,#780,#7a0,#7b0,#7c0,#7d0,#7e0,#7f0,#800,#810,#820,#830,#830,#840,#850,#860,#870,#870,#880,#890,#890,#8a0,#8b0,#8b0,#8c0,#8c0,#8c0,#8d0,#8d0,#8d0,#8e0,#8e0,#8e0,#8e0,#8e0,#8d0,#8d0,#8c0,#8b0,#8a0,#890,#870,#860,#840,#820,#800,#7d0,#7b0,#780,#760,#730,#700,#6d0,#6b0,#680,#650,#630,#600,#5d0,#5a0,#580,#560,#540,#520,#500,#4e0,#4b0,#480,#450,#430,#400,#3c0,#3b0,#390,#380,#370,#360,#350,#330,#320,#310,#300,#2e0,#2d0,#2b0,#2a0,#290,#280,#270,#270,#270,#260,#260,#250,#250,#250,#240,#240,#240,#230,#230,#230,#230,#220,#220,#220,#220,#220)"></i><i style="background:linear-gradient(90deg,#0a0,#0b0,#0b0,#0c0,#0d0,#0d0,#0e0,#0e0,#0f0,#100,#100,#110,#120,#130,#140,#140,#160,#170,#180,#190,#1a0,#1b0,#1c0,#1d0,#1e0,#200,#210,#220,#230,#240,#260,#270,#280,#2b0,#2f0,#320,#340,#370,#390,#3b0,#3f0,#420,#430,#440,#450,#460,#470,#490,#4b0,#4c0,#4d0,#4e0,#500,#520,#530,#550,#570,#590,#5a0,#5b0,#5c0,#5d0,#5e0,#5e0,#5f0,#5f0,#600,#600,#600,#610,#610,#620,#620,#630,#630,#640,#650,#650,#660,#670,#670,#680,#690,#6a0,#6a0,#6b0,#6c0,#6d0,#6e0,#6f0,#700,#720,#730,#750,#760,#770,#790,#7a0,#7b0,#7c0,#7e0,#7f0,#800,#810,#820,#830,#840,#850,#860,#860,#870,#880,#890,#890,#8a0,#8b0,#8b0,#8c0,#8d0,#8d0,#8e0,#8e0,#8f0,#8f0,#8f0,#8f0,#900,#900,#900,#900,#900,#8f0,#8f0,#8e0,#8d0,#8c0,#8b0,#890,#880,#860,#840,#810,#7f0,#7d0,#7a0,#770,#750,#720,#6f0,#6c0,#690,#670,#640,#610,#5e0,#5b0,#590,#570,#550,#530,#510,#4e0,#4b0,#490,#460,#440,#410,#3d0,#3b0,#3a0,#380,#370,#360,#350,#330,#320,#310,#2f0,#2e0,#2d0,#2b0,#2a0,#290,#280,#270,#270,#260,#260,#260,#250,#250,#250,#240,#240,#240,#230,#230,#230,#220,#220,#220,#220,#220,#210)"></i><i style="background:linear-gradient(90deg,#0a0,#0a0,#0b0,#0c0,#0c0,#0d0,#0d0,#0e0,#0f0,#0f0,#100,#110,#120,#130,#130,#140,#150,#170,#180,#190,#1a0,#1b0,#1c0,#1e0,#1f0,#200,#210,#220,#240,#250,#260,#270,#290,#2d0,#300,#330,#350,#380,#3a0,#3d0,#400,#430,#440,#450,#460,#470,#490,#4b0,#4c0,#4e0,#4f0,#500,#520,#540,#560,#580,#590,#5b0,#5c0,#5d0,#5d0,#5e0,#5f0,#5f0,#600,#600,#610,#610,#620,#620,#620,#630,#630,#640,#640,#650,#660,#660,#670,#680,#680,#690,#6a0,#6b0,#6b0,#6c0,#6d0,#6e0,#6f0,#710,#720,#740,#750,#760,#780,#790,#7a0,#7c0,#7d0,#7e0,#7f0,#800,#810,#830,#840,#850,#860,#870,#880,#890,#890,#8a0,#8b0,#8c0,#8c0,#8d0,#8e0,#8e0,#8f0,#8f0,#900,#900,#910,#910,#910,#920,#920,#920,#920,#920,#920,#910,#910,#900,#8f0,#8e0,#8d0,#8b0,#8a0,#880,#860,#830,#810,#7e0,#7b0,#790,#760,#730,#700,#6d0,#6b0,#680,#650,#620,#5f0,#5c0,#590,#580,#560,#540,#510,#4f0,#4c0,#490,#470,#440,#420,#3e0,#3b0,#3a0,#390,#370,#360,#350,#330,#320,#310,#2f0,#2e0,#2c0,#2b0,#2a0,#280,#280,#270,#270,#260,#260,#250,#250,#250,#240,#240,#240,#230,#230,#230,#220,#220,#220,#220,#220,#210,#210)"></i><i style="background:linear-gradient(90deg,#090,#0a0,#0b0,#0b0,#0c0,#0c0,#0d0,#0e0,#0e0,#0f0,#100,#110,#120,#120,#130,#140,#150,#170,#180,#190,#1a0,#1b0,#1d0,#1e0,#1f0,#200,#220,#230,#240,#250,#260,#280,#2b0,#2e0,#310,#340,#360,#390,#3b0,#3e0,#420,#430,#440,#450,#470,#490,#4b0,#4c0,#4e0,#4f0,#510,#530,#550,#570,#590,#5a0,#5b0,#5c0,#5d0,#5e0,#5f0,#5f0,#600,#610,#610,#620,#620,#620,#630,#630,#640,#640,#640,#650,#660,#660,#670,#670,#680,#690,#690,#6a0,#6b0,#6c0,#6c0,#6d0,#6e0,#6f0,#710,#720,#740,#750,#770,#780,#7a0,#7b0,#7c0,#7e0,#7f0,#800,#810,#830,#830,#850,#860,#870,#880,#890,#8a0,#8b0,#8c0,#8c0,#8d0,#8e0,#8e0,#8f0,#900,#900,#910,#920,#920,#920,#930,#930,#930,#940,#940,#940,#940,#940,#940,#940,#930,#920,#910,#900,#8f0,#8e0,#8c0,#8a0,#880,#850,#830,#800,#7d0,#7a0,#780,#750,#720,#6f0,#6c0,#690,#660,#630,#610,#5e0,#5b0,#590,#560,#540,#520,#4f0,#4d0,#4a0,#470,#450,#430,#3f0,#3b0,#3a0,#390,#370,#360,#350,#330,#320,#310,#2f0,#2e0,#2c0,#2b0,#290,#280,#280,#270,#270,#260,#260,#250,#250,#250,#240,#240,#230,#230,#230,#230,#220,#220,#220,#220,#210,#210,#210)"></i><i style="background:linear-gradient(90deg,#090,#090,#0a0,#0b0,#0b0,#0c0,#0d0,#0d0,#0e0,#0f0,#100,#100,#110,#120,#130,#140,#150,#160,#180,#190,#1a0,#1b0,#1d0,#1e0,#1f0,#210,#220,#230,#240,#260,#270,#280,#2c0,#2f0,#330,#350,#370,#3a0,#3d0,#400,#430,#440,#450,#460,#480,#4b0,#4d0,#4e0,#500,#520,#540,#560,#570,#590,#5b0,#5c0,#5d0,#5e0,#5f0,#5f0,#600,#610,#610,#620,#620,#630,#630,#640,#640,#640,#650,#650,#660,#660,#670,#670,#680,#680,#690,#6a0,#6a0,#6b0,#6c0,#6d0,#6d0,#6e0,#700,#710,#730,#740,#760,#770,#790,#7a0,#7b0,#7d0,#7e0,#7f0,#810,#820,#830,#840,#850,#870,#880,#890,#8a0,#8b0,#8c0,#8d0,#8e0,#8e0,#8f0,#900,#910,#910,#920,#930,#930,#940,#940,#950,#950,#950,#950,#960,#960,#960,#960,#960,#960,#960,#950,#940,#940,#930,#910,#900,#8e0,#8c0,#890,#870,#840,#810,#7f0,#7c0,#790,#760,#730,#700,#6d0,#6a0,#670,#650,#620,#5f0,#5c0,#590,#570,#550,#520,#500,#4d0,#4a0,#480,#450,#430,#3f0,#3c0,#3a0,#390,#380,#360,#350,#330,#320,#310,#2f0,#2e0,#2c0,#2b0,#290,#280,#270,#270,#260,#260,#260,#250,#250,#240,#240,#240,#230,#230,#230,#220,#220,#220,#220,#210,#210,#210,#210)"></i><i style="background:linear-gradient(90deg,#080,#090,#0a0,#0a0,#0b0,#0c0,#0c0,#0d0,#0e0,#0f0,#0f0,#100,#110,#120,#130,#140,#150,#160,#180,#190,#1a0,#1c0,#1d0,#1e0,#200,#210,#220,#240,#250,#260,#270,#2a0,#2d0,#310,#340,#360,#390,#3b0,#3e0,#420,#430,#450,#460,#480,#4a0,#4d0,#4f0,#510,#530,#550,#570,#580,#5b0,#5b0,#5d0,#5e0,#5e0,#5f0,#600,#610,#610,#620,#630,#630,#640,#640,#640,#650,#650,#650,#660,#660,#670,#670,#680,#680,#690,#690,#6a0,#6b0,#6b0,#6c0,#6d0,#6e0,#6f0,#700,#720,#730,#750,#760,#780,#790,#7b0,#7c0,#7d0,#7f0,#800,#810,#830,#840,#850,#860,#870,#880,#8a0,#8b0,#8c0,#8d0,#8e0,#8f0,#900,#910,#910,#920,#930,#930,#940,#950,#950,#950,#970,#970,#980,#980,#980,#990,#990,#990,#990,#990,#990,#990,#980,#970,#960,#950,#940,#920,#900,#8e0,#8b0,#890,#860,#830,#800,#7e0,#7b0,#780,#750,#720,#6f0,#6c0,#690,#660,#630,#600,#5e0,#5b0,#580,#560,#530,#510,#4e0,#4b0,#480,#460,#430,#400,#3c0,#3a0,#390,#380,#360,#350,#330,#320,#300,#2f0,#2d0,#2c0,#2a0,#290,#280,#270,#270,#260,#260,#250,#250,#250,#240,#240,#230,#230,#230,#220,#220,#220,#220,#210,#210,#210,#210,#200)"></i><i style="background:linear-gradient(90deg,#070,#080,#090,#0a0,#0a0,#0b0,#0c0,#0d0,#0d0,#0e0,#0f0,#100,#110,#120,#130,#140,#150,#160,#180,#190,#1a0,#1c0,#1d0,#1f0,#200,#210,#230,#240,#250,#270,#280,#2b0,#2f0,#320,#350,#370,#3a0,#3c0,#400,#430,#440,#450,#470,#4a0,#4d0,#4f0,#510,#540,#560,#580,#590,#5b0,#5c0,#5d0,#5e0,#5f0,#600,#610,#620,#620,#630,#640,#640,#640,#650,#650,#660,#660,#660,#660,#670,#670,#680,#680,#690,#690,#6a0,#6a0,#6b0,#6c0,#6c0,#6d0,#6e0,#6f0,#710,#720,#740,#750,#770,#780,#7a0,#7b0,#7c0,#7e0,#7f0,#810,#820,#830,#840,#850,#870,#880,#890,#8a0,#8c0,#8d0,#8e0,#8f0,#900,#910,#920,#930,#940,#940,#950,#950,#970,#970,#980,#990,#9a0,#9a0,#9b0,#9b0,#9b0,#9c0,#9c0,#9c0,#9c0,#9c0,#9c0,#9c0,#9b0,#9a0,#990,#980,#960,#940,#920,#900,#8e0,#8b0,#880,#850,#830,#7f0,#7c0,#790,#760,#730,#700,#6d0,#6a0,#670,#640,#620,#5f0,#5c0,#590,#570,#540,#510,#4e0,#4b0,#490,#460,#440,#410,#3d0,#3b0,#390,#380,#360,#350,#330,#320,#300,#2f0,#2d0,#2c0,#2a0,#290,#280,#270,#270,#260,#260,#250,#250,#240,#240,#240,#230,#230,#220,#220,#220,#220,#210,#210,#210,#210,#200,#200)"></i><i style="background:linear-gradient(90deg,#060,#070,#080,#090,#0a0,#0b0,#0b0,#0c0,#0d0,#0e0,#0f0,#100,#110,#120,#130,#140,#150,#160,#180,#190,#1b0,#1c0,#1d0,#1f0,#200,#220,#230,#240,#260,#270,#290,#2d0,#300,#330,#360,#380,#3b0,#3e0,#410,#430,#450,#470,#4a0,#4d0,#4f0,#520,#550,#570,#590,#5b0,#5c0,#5d0,#5e0,#5f0,#600,#610,#620,#630,#630,#640,#640,#650,#650,#660,#660,#670,#670,#670,#670,#680,#680,#680,#690,#690,#6a0,#6a0,#6b0,#6b0,#6c0,#6d0,#6d0,#6e0,#700,#710,#730,#740,#760,#770,#790,#7a0,#7c0,#7d0,#7e0,#800,#810,#820,#840,#850,#860,#870,#880,#8a0,#8b0,#8c0,#8e0,#8f0,#900,#910,#920,#930,#940,#950,#960,#970,#980,#980,#990,#9a0,#9b0,#9c0,#9d0,#9d0,#9e0,#9e0,#9f0,#9f0,#9f0,#9f0,#9f0,#a00,#9f0,#9f0,#9e0,#9d0,#9c0,#9b0,#990,#970,#950,#920,#900,#8d0,#8a0,#870,#840,#810,#7e0,#7b0,#780,#750,#710,#6e0,#6b0,#680,#660,#630,#600,#5d0,#5b0,#580,#550,#520,#4f0,#4c0,#490,#470,#440,#410,#3d0,#3b0,#390,#380,#360,#350,#330,#320,#300,#2f0,#2d0,#2c0,#2a0,#290,#280,#270,#270,#260,#260,#250,#250,#240,#240,#230,#230,#230,#220,#220,#220,#210,#210,#210,#200,#200,#200,#200)"></i><i style="background:linear-gradient(90deg,#060,#060,#070,#080,#090,#0a0,#0b0,#0c0,#0d0,#0e0,#0f0,#0f0,#100,#110,#120,#130,#150,#160,#180,#190,#1b0,#1c0,#1e0,#1f0,#210,#220,#230,#250,#260,#280,#2b0,#2e0,#320,#340,#370,#390,#3c0,#3f0,#430,#440,#460,#490,#4c0,#4f0,#530,#560,#580,#5a0,#5c0,#5d0,#5e0,#5f0,#600,#610,#620,#630,#640,#640,#650,#650,#660,#660,#670,#670,#680,#680,#680,#680,#680,#690,#690,#690,#6a0,#6a0,#6b0,#6b0,#6c0,#6c0,#6d0,#6e0,#6f0,#700,#720,#730,#750,#760,#780,#790,#7b0,#7c0,#7e0,#7f0,#800,#810,#830,#840,#850,#860,#880,#890,#8a0,#8b0,#8d0,#8e0,#8f0,#910,#920,#930,#940,#950,#970,#970,#980,#990,#9a0,#9b0,#9c0,#9d0,#9e0,#9f0,#a00,#a10,#a10,#a10,#a20,#a20,#a20,#a20,#a30,#a30,#a20,#a20,#a10,#a10,#a00,#9e0,#9c0,#9a0,#970,#950,#920,#8f0,#8c0,#890,#860,#830,#800,#7c0,#790,#760,#730,#700,#6c0,#6a0,#670,#640,#610,#5f0,#5c0,#590,#560,#520,#4f0,#4c0,#4a0,#470,#450,#420,#3e0,#3b0,#390,#380,#360,#350,#330,#320,#300,#2f0,#2d0,#2b0,#2a0,#280,#280,#270,#260,#260,#250,#250,#240,#240,#240,#230,#230,#220,#220,#220,#210,#210,#210,#200,#200,#200,#200,#1f0)"></i><i style="background:linear-gradient(90deg,#050,#050,#060,#070,#080,#090,#0b0,#0b0,#0c0,#0d0,#0e0,#0f0,#100,#110,#120,#130,#150,#160,#180,#190,#1b0,#1c0,#1e0,#1f0,#210,#220,#240,#250,#270,#290,#2c0,#300,#330,#350,#380,#3a0,#3d0,#410,#430,#450,#480,#4c0,#4f0,#530,#570,#5a0,#5c0,#5d0,#5e0,#600,#610,#620,#630,#630,#640,#650,#650,#660,#670,#670,#680,#680,#680,#690,#690,#690,#690,#6a0,#6a0,#6a0,#6a0,#6b0,#6b0,#6b0,#6c0,#6c0,#6d0,#6d0,#6e0,#700,#710,#720,#740,#750,#770,#780,#7a0,#7b0,#7d0,#7e0,#800,#810,#820,#830,#850,#860,#870,#880,#890,#8b0,#8c0,#8d0,#8e0,#900,#910,#920,#940,#950,#960,#980,#990,#9a0,#9b0,#9c0,#9d0,#9e0,#9f0,#a00,#a10,#a20,#a30,#a40,#a40,#a40,#a50,#a50,#a50,#a60,#a60,#a60,#a60,#a50,#a50,#a40,#a30,#a10,#9f0,#9d0,#9a0,#980,#940,#920,#8f0,#8c0,#880,#850,#810,#7e0,#7b0,#780,#740,#710,#6d0,#6b0,#680,#650,#620,#5f0,#5d0,#590,#560,#530,#500,#4d0,#4a0,#480,#450,#430,#3e0,#3b0,#390,#380,#360,#350,#330,#310,#300,#2e0,#2d0,#2b0,#2a0,#280,#270,#270,#260,#260,#250,#250,#240,#240,#230,#230,#220,#220,#220,#210,#210,#210,#200,#200,#200,#200,#1f0,#1f0)"></i><i style="background:linear-gradient(90deg,#040,#040,#050,#060,#070,#090,#0a0,#0b0,#0c0,#0d0,#0e0,#0f0,#100,#110,#120,#130,#150,#160,#180,#190,#1b0,#1d0,#1e0,#200,#210,#230,#240,#260,#270,#2a0,#2e0,#310,#340,#370,#390,#3b0,#3f0,#420,#440,#470,#4b0,#4e0,#530,#570,#5b0,#5d0,#5f0,#600,#610,#620,#630,#640,#650,#660,#660,#670,#670,#680,#680,#690,#690,#6a0,#6a0,#6a0,#6a0,#6b0,#6b0,#6b0,#6b0,#6b0,#6b0,#6c0,#6c0,#6c0,#6d0,#6d0,#6e0,#6f0,#700,#720,#730,#740,#760,#770,#790,#7a0,#7c0,#7d0,#7f0,#800,#820,#830,#840,#850,#860,#870,#890,#8a0,#8b0,#8c0,#8d0,#8f0,#900,#920,#930,#940,#960,#970,#990,#9a0,#9b0,#9c0,#9e0,#9f0,#a00,#a10,#a20,#a30,#a40,#a50,#a60,#a70,#a70,#a70,#a80,#a80,#a80,#a90,#a90,#a90,#a90,#a80,#a80,#a70,#a60,#a40,#a20,#a00,#9d0,#9a0,#970,#940,#910,#8e0,#8a0,#870,#830,#800,#7d0,#790,#760,#720,#6f0,#6c0,#690,#660,#630,#600,#5e0,#5b0,#570,#540,#500,#4d0,#4b0,#480,#450,#430,#3f0,#3b0,#3a0,#380,#360,#350,#330,#310,#300,#2e0,#2d0,#2b0,#2a0,#280,#270,#270,#260,#260,#250,#250,#240,#240,#230,#230,#220,#220,#210,#210,#210,#200,#200,#200,#200,#1f0,#1f0,#1f0)"></i><i style="background:linear-gradient(90deg,#030,#030,#040,#050,#070,#080,#090,#0a0,#0b0,#0c0,#0d0,#0f0,#100,#110,#120,#130,#140,#160,#180,#190,#1b0,#1d0,#1e0,#200,#220,#230,#250,#260,#280,#2c0,#2f0,#330,#350,#380,#3a0,#3d0,#400,#430,#460,#490,#4d0,#510,#570,#5b0,#5e0,#600,#620,#630,#640,#650,#660,#670,#670,#680,#680,#690,#690,#6a0,#6a0,#6b0,#6b0,#6b0,#6c0,#6c0,#6c0,#6c0,#6c0,#6c0,#6c0,#6c0,#6c0,#6d0,#6d0,#6d0,#6e0,#6f0,#700,#710,#730,#740,#750,#770,#780,#790,#7b0,#7c0,#7e0,#7f0,#810,#820,#830,#840,#860,#870,#880,#890,#8a0,#8b0,#8d0,#8e0,#8f0,#900,#920,#930,#950,#960,#980,#990,#9b0,#9c0,#9e0,#9f0,#a00,#a10,#a20,#a40,#a50,#a60,#a70,#a80,#a90,#aa0,#ab0,#ab0,#ab0,#ab0,#ac0,#ac0,#ac0,#ac0,#ac0,#ac0,#ab0,#aa0,#a90,#a80,#a60,#a30,#a00,#9d0,#9a0,#970,#930,#900,#8c0,#890,#850,#810,#7e0,#7b0,#770,#740,#700,#6d0,#6a0,#670,#640,#610,#5e0,#5c0,#580,#550,#510,#4e0,#4b0,#480,#460,#430,#3f0,#3b0,#3a0,#380,#360,#350,#330,#310,#300,#2e0,#2d0,#2b0,#290,#280,#270,#270,#260,#250,#250,#240,#240,#230,#230,#220,#220,#220,#210,#210,#200,#200,#200,#1f0,#1f0,#1f0,#1f0,#1e0)"></i><i style="background:linear-gradient(90deg,#020,#020,#030,#040,#060,#070,#080,#090,#0b0,#0c0,#0d0,#0e0,#0f0,#110,#120,#130,#140,#160,#180,#1a0,#1b0,#1d0,#1f0,#200,#220,#240,#260,#270,#2a0,#2d0,#310,#340,#360,#390,#3b0,#3e0,#420,#450,#470,#4b0,#4f0,#550,#5b0,#5e0,#610,#630,#650,#660,#670,#680,#690,#690,#6a0,#6a0,#6b0,#6b0,#6b0,#6c0,#6c0,#6c0,#6d0,#6d0,#6d0,#6d0,#6d0,#6d0,#6d0,#6d0,#6d0,#6e0,#6e0,#6e0,#6f0,#6f0,#700,#710,#720,#740,#750,#760,#770,#790,#7a0,#7c0,#7d0,#7f0,#800,#810,#830,#840,#850,#860,#870,#880,#890,#8b0,#8c0,#8d0,#8e0,#8f0,#910,#920,#930,#950,#960,#980,#9a0,#9b0,#9d0,#9e0,#a00,#a10,#a20,#a40,#a50,#a60,#a80,#a90,#aa0,#ac0,#ad0,#ad0,#ae0,#ae0,#ae0,#ae0,#af0,#af0,#af0,#af0,#af0,#af0,#ae0,#ad0,#ac0,#ab0,#a90,#a60,#a40,#a10,#9d0,#990,#950,#920,#8e0,#8b0,#870,#840,#800,#7c0,#790,#750,#710,#6e0,#6b0,#680,#650,#620,#5f0,#5c0,#590,#550,#520,#4e0,#4c0,#490,#460,#430,#400,#3c0,#3a0,#380,#360,#340,#330,#310,#2f0,#2e0,#2c0,#2b0,#290,#280,#270,#270,#260,#250,#250,#240,#240,#230,#230,#220,#220,#210,#210,#200,#200,#200,#1f0,#1f0,#1f0,#1f0,#1e0,#1e0)"></i><i style="background:linear-gradient(90deg,#000,#010,#020,#030,#050,#060,#070,#090,#0b0,#0c0,#0d0,#0e0,#0f0,#100,#120,#130,#140,#160,#180,#1a0,#1b0,#1d0,#1f0,#210,#230,#240,#260,#280,#2b0,#2f0,#330,#350,#370,#3a0,#3d0,#400,#430,#460,#4a0,#4d0,#520,#580,#5e0,#610,#640,#670,#680,#6a0,#6b0,#6b0,#6c0,#6c0,#6c0,#6d0,#6d0,#6d0,#6d0,#6e0,#6f0,#6e0,#6f0,#6f0,#6f0,#6f0,#6f0,#6f0,#6f0,#6f0,#6f0,#6f0,#700,#700,#710,#720,#720,#730,#750,#760,#770,#780,#7a0,#7b0,#7c0,#7e0,#7f0,#810,#820,#830,#840,#850,#860,#880,#890,#8a0,#8b0,#8c0,#8d0,#8f0,#900,#910,#920,#940,#950,#970,#980,#9a0,#9c0,#9e0,#9f0,#a10,#a20,#a30,#a50,#a60,#a70,#a90,#ab0,#ac0,#ae0,#af0,#b00,#b00,#b10,#b10,#b10,#b20,#b20,#b20,#b20,#b20,#b20,#b20,#b10,#b10,#b00,#ae0,#ac0,#a90,#a70,#a40,#a00,#9c0,#980,#940,#900,#8d0,#890,#850,#810,#7e0,#7a0,#760,#730,#6f0,#6c0,#690,#660,#630,#600,#5d0,#5b0,#560,#520,#4f0,#4c0,#490,#460,#440,#400,#3c0,#3a0,#380,#360,#340,#330,#310,#2f0,#2e0,#2c0,#2b0,#290,#280,#270,#260,#260,#250,#240,#240,#230,#230,#220,#220,#210,#210,#200,#200,#200,#1f0,#1f0,#1f0,#1e0,#1e0,#1e0,#1d0)"></i><i style="background:linear-gradient(90deg,#000,#000,#010,#020,#030,#050,#060,#080,#0a0,#0b0,#0c0,#0d0,#0f0,#100,#110,#130,#140,#160,#180,#1a0,#1c0,#1d0,#1f0,#210,#230,#250,#270,#290,#2d0,#310,#340,#360,#380,#3b0,#3e0,#420,#450,#480,#4c0,#500,#550,#5b0,#610,#650,#680,#6a0,#6c0,#6d0,#6d0,#6e0,#6f0,#6f0,#6f0,#6f0,#6f0,#6f0,#700,#700,#700,#700,#710,#710,#710,#710,#710,#710,#710,#710,#710,#710,#720,#720,#730,#740,#750,#760,#770,#780,#790,#7a0,#7c0,#7d0,#7e0,#800,#810,#830,#840,#850,#860,#870,#880,#890,#8a0,#8b0,#8d0,#8e0,#8f0,#900,#910,#930,#940,#950,#970,#990,#9b0,#9c0,#9e0,#a00,#a10,#a30,#a40,#a60,#a70,#a80,#a90,#ac0,#ae0,#af0,#b10,#b20,#b30,#b30,#b40,#b40,#b40,#b50,#b50,#b50,#b50,#b50,#b50,#b50,#b50,#b40,#b30,#b10,#af0,#ad0,#aa0,#a70,#a30,#9f0,#9a0,#950,#920,#8e0,#8b0,#870,#830,#7f0,#7c0,#780,#740,#700,#6c0,#6a0,#670,#640,#610,#5e0,#5b0,#570,#530,#4f0,#4c0,#490,#470,#440,#410,#3c0,#3a0,#380,#360,#340,#330,#310,#2f0,#2e0,#2c0,#2a0,#290,#280,#270,#260,#260,#250,#240,#240,#230,#220,#220,#210,#210,#210,#200,#200,#1f0,#1f0,#1f0,#1e0,#1e0,#1e0,#1d0,#1d0)"></i><i style="background:linear-gradient(90deg,#000,#000,#000,#010,#020,#040,#050,#070,#090,#0b0,#0c0,#0d0,#0e0,#100,#110,#120,#140,#160,#180,#1a0,#1c0,#1e0,#200,#220,#240,#260,#270,#2b0,#2f0,#330,#350,#370,#390,#3c0,#400,#430,#470,#4a0,#4e0,#530,#580,#5e0,#640,#690,#6c0,#6e0,#6f0,#6f0,#700,#700,#710,#710,#710,#710,#710,#720,#720,#720,#720,#730,#730,#730,#730,#730,#730,#730,#730,#730,#730,#740,#740,#740,#750,#760,#770,#780,#790,#7a0,#7b0,#7d0,#7e0,#7f0,#810,#820,#830,#840,#850,#860,#870,#880,#8a0,#8b0,#8c0,#8d0,#8e0,#8f0,#900,#920,#930,#940,#950,#970,#990,#9b0,#9d0,#9f0,#a00,#a20,#a40,#a50,#a70,#a80,#a90,#ab0,#ad0,#af0,#b10,#b20,#b40,#b50,#b60,#b70,#b70,#b70,#b80,#b80,#b80,#b80,#b80,#b90,#b80,#b80,#b80,#b70,#b60,#b50,#b30,#b00,#ae0,#ab0,#a60,#a20,#9d0,#980,#930,#900,#8c0,#890,#850,#810,#7d0,#790,#760,#720,#6e0,#6b0,#680,#650,#620,#5f0,#5c0,#580,#540,#500,#4d0,#4a0,#470,#440,#410,#3d0,#3a0,#380,#360,#340,#320,#310,#2f0,#2d0,#2c0,#2a0,#290,#280,#270,#260,#250,#250,#240,#230,#230,#220,#220,#210,#210,#200,#200,#1f0,#1f0,#1e0,#1e0,#1e0,#1d0,#1d0,#1c0,#1c0)"></i><i style="background:linear-gradient(90deg,#000,#000,#000,#000,#010,#030,#050,#060,#080,#0a0,#0b0,#0c0,#0e0,#0f0,#110,#120,#140,#160,#180,#1a0,#1c0,#1e0,#200,#220,#240,#260,#290,#2d0,#310,#340,#360,#380,#3a0,#3d0,#410,#450,#480,#4c0,#510,#550,#5b0,#630,#690,#6e0,#6f0,#700,#710,#710,#720,#720,#730,#730,#730,#730,#740,#740,#740,#740,#740,#750,#750,#750,#750,#750,#750,#760,#750,#750,#760,#760,#760,#760,#770,#780,#790,#7a0,#7b0,#7c0,#7d0,#7f0,#800,#810,#830,#840,#850,#860,#870,#880,#890,#8a0,#8b0,#8c0,#8d0,#8e0,#900,#910,#920,#930,#940,#960,#980,#9a0,#9c0,#9e0,#9f0,#a10,#a30,#a40,#a60,#a70,#a90,#ab0,#ad0,#ae0,#b00,#b20,#b40,#b60,#b70,#b80,#b90,#ba0,#ba0,#ba0,#bb0,#bb0,#bb0,#bb0,#bc0,#bc0,#bc0,#bb0,#bb0,#ba0,#b90,#b80,#b60,#b40,#b10,#ae0,#aa0,#a50,#a00,#9b0,#950,#920,#8e0,#8a0,#870,#830,#7f0,#7b0,#770,#730,#6f0,#6c0,#690,#660,#630,#600,#5d0,#590,#550,#510,#4d0,#4a0,#470,#450,#420,#3d0,#3a0,#380,#360,#340,#320,#300,#2f0,#2d0,#2c0,#2a0,#280,#270,#270,#260,#250,#240,#240,#230,#220,#220,#210,#210,#200,#200,#1f0,#1f0,#1e0,#1e0,#1e0,#1d0,#1d0,#1c0,#1c0,#1b0)"></i><i style="background:linear-gradient(90deg,#000,#000,#000,#000,#010,#030,#040,#060,#070,#090,#0b0,#0c0,#0d0,#0f0,#100,#120,#140,#160,#180,#1a0,#1c0,#1e0,#210,#230,#250,#270,#2a0,#2f0,#330,#350,#370,#390,#3b0,#3f0,#430,#460,#4a0,#4e0,#530,#580,#600,#680,#6e0,#700,#710,#720,#730,#730,#740,#740,#750,#750,#750,#750,#760,#760,#760,#760,#770,#770,#770,#770,#770,#780,#780,#780,#780,#780,#780,#780,#780,#790,#790,#7a0,#7b0,#7c0,#7d0,#7e0,#800,#810,#820,#830,#840,#860,#870,#880,#890,#8a0,#8b0,#8c0,#8d0,#8e0,#8f0,#900,#910,#920,#940,#950,#960,#980,#9a0,#9c0,#9e0,#a00,#a20,#a40,#a50,#a70,#a80,#aa0,#ac0,#ae0,#b00,#b20,#b40,#b50,#b70,#b90,#ba0,#bb0,#bc0,#bd0,#bd0,#bd0,#be0,#be0,#bf0,#bf0,#bf0,#bf0,#bf0,#bf0,#be0,#be0,#bd0,#bc0,#ba0,#b70,#b50,#b10,#ae0,#a80,#a40,#9e0,#980,#940,#900,#8c0,#880,#840,#800,#7c0,#780,#740,#700,#6d0,#6a0,#670,#640,#600,#5d0,#5a0,#550,#510,#4e0,#4b0,#480,#450,#420,#3e0,#3a0,#380,#360,#340,#320,#300,#2f0,#2d0,#2b0,#2a0,#280,#270,#260,#260,#250,#240,#230,#230,#220,#210,#210,#200,#200,#1f0,#1f0,#1e0,#1e0,#1d0,#1d0,#1c0,#1c0,#1c0,#1b0,#1b0)"></i><i style="background:linear-gradient(90deg,#000,#000,#000,#000,#010,#020,#030,#050,#060,#080,#0a0,#0b0,#0d0,#0f0,#100,#120,#140,#160,#180,#1a0,#1c0,#1f0,#210,#230,#250,#280,#2c0,#310,#340,#360,#380,#3a0,#3d0,#410,#440,#480,#4c0,#510,#550,#5a0,#640,#6e0,#700,#710,#730,#740,#750,#750,#760,#760,#770,#770,#770,#780,#780,#780,#780,#790,#790,#790,#790,#790,#790,#7a0,#7a0,#7a0,#7a0,#7a0,#7a0,#7a0,#7a0,#7b0,#7b0,#7c0,#7d0,#7e0,#7f0,#800,#810,#830,#840,#850,#860,#870,#880,#8a0,#8a0,#8b0,#8c0,#8d0,#8e0,#8f0,#900,#920,#930,#940,#950,#970,#990,#9b0,#9d0,#9f0,#a10,#a30,#a40,#a60,#a80,#a90,#ab0,#ad0,#af0,#b10,#b30,#b50,#b70,#b90,#bb0,#bc0,#bd0,#bf0,#c00,#c10,#c20,#c20,#c20,#c30,#c30,#c30,#c40,#c40,#c40,#c30,#c30,#c20,#c10,#c00,#bd0,#bb0,#b90,#b50,#b10,#ad0,#a70,#a10,#9b0,#960,#920,#8e0,#8a0,#860,#820,#7e0,#7a0,#760,#720,#6e0,#6b0,#680,#640,#610,#5e0,#5b0,#560,#520,#4e0,#4b0,#480,#450,#430,#3e0,#3b0,#380,#360,#340,#320,#300,#2e0,#2d0,#2b0,#2a0,#280,#270,#260,#250,#250,#240,#230,#220,#220,#210,#200,#200,#1f0,#1f0,#1e0,#1e0,#1d0,#1d0,#1c0,#1c0,#1b0,#1b0,#1a0,#1a0)"></i><i style="background:linear-gradient(90deg,#000,#000,#000,#000,#000,#010,#020,#040,#060,#070,#090,#0b0,#0d0,#0e0,#100,#120,#130,#160,#180,#1a0,#1d0,#1f0,#220,#240,#260,#290,#2f0,#330,#350,#370,#390,#3b0,#3f0,#430,#450,#4a0,#4e0,#530,#570,#5f0,#690,#6f0,#710,#730,#740,#760,#770,#770,#780,#780,#790,#790,#790,#7a0,#7a0,#7a0,#7a0,#7b0,#7b0,#7b0,#7b0,#7b0,#7c0,#7c0,#7c0,#7c0,#7c0,#7c0,#7c0,#7c0,#7c0,#7d0,#7d0,#7e0,#7f0,#800,#810,#830,#840,#850,#860,#870,#880,#890,#8a0,#8b0,#8c0,#8d0,#8e0,#8f0,#900,#910,#920,#930,#940,#950,#970,#990,#9c0,#9e0,#a00,#a20,#a40,#a50,#a70,#a90,#ab0,#ad0,#af0,#b00,#b20,#b40,#b60,#b80,#ba0,#bc0,#be0,#c00,#c20,#c40,#c50,#c50,#c60,#c60,#c70,#c70,#c80,#c80,#c80,#c80,#c80,#c80,#c70,#c70,#c60,#c40,#c20,#c00,#bd0,#ba0,#b60,#b10,#ac0,#a50,#9f0,#990,#940,#900,#8c0,#880,#840,#7f0,#7b0,#770,#730,#6f0,#6c0,#680,#650,#620,#5f0,#5b0,#570,#530,#4f0,#4c0,#480,#450,#430,#3f0,#3b0,#380,#360,#340,#310,#300,#2e0,#2d0,#2b0,#290,#280,#270,#260,#250,#240,#230,#230,#220,#210,#210,#200,#1f0,#1f0,#1e0,#1e0,#1d0,#1d0,#1c0,#1c0,#1b0,#1b0,#1a0,#1a0,#190)"></i><i style="background:linear-gradient(90deg,#000,#000,#000,#000,#000,#000,#010,#030,#050,#070,#080,#0a0,#0c0,#0e0,#0f0,#110,#130,#150,#180,#1a0,#1d0,#200,#220,#250,#270,#2c0,#310,#340,#360,#380,#3a0,#3d0,#410,#440,#470,#4c0,#510,#550,#590,#630,#6c0,#700,#730,#740,#760,#770,#780,#790,#7a0,#7a0,#7b0,#7b0,#7b0,#7c0,#7c0,#7c0,#7d0,#7d0,#7d0,#7d0,#7d0,#7e0,#7e0,#7e0,#7e0,#7e0,#7e0,#7e0,#7e0,#7e0,#7e0,#7f0,#7f0,#800,#810,#820,#840,#850,#860,#870,#880,#890,#8a0,#8b0,#8c0,#8d0,#8e0,#8f0,#900,#910,#920,#930,#940,#950,#960,#980,#9a0,#9c0,#9f0,#a10,#a30,#a50,#a60,#a80,#aa0,#ac0,#ae0,#b00,#b20,#b40,#b60,#b80,#ba0,#bc0,#bd0,#c00,#c20,#c40,#c60,#c80,#c90,#ca0,#ca0,#cb0,#cb0,#cc0,#cc0,#cc0,#cc0,#cc0,#cc0,#cc0,#cc0,#cb0,#ca0,#c90,#c70,#c40,#c20,#bf0,#ba0,#b50,#af0,#a80,#a20,#9c0,#960,#920,#8e0,#8a0,#850,#810,#7d0,#790,#750,#710,#6c0,#690,#660,#630,#5f0,#5c0,#570,#530,#4f0,#4c0,#490,#450,#430,#3f0,#3b0,#380,#360,#340,#310,#300,#2e0,#2c0,#2b0,#290,#280,#270,#260,#250,#240,#230,#220,#220,#210,#200,#1f0,#1f0,#1e0,#1e0,#1d0,#1c0,#1c0,#1b0,#1b0,#1a0,#1a0,#190,#190,#190)"></i><i style="background:linear-gradient(90deg,#000,#000,#000,#000,#000,#000,#000,#020,#040,#060,#080,#0a0,#0b0,#0d0,#0f0,#110,#130,#150,#180,#1b0,#1d0,#200,#230,#260,#290,#2f0,#330,#350,#370,#390,#3b0,#3f0,#430,#450,#490,#4e0,#530,#570,#5c0,#660,#6f0,#710,#740,#760,#780,#790,#7a0,#7b0,#7c0,#7c0,#7d0,#7d0,#7d0,#7e0,#7e0,#7e0,#7f0,#7f0,#7f0,#7f0,#7f0,#800,#800,#800,#800,#800,#800,#800,#800,#800,#800,#810,#820,#820,#840,#850,#860,#870,#880,#8a0,#8b0,#8c0,#8c0,#8d0,#8e0,#8f0,#900,#910,#920,#920,#930,#940,#950,#970,#990,#9b0,#9d0,#a00,#a20,#a40,#a60,#a80,#a90,#ab0,#ad0,#af0,#b10,#b30,#b50,#b70,#b90,#bb0,#bd0,#c00,#c20,#c50,#c70,#c90,#cb0,#cc0,#cd0,#ce0,#cf0,#cf0,#d00,#d00,#d00,#d00,#d10,#d10,#d10,#d10,#d00,#cf0,#cf0,#cd0,#cb0,#c90,#c60,#c30,#bf0,#b90,#b30,#ad0,#a60,#a00,#990,#940,#900,#8c0,#870,#840,#7f0,#7b0,#760,#720,#6d0,#6a0,#670,#630,#600,#5c0,#580,#540,#4f0,#4c0,#490,#460,#430,#3f0,#3b0,#390,#360,#330,#310,#2f0,#2e0,#2c0,#2a0,#290,#270,#260,#250,#240,#240,#230,#220,#210,#200,#200,#1f0,#1e0,#1e0,#1d0,#1c0,#1c0,#1b0,#1b0,#1a0,#1a0,#190,#190,#180,#180)"></i><i style="background:linear-gradient(90deg,#000,#000,#000,#000,#000,#000,#000,#010,#030,#050,#070,#090,#0b0,#0d0,#0f0,#110,#130,#150,#180,#1b0,#1d0,#210,#240,#270,#2c0,#320,#340,#360,#380,#3a0,#3d0,#400,#440,#470,#4c0,#510,#540,#580,#600,#6a0,#700,#730,#750,#770,#790,#7b0,#7c0,#7d0,#7e0,#7e0,#7f0,#7f0,#800,#800,#800,#810,#810,#810,#810,#810,#810,#820,#820,#820,#820,#820,#820,#820,#820,#830,#830,#830,#840,#850,#860,#880,#890,#8a0,#8b0,#8c0,#8d0,#8e0,#8f0,#8f0,#900,#910,#920,#930,#930,#940,#950,#960,#980,#9a0,#9c0,#9e0,#a10,#a30,#a50,#a70,#a90,#ab0,#ad0,#af0,#b10,#b30,#b50,#b70,#b90,#bb0,#bd0,#bf0,#c20,#c40,#c70,#c90,#cb0,#cd0,#cf0,#d10,#d10,#d30,#d40,#d40,#d40,#d50,#d50,#d60,#d60,#d60,#d60,#d60,#d50,#d40,#d30,#d30,#d00,#ce0,#cb0,#c80,#c40,#bc0,#b70,#b10,#ab0,#a40,#9d0,#970,#920,#8e0,#890,#850,#800,#7c0,#780,#740,#6f0,#6b0,#680,#640,#610,#5d0,#590,#540,#500,#4d0,#490,#470,#440,#400,#3b0,#390,#360,#330,#310,#2f0,#2e0,#2c0,#2a0,#280,#270,#260,#250,#240,#230,#220,#210,#210,#200,#1f0,#1e0,#1e0,#1d0,#1c0,#1c0,#1b0,#1a0,#1a0,#190,#190,#190,#180,#180,#170)"></i><i style="background:linear-gradient(90deg,#000,#000,#000,#000,#000,#000,#000,#000,#020,#040,#060,#080,#0a0,#0c0,#0e0,#100,#130,#150,#180,#1b0,#1e0,#210,#240,#280,#2f0,#330,#350,#370,#390,#3b0,#3e0,#420,#450,#490,#4e0,#520,#560,#5a0,#630,#6c0,#710,#740,#770,#790,#7b0,#7d0,#7e0,#7f0,#800,#800,#810,#810,#810,#820,#830,#830,#840,#840,#840,#840,#850,#850,#850,#850,#850,#850,#850,#850,#850,#860,#860,#870,#870,#880,#890,#8a0,#8b0,#8c0,#8d0,#8e0,#8f0,#900,#910,#920,#920,#930,#940,#950,#950,#970,#980,#990,#9b0,#9d0,#a00,#a20,#a40,#a60,#a80,#ab0,#ac0,#ae0,#b00,#b20,#b40,#b60,#b80,#ba0,#bc0,#be0,#c10,#c40,#c60,#c90,#cb0,#ce0,#d00,#d30,#d50,#d60,#d70,#d80,#d80,#d90,#d90,#da0,#da0,#db0,#db0,#db0,#db0,#db0,#da0,#da0,#d90,#d70,#d50,#d30,#d00,#cd0,#c80,#c30,#bb0,#b50,#af0,#a80,#a10,#9a0,#940,#900,#8c0,#870,#830,#7e0,#7a0,#750,#710,#6c0,#690,#650,#610,#5e0,#5a0,#550,#510,#4d0,#4a0,#470,#440,#400,#3b0,#390,#360,#330,#310,#2f0,#2d0,#2c0,#2a0,#280,#270,#260,#250,#240,#230,#220,#210,#200,#1f0,#1e0,#1e0,#1d0,#1c0,#1b0,#1b0,#1a0,#1a0,#190,#190,#180,#180,#170,#170,#170)"></i><i style="background:linear-gradient(90deg,#000,#000,#000,#000,#000,#000,#000,#000,#010,#030,#050,#070,#090,#0c0,#0e0,#100,#120,#150,#180,#1b0,#1e0,#220,#250,#2b0,#300,#340,#360,#380,#3a0,#3c0,#400,#430,#460,#4b0,#500,#540,#580,#5d0,#660,#6e0,#720,#760,#790,#7b0,#7d0,#7f0,#800,#810,#820,#820,#830,#840,#850,#850,#860,#860,#870,#870,#870,#880,#880,#880,#880,#880,#880,#880,#880,#890,#890,#890,#890,#8a0,#8a0,#8b0,#8c0,#8d0,#8e0,#8f0,#900,#910,#910,#920,#930,#940,#950,#950,#960,#970,#990,#9a0,#9b0,#9d0,#9f0,#a10,#a30,#a50,#a70,#a90,#ac0,#ae0,#b00,#b20,#b40,#b60,#b80,#ba0,#bc0,#bd0,#c10,#c30,#c60,#c90,#cb0,#ce0,#d00,#d30,#d50,#d70,#d90,#db0,#dc0,#dd0,#dd0,#de0,#de0,#df0,#df0,#e00,#e00,#e00,#e10,#e00,#e00,#df0,#de0,#dd0,#db0,#d80,#d60,#d30,#ce0,#c80,#c10,#b90,#b30,#ac0,#a50,#9e0,#980,#920,#8e0,#890,#850,#800,#7b0,#770,#720,#6d0,#690,#660,#620,#5e0,#5b0,#560,#520,#4d0,#4a0,#470,#440,#410,#3c0,#390,#360,#330,#310,#2f0,#2d0,#2b0,#2a0,#280,#270,#250,#240,#230,#220,#210,#200,#1f0,#1f0,#1e0,#1d0,#1c0,#1b0,#1b0,#1a0,#190,#190,#180,#180,#170,#170,#170,#160,#160)"></i><i style="background:linear-gradient(90deg,#000,#000,#000,#000,#000,#000,#000,#000,#000,#020,#040,#060,#080,#0b0,#0d0,#100,#120,#150,#180,#1b0,#1e0,#220,#260,#2b0,#320,#350,#370,#390,#3b0,#3d0,#410,#440,#480,#4e0,#520,#560,#590,#600,#680,#700,#740,#770,#7b0,#7d0,#7f0,#810,#830,#840,#850,#860,#870,#880,#880,#890,#890,#8a0,#8a0,#8a0,#8b0,#8b0,#8b0,#8b0,#8b0,#8b0,#8b0,#8c0,#8c0,#8c0,#8c0,#8c0,#8d0,#8d0,#8e0,#8e0,#8f0,#900,#910,#920,#920,#930,#940,#950,#950,#960,#970,#980,#9a0,#9b0,#9c0,#9e0,#9f0,#a10,#a30,#a50,#a70,#a90,#ab0,#ad0,#b00,#b20,#b40,#b60,#b80,#ba0,#bc0,#bd0,#c00,#c30,#c60,#c80,#cb0,#cd0,#d00,#d30,#d50,#d70,#da0,#dc0,#de0,#e00,#e10,#e20,#e20,#e30,#e30,#e40,#e40,#e40,#e50,#e50,#e50,#e60,#e50,#e40,#e30,#e20,#e00,#dd0,#db0,#d80,#d40,#ce0,#c60,#bd0,#b70,#b00,#a90,#a20,#9c0,#950,#900,#8c0,#870,#820,#7d0,#780,#730,#6e0,#6a0,#670,#630,#5f0,#5b0,#570,#520,#4e0,#4a0,#470,#440,#410,#3c0,#390,#360,#330,#300,#2f0,#2d0,#2b0,#290,#280,#260,#250,#240,#230,#220,#210,#200,#1f0,#1e0,#1d0,#1c0,#1b0,#1b0,#1a0,#190,#190,#180,#180,#170,#170,#160,#160,#160,#150)"></i><i style="background:linear-gradient(90deg,#000,#000,#000,#000,#000,#000,#000,#000,#000,#000,#030,#050,#070,#0a0,#0d0,#0f0,#120,#150,#180,#1b0,#1f0,#220,#260,#2c0,#330,#350,#370,#390,#3b0,#3f0,#430,#450,#4b0,#510,#540,#570,#5c0,#630,#6b0,#710,#760,#7a0,#7d0,#800,#830,#850,#860,#880,#890,#8a0,#8a0,#8b0,#8c0,#8c0,#8d0,#8d0,#8d0,#8e0,#8e0,#8e0,#8e0,#8e0,#8e0,#8e0,#8e0,#8f0,#8f0,#8f0,#8f0,#8f0,#900,#900,#910,#910,#920,#930,#940,#940,#950,#960,#970,#970,#980,#990,#9b0,#9c0,#9d0,#9e0,#a00,#a10,#a30,#a50,#a60,#a90,#ab0,#ad0,#af0,#b10,#b30,#b60,#b80,#ba0,#bc0,#bd0,#c00,#c30,#c60,#c80,#cb0,#ce0,#d00,#d30,#d50,#d70,#da0,#dc0,#df0,#e10,#e30,#e50,#e50,#e70,#e80,#e90,#e90,#ea0,#eb0,#eb0,#ec0,#ec0,#ec0,#ec0,#eb0,#ea0,#e90,#e80,#e50,#e30,#e00,#dd0,#d90,#d40,#cc0,#c40,#bb0,#b40,#ae0,#a70,#a00,#990,#930,#8e0,#890,#850,#7f0,#7a0,#750,#700,#6b0,#670,#640,#600,#5c0,#570,#530,#4e0,#4b0,#480,#440,#410,#3d0,#390,#360,#320,#300,#2f0,#2d0,#2b0,#290,#270,#260,#250,#230,#220,#210,#200,#1f0,#1e0,#1d0,#1c0,#1b0,#1a0,#1a0,#190,#180,#180,#170,#170,#160,#160,#150,#150,#150,#140)"></i><i style="background:linear-gradient(90deg,#000,#000,#000,#000,#000,#000,#000,#000,#000,#000,#010,#040,#060,#090,#0c0,#0f0,#110,#150,#180,#1b0,#1f0,#220,#260,#2d0,#330,#350,#380,#3a0,#3d0,#400,#440,#480,#4e0,#520,#550,#590,#5f0,#660,#6f0,#740,#780,#7c0,#800,#840,#860,#890,#8b0,#8c0,#8d0,#8e0,#8e0,#8f0,#8f0,#900,#900,#900,#910,#910,#910,#910,#910,#910,#910,#910,#920,#920,#920,#920,#920,#930,#930,#930,#940,#940,#950,#960,#970,#970,#980,#990,#9a0,#9b0,#9c0,#9d0,#9e0,#9f0,#a10,#a20,#a30,#a50,#a70,#a80,#aa0,#ad0,#af0,#b10,#b30,#b50,#b70,#b90,#bb0,#bd0,#c00,#c30,#c50,#c80,#cb0,#cd0,#d00,#d30,#d50,#d70,#da0,#dc0,#de0,#e10,#e30,#e50,#e90,#eb0,#ed0,#ee0,#ef0,#ef0,#f00,#f00,#f10,#f10,#f20,#f20,#f20,#f20,#f10,#f00,#ef0,#ee0,#eb0,#e80,#e40,#e10,#dd0,#d80,#d00,#c80,#c00,#b80,#b20,#ac0,#a40,#9d0,#950,#910,#8c0,#870,#800,#7c0,#770,#710,#6c0,#680,#640,#600,#5c0,#580,#530,#4f0,#4b0,#480,#450,#420,#3d0,#390,#350,#320,#300,#2e0,#2d0,#2b0,#290,#270,#250,#240,#230,#210,#200,#1f0,#1e0,#1d0,#1c0,#1b0,#1a0,#1a0,#190,#180,#170,#170,#160,#160,#150,#150,#150,#140,#140,#130)"></i><i style="background:linear-gradient(90deg,#000,#000,#000,#000,#000,#000,#000,#000,#000,#000,#000,#020,#050,#080,#0b0,#0e0,#110,#140,#170,#1b0,#1f0,#220,#260,#2d0,#330,#360,#380,#3b0,#3e0,#430,#450,#4b0,#510,#540,#570,#5c0,#620,#6a0,#710,#770,#7c0,#800,#840,#880,#8b0,#8d0,#8f0,#900,#910,#910,#920,#920,#930,#930,#930,#940,#940,#940,#940,#940,#940,#940,#940,#940,#950,#950,#950,#950,#960,#960,#960,#970,#970,#980,#980,#990,#990,#9a0,#9b0,#9c0,#9d0,#9e0,#9f0,#a00,#a10,#a30,#a40,#a50,#a70,#a80,#ab0,#ac0,#ae0,#b10,#b30,#b50,#b70,#b90,#bb0,#bd0,#c00,#c30,#c50,#c80,#cb0,#ce0,#d00,#d30,#d50,#d70,#d90,#dc0,#de0,#e10,#e30,#e60,#ea0,#ed0,#f00,#f20,#f40,#f50,#f60,#f60,#f60,#f70,#f70,#f70,#f80,#f80,#f80,#f80,#f70,#f70,#f50,#f40,#f10,#ee0,#eb0,#e70,#e20,#dc0,#d60,#cd0,#c40,#bc0,#b50,#af0,#a80,#a10,#9a0,#930,#8e0,#890,#840,#7e0,#780,#730,#6d0,#690,#650,#610,#5d0,#590,#540,#4f0,#4c0,#480,#450,#420,#3d0,#390,#350,#320,#300,#2e0,#2c0,#2a0,#290,#270,#250,#230,#220,#210,#1f0,#1e0,#1d0,#1c0,#1b0,#1a0,#1a0,#190,#180,#170,#170,#160,#150,#150,#150,#140,#130,#130,#120,#120)"></i><i style="background:linear-gradient(90deg,#000,#000,#000,#000,#000,#000,#000,#000,#000,#000,#000,#010,#040,#070,#0a0,#0d0,#100,#130,#170,#1b0,#1f0,#220,#260,#2d0,#340,#360,#390,#3b0,#400,#440,#480,#4d0,#520,#550,#580,#5e0,#650,#6c0,#740,#7a0,#800,#840,#880,#8c0,#8f0,#910,#930,#940,#950,#950,#950,#950,#970,#970,#970,#970,#970,#970,#970,#970,#980,#970,#970,#980,#980,#980,#980,#980,#980,#990,#990,#990,#9a0,#9a0,#9b0,#9c0,#9c0,#9d0,#9e0,#9f0,#a00,#a10,#a20,#a30,#a50,#a60,#a70,#a90,#ab0,#ad0,#af0,#b10,#b30,#b50,#b70,#b90,#bb0,#bd0,#c00,#c30,#c50,#c80,#ca0,#cd0,#d00,#d30,#d50,#d70,#d90,#db0,#de0,#e00,#e30,#e50,#e90,#ed0,#f10,#f40,#f70,#f90,#fb0,#fb0,#fc0,#fc0,#fc0,#fd0,#fe0,#fe0,#ff0,#ff0,#ff0,#ff0,#ff0,#ff0,#fd0,#fb0,#f80,#f50,#f10,#ed0,#e80,#e10,#db0,#d40,#ca0,#c10,#b90,#b20,#ac0,#a50,#9e0,#980,#910,#8c0,#860,#800,#7a0,#740,#6f0,#6a0,#660,#620,#5e0,#590,#550,#500,#4c0,#490,#450,#430,#3e0,#390,#350,#320,#300,#2e0,#2c0,#2a0,#280,#260,#240,#230,#210,#200,#1e0,#1d0,#1c0,#1b0,#1a0,#190,#190,#180,#170,#160,#160,#150,#150,#140,#130,#130,#120,#110,#110,#100)"></i><i style="background:linear-gradient(90deg,#000,#000,#000,#000,#000,#000,#000,#000,#000,#000,#000,#000,#020,#060,#090,#0c0,#100,#130,#170,#1a0,#1f0,#220,#260,#2e0,#340,#370,#3a0,#3d0,#420,#450,#4b0,#500,#530,#570,#5a0,#620,#690,#710,#780,#7e0,#840,#880,#8c0,#900,#940,#950,#970,#980,#990,#990,#9a0,#9a0,#9a0,#9b0,#9b0,#9b0,#9b0,#9b0,#9b0,#9b0,#9b0,#9b0,#9b0,#9b0,#9b0,#9b0,#9b0,#9b0,#9b0,#9b0,#9c0,#9c0,#9d0,#9d0,#9e0,#9f0,#9f0,#a00,#a10,#a20,#a30,#a40,#a50,#a60,#a80,#a90,#ab0,#ad0,#af0,#b10,#b30,#b50,#b70,#b90,#bb0,#bd0,#c00,#c20,#c50,#c80,#ca0,#cd0,#d00,#d30,#d50,#d70,#d90,#db0,#de0,#e00,#e20,#e50,#e80,#ec0,#f00,#f40,#f80,#fa0,#fb0,#fd0,#fd0,#ff0,#ff0,#ff0,#ff0,#ff0,#ff0,#ff0,#ff0,#ff0,#ff0,#ff0,#ff0,#ff0,#ff0,#ff0,#ff0,#fc0,#f70,#f20,#ed0,#e70,#e00,#d80,#cf0,#c60,#bc0,#b60,#b00,#a90,#a20,#9b0,#940,#8f0,#890,#830,#7c0,#760,#700,#6b0,#670,#630,#5f0,#5a0,#550,#510,#4c0,#490,#450,#430,#3e0,#390,#350,#320,#300,#2e0,#2c0,#2a0,#280,#260,#240,#220,#200,#1f0,#1d0,#1c0,#1b0,#1a0,#190,#180,#180,#170,#160,#150,#150,#140,#130,#130,#120,#110,#110,#100,#0f0,#0e0)"></i><i style="background:linear-gradient(90deg,#000,#000,#000,#000,#000,#000,#000,#000,#000,#000,#000,#000,#010,#040,#080,#0c0,#0f0,#130,#170,#1a0,#1e0,#220,#260,#2f0,#340,#380,#3b0,#3f0,#440,#480,#4d0,#520,#550,#580,#5e0,#650,#6d0,#750,#7c0,#830,#880,#8c0,#910,#950,#980,#9a0,#9b0,#9c0,#9d0,#9d0,#9e0,#9e0,#9e0,#9e0,#9f0,#9f0,#9f0,#9f0,#9e0,#9e0,#9e0,#9e0,#9e0,#9e0,#9e0,#9e0,#9e0,#9e0,#9e0,#9e0,#9f0,#9f0,#9f0,#a00,#a10,#a10,#a20,#a30,#a40,#a50,#a60,#a70,#a80,#aa0,#ac0,#ad0,#af0,#b10,#b30,#b50,#b70,#b90,#bb0,#bd0,#c00,#c20,#c50,#c70,#ca0,#cd0,#cf0,#d20,#d40,#d70,#d90,#db0,#dd0,#df0,#e20,#e40,#e70,#ea0,#ee0,#f30,#f70,#fa0,#fb0,#fd0,#fe0,#ff0,#ff0,#ff0,#ff0,#ff0,#ff0,#ff0,#ff0,#ff0,#ff0,#ff0,#ff0,#ff0,#ff0,#ff0,#ff0,#ff0,#ff0,#ff0,#ff0,#f80,#f30,#ec0,#e50,#dd0,#d50,#cc0,#c20,#bb0,#b40,#ae0,#a70,#a00,#990,#920,#8c0,#850,#7e0,#780,#720,#6c0,#680,#640,#5f0,#5b0,#560,#510,#4d0,#490,#450,#430,#3e0,#390,#350,#320,#300,#2e0,#2c0,#2a0,#280,#250,#230,#210,#1f0,#1e0,#1c0,#1b0,#1a0,#190,#180,#170,#170,#160,#150,#140,#130,#130,#120,#110,#110,#100,#0f0,#0e0,#0e0,#0d0)"></i><i style="background:linear-gradient(90deg,#000,#000,#000,#000,#000,#000,#000,#000,#000,#000,#000,#000,#000,#030,#070,#0b0,#0f0,#120,#170,#1a0,#1d0,#220,#260,#2f0,#350,#380,#3b0,#400,#450,#4a0,#4e0,#530,#560,#590,#610,#690,#710,#790,#800,#860,#8c0,#910,#950,#990,#9c0,#9e0,#9f0,#a00,#a10,#a10,#a10,#a20,#a20,#a20,#a20,#a20,#a20,#a20,#a20,#a20,#a10,#a10,#a10,#a10,#a10,#a10,#a10,#a10,#a10,#a10,#a10,#a20,#a20,#a30,#a30,#a40,#a50,#a60,#a70,#a80,#a90,#ab0,#ac0,#ae0,#af0,#b10,#b30,#b50,#b70,#b90,#bb0,#bd0,#c00,#c20,#c50,#c70,#ca0,#cc0,#cf0,#d10,#d40,#d60,#d80,#db0,#dd0,#df0,#e10,#e40,#e50,#ea0,#ed0,#f10,#f50,#f90,#fb0,#fc0,#fd0,#fe0,#ff0,#ff0,#ff0,#ff0,#ff0,#ff0,#ff0,#ff0,#ff0,#ff0,#ff0,#ff0,#ff0,#ff0,#ff0,#ff0,#ff0,#ff0,#ff0,#ff0,#ff0,#ff0,#f80,#f20,#eb0,#e40,#dc0,#d40,#cb0,#c20,#b90,#b30,#ad0,#a50,#9d0,#950,#8f0,#880,#810,#7b0,#740,#6d0,#690,#650,#600,#5c0,#570,#520,#4d0,#4a0,#460,#430,#3e0,#390,#350,#320,#300,#2d0,#2b0,#290,#270,#250,#230,#200,#1e0,#1d0,#1c0,#1a0,#190,#180,#170,#160,#160,#150,#140,#130,#120,#120,#110,#100,#0f0,#0f0,#0e0,#0d0,#0c0,#0b0)"></i><i style="background:linear-gradient(90deg,#000,#000,#000,#000,#000,#000,#000,#000,#000,#000,#000,#000,#000,#010,#050,#090,#0e0,#120,#160,#1a0,#1d0,#220,#270,#320,#360,#390,#3d0,#430,#470,#4c0,#510,#550,#580,#5e0,#650,#6d0,#760,#7e0,#850,#8b0,#900,#950,#990,#9d0,#9f0,#a20,#a30,#a40,#a40,#a50,#a50,#a60,#a60,#a60,#a60,#a60,#a60,#a60,#a50,#a50,#a50,#a40,#a40,#a40,#a40,#a40,#a40,#a40,#a40,#a40,#a40,#a40,#a50,#a50,#a60,#a70,#a80,#a90,#a90,#ab0,#ad0,#ae0,#b00,#b20,#b30,#b50,#b70,#b90,#bb0,#bd0,#c00,#c20,#c40,#c70,#c90,#cc0,#ce0,#d10,#d40,#d60,#d80,#da0,#dc0,#df0,#e10,#e30,#e50,#e90,#ec0,#f00,#f40,#f80,#fa0,#fc0,#fd0,#fe0,#ff0,#ff0,#ff0,#ff0,#ff0,#ff0,#ff0,#ff0,#ff0,#ff0,#ff0,#ff0,#ff0,#ff0,#ff0,#ff0,#ff0,#ff0,#ff0,#ff0,#ff0,#ff0,#ff0,#ff0,#ff0,#f90,#f20,#eb0,#e30,#db0,#d30,#ca0,#c10,#b80,#b20,#ab0,#a20,#9b0,#930,#8c0,#850,#7d0,#770,#700,#6a0,#660,#610,#5c0,#570,#520,#4e0,#4a0,#460,#430,#3e0,#390,#350,#320,#2f0,#2d0,#2b0,#290,#270,#240,#220,#200,#1e0,#1c0,#1b0,#1a0,#190,#170,#160,#150,#150,#140,#130,#120,#110,#100,#100,#0f0,#0e0,#0d0,#0c0,#0b0,#0b0,#0a0)"></i><i style="background:linear-gradient(90deg,#000,#000,#000,#000,#000,#000,#000,#000,#000,#000,#000,#000,#000,#000,#040,#080,#0d0,#110,#160,#1a0,#1d0,#220,#270,#330,#370,#3a0,#3f0,#440,#490,#4e0,#530,#560,#5a0,#620,#6a0,#720,#7b0,#830,#890,#8f0,#950,#9a0,#9d0,#a10,#a40,#a60,#a70,#a80,#a80,#a90,#a90,#a90,#a90,#a90,#aa0,#aa0,#a90,#a90,#a90,#a80,#a80,#a70,#a70,#a70,#a70,#a70,#a70,#a60,#a60,#a70,#a70,#a70,#a80,#a80,#a90,#aa0,#ab0,#ac0,#ad0,#af0,#b00,#b20,#b40,#b50,#b70,#b90,#bb0,#bd0,#c00,#c20,#c50,#c70,#c90,#cc0,#ce0,#d00,#d30,#d50,#d70,#da0,#dc0,#de0,#e00,#e20,#e50,#e80,#eb0,#ef0,#f20,#f60,#fa0,#fb0,#fc0,#fe0,#ff0,#ff0,#ff0,#ff0,#ff0,#ff0,#ff0,#ff0,#ff0,#ff0,#ff0,#ff0,#ff0,#ff0,#ff0,#ff0,#ff0,#ff0,#ff0,#ff0,#ff0,#ff0,#ff0,#ff0,#ff0,#ff0,#ff0,#ff0,#f90,#f20,#ea0,#e20,#db0,#d50,#ca0,#bf0,#b80,#b00,#a80,#a00,#980,#900,#890,#800,#7a0,#720,#6c0,#670,#620,#5d0,#580,#530,#4e0,#4a0,#470,#430,#3f0,#390,#350,#310,#2f0,#2d0,#2b0,#290,#270,#240,#220,#1f0,#1d0,#1c0,#1a0,#190,#180,#170,#150,#140,#130,#120,#120,#110,#100,#0f0,#0e0,#0d0,#0d0,#0c0,#0b0,#0a0,#090,#080)"></i><i style="background:linear-gradient(90deg,#000,#000,#000,#000,#000,#000,#000,#000,#000,#000,#000,#000,#000,#000,#020,#070,#0c0,#110,#160,#190,#1d0,#220,#270,#340,#380,#3c0,#410,#470,#4c0,#510,#540,#580,#5e0,#660,#700,#770,#800,#870,#8d0,#940,#990,#9e0,#a20,#a50,#a80,#ab0,#ab0,#ac0,#ad0,#ad0,#ad0,#ae0,#ae0,#ae0,#ae0,#ae0,#ad0,#ad0,#ad0,#ac0,#ac0,#ab0,#aa0,#ab0,#aa0,#aa0,#a90,#a90,#a90,#a90,#aa0,#aa0,#ab0,#ab0,#ac0,#ad0,#ae0,#b00,#b10,#b20,#b40,#b60,#b70,#b90,#bb0,#bd0,#bf0,#c20,#c50,#c70,#c90,#cc0,#ce0,#d00,#d30,#d50,#d70,#d90,#db0,#dd0,#e00,#e20,#e40,#e70,#ea0,#ed0,#f10,#f40,#f80,#fb0,#fc0,#fd0,#fe0,#ff0,#ff0,#ff0,#ff0,#ff0,#ff0,#ff0,#ff0,#ff0,#ff0,#ff0,#ff0,#ff0,#ff0,#ff0,#ff0,#ff0,#ff0,#ff0,#ff0,#ff0,#ff0,#ff0,#ff0,#ff0,#ff0,#ff0,#ff0,#ff0,#ff0,#f80,#f20,#eb0,#e20,#db0,#d40,#ca0,#c10,#b70,#af0,#a60,#9d0,#940,#8d0,#850,#7d0,#760,#6e0,#690,#630,#5e0,#580,#530,#4e0,#4b0,#470,#430,#3f0,#390,#350,#310,#2f0,#2d0,#2b0,#290,#260,#240,#210,#1f0,#1d0,#1b0,#1a0,#180,#170,#160,#150,#130,#120,#110,#100,#0f0,#0f0,#0e0,#0d0,#0c0,#0b0,#0b0,#0a0,#090,#070,#060)"></i><i style="background:linear-gradient(90deg,#000,#000,#000,#000,#000,#000,#000,#000,#000,#000,#000,#000,#000,#000,#000,#050,#0b0,#100,#150,#190,#1d0,#220,#280,#340,#390,#3d0,#430,#480,#4e0,#520,#560,#590,#630,#6b0,#740,#7c0,#840,#8b0,#920,#980,#9e0,#a20,#a60,#ab0,#ad0,#af0,#b00,#b00,#b10,#b10,#b10,#b20,#b20,#b20,#b20,#b10,#b10,#b10,#b00,#b00,#af0,#af0,#ae0,#ae0,#ad0,#ad0,#ad0,#ad0,#ad0,#ad0,#ad0,#ad0,#ae0,#af0,#b00,#b10,#b20,#b30,#b50,#b60,#b80,#b90,#bb0,#bd0,#bf0,#c10,#c40,#c70,#c90,#cc0,#ce0,#d00,#d20,#d40,#d70,#d90,#db0,#dd0,#df0,#e10,#e40,#e60,#e90,#ec0,#ef0,#f30,#f60,#fa0,#fb0,#fc0,#fe0,#ff0,#ff0,#ff0,#ff0,#ff0,#ff0,#ff0,#ff0,#ff0,#ff0,#ff0,#ff0,#ff0,#ff0,#ff0,#ff0,#ff0,#ff0,#ff0,#ff0,#ff0,#ff0,#ff0,#ff0,#ff0,#ff0,#ff0,#ff0,#ff0,#ff0,#ff0,#ff0,#ff0,#fc0,#f40,#eb0,#e20,#dc0,#d50,#c90,#be0,#b60,#ae0,#a40,#9a0,#910,#8a0,#810,#790,#710,#6a0,#650,#5f0,#590,#540,#4f0,#4b0,#470,#440,#3f0,#390,#350,#310,#2f0,#2d0,#2b0,#280,#260,#230,#210,#1e0,#1c0,#1b0,#190,#180,#160,#150,#140,#120,#110,#100,#0f0,#0e0,#0d0,#0d0,#0c0,#0b0,#0a0,#090,#080,#070,#060,#040)"></i><i style="background:linear-gradient(90deg,#000,#000,#000,#000,#000,#000,#000,#000,#000,#000,#000,#000,#000,#000,#000,#040,#0a0,#100,#150,#190,#1d0,#230,#2b0,#350,#390,#3f0,#450,#4a0,#500,#540,#580,#5e0,#670,#710,#790,#800,#890,#900,#970,#9d0,#a30,#a70,#ab0,#af0,#b10,#b30,#b40,#b50,#b50,#b50,#b50,#b50,#b60,#b60,#b50,#b50,#b50,#b50,#b40,#b30,#b30,#b20,#b20,#b10,#b10,#b10,#b00,#b00,#b00,#b00,#b00,#b10,#b10,#b20,#b30,#b40,#b50,#b70,#b80,#ba0,#bb0,#bd0,#bf0,#c10,#c30,#c60,#c80,#cb0,#ce0,#d10,#d30,#d50,#d60,#d80,#da0,#dc0,#df0,#e10,#e30,#e50,#e80,#eb0,#ee0,#f10,#f50,#f80,#fb0,#fc0,#fd0,#fe0,#ff0,#ff0,#ff0,#ff0,#ff0,#ff0,#ff0,#ff0,#ff0,#ff0,#ff0,#ff0,#ff0,#ff0,#ff0,#ff0,#ff0,#ff0,#ff0,#ff0,#ff0,#ff0,#ff0,#ff0,#ff0,#ff0,#ff0,#ff0,#ff0,#ff0,#ff0,#ff0,#ff0,#ff0,#ff0,#fd0,#f60,#ee0,#e40,#dd0,#d50,#c90,#bc0,#b50,#ac0,#a10,#980,#8f0,#860,#7d0,#750,#6d0,#670,#600,#580,#540,#4f0,#4b0,#480,#440,#3f0,#3a0,#350,#310,#2f0,#2d0,#2a0,#280,#260,#230,#210,#1e0,#1c0,#1b0,#190,#170,#160,#140,#130,#120,#100,#0f0,#0e0,#0d0,#0c0,#0b0,#0a0,#090,#080,#070,#060,#050,#040,#030)"></i><i style="background:linear-gradient(90deg,#000,#000,#000,#000,#000,#000,#000,#000,#000,#000,#000,#000,#000,#000,#000,#020,#080,#0f0,#150,#190,#1d0,#230,#2c0,#360,#3a0,#410,#470,#4c0,#510,#550,#590,#620,#6b0,#750,#7e0,#860,#8d0,#940,#9c0,#a20,#a80,#ad0,#b00,#b30,#b60,#b80,#b80,#b90,#b90,#b90,#b90,#b90,#b90,#b90,#b90,#b90,#b90,#b80,#b80,#b70,#b60,#b60,#b50,#b50,#b50,#b40,#b40,#b40,#b30,#b30,#b40,#b40,#b40,#b50,#b60,#b70,#b90,#ba0,#bc0,#bd0,#bf0,#c10,#c30,#c50,#c70,#ca0,#cc0,#cf0,#d30,#d50,#d70,#d80,#da0,#dc0,#de0,#e00,#e20,#e40,#e80,#ea0,#ed0,#f00,#f30,#f70,#f90,#fb0,#fc0,#fe0,#ff0,#ff0,#ff0,#ff0,#ff0,#ff0,#ff0,#ff0,#ff0,#ff0,#ff0,#ff0,#ff0,#ff0,#ff0,#ff0,#ff0,#ff0,#ff0,#ff0,#ff0,#ff0,#ff0,#ff0,#ff0,#ff0,#ff0,#ff0,#ff0,#ff0,#ff0,#ff0,#ff0,#ff0,#ff0,#ff0,#ff0,#ff0,#ff0,#f90,#f10,#e70,#dd0,#d40,#c80,#bb0,#b20,#a70,#9e0,#950,#8b0,#820,#790,#710,#690,#610,#590,#540,#4f0,#4c0,#480,#440,#3f0,#3a0,#350,#310,#2f0,#2d0,#2a0,#280,#250,#230,#200,#1e0,#1c0,#1a0,#180,#170,#150,#130,#120,#110,#0f0,#0e0,#0d0,#0c0,#0b0,#0a0,#090,#080,#060,#050,#040,#030,#020,#010)"></i><i style="background:linear-gradient(90deg,#000,#000,#000,#000,#000,#000,#000,#000,#000,#000,#000,#000,#000,#000,#000,#000,#060,#0e0,#150,#190,#1d0,#230,#2d0,#360,#3b0,#430,#480,#4e0,#530,#570,#5d0,#670,#700,#790,#840,#8a0,#910,#990,#a00,#a70,#ad0,#b10,#b50,#b80,#bb0,#bc0,#bc0,#bd0,#bd0,#bd0,#bd0,#bd0,#bd0,#bd0,#bd0,#bd0,#bc0,#bc0,#bb0,#bb0,#ba0,#ba0,#b90,#b90,#b80,#b80,#b70,#b70,#b70,#b70,#b70,#b70,#b80,#b90,#ba0,#bb0,#bc0,#be0,#bf0,#c00,#c20,#c40,#c60,#c80,#cb0,#cd0,#d00,#d30,#d60,#d80,#da0,#dc0,#de0,#e00,#e20,#e40,#e60,#e90,#ec0,#ef0,#f20,#f50,#f80,#fb0,#fc0,#fd0,#fe0,#ff0,#ff0,#ff0,#ff0,#ff0,#ff0,#ff0,#ff0,#ff0,#ff0,#ff0,#ff0,#ff0,#ff0,#ff0,#ff0,#ff0,#ff0,#ff0,#ff0,#ff0,#ff0,#ff0,#ff0,#ff0,#ff0,#ff0,#ff0,#ff0,#ff0,#ff0,#ff0,#ff0,#ff0,#ff0,#ff0,#ff0,#ff0,#ff0,#ff0,#ff0,#fb0,#f20,#e90,#dc0,#cf0,#c40,#b90,#ae0,#a40,#9a0,#900,#860,#7d0,#740,#6b0,#630,#590,#550,#4f0,#4c0,#480,#440,#3f0,#3a0,#350,#310,#2f0,#2c0,#2a0,#270,#250,#230,#200,#1e0,#1c0,#1a0,#180,#160,#140,#130,#110,#100,#0e0,#0d0,#0c0,#0b0,#0a0,#080,#070,#060,#050,#030,#020,#010,#000,#000)"></i><i style="background:linear-gradient(90deg,#000,#000,#000,#000,#000,#000,#000,#000,#000,#000,#000,#000,#000,#000,#000,#000,#040,#0d0,#130,#180,#1d0,#230,#2e0,#360,#3b0,#430,#490,#4f0,#540,#580,#610,#6a0,#740,#7d0,#860,#8d0,#940,#9c0,#a40,#ac0,#b10,#b60,#ba0,#bd0,#c10,#c20,#c30,#c30,#c40,#c40,#c30,#c30,#c30,#c30,#c20,#c20,#c10,#c00,#c00,#bf0,#bd0,#bd0,#bd0,#bc0,#bc0,#bb0,#bb0,#bb0,#ba0,#ba0,#ba0,#bb0,#bb0,#bc0,#bd0,#be0,#bf0,#c10,#c20,#c40,#c50,#c70,#c90,#cb0,#ce0,#d10,#d40,#d70,#d90,#dc0,#de0,#e00,#e20,#e40,#e60,#e90,#eb0,#ee0,#f10,#f40,#f70,#fa0,#fb0,#fc0,#fe0,#ff0,#ff0,#ff0,#ff0,#ff0,#ff0,#ff0,#ff0,#ff0,#ff0,#ff0,#ff0,#ff0,#ff0,#ff0,#ff0,#ff0,#ff0,#ff0,#ff0,#ff0,#ff0,#ff0,#ff0,#ff0,#ff0,#ff0,#ff0,#ff0,#ff0,#ff0,#ff0,#ff0,#ff0,#ff0,#ff0,#ff0,#ff0,#ff0,#ff0,#ff0,#ff0,#ff0,#ff0,#fb0,#f10,#e20,#d70,#cb0,#c10,#b40,#a70,#9e0,#930,#890,#7f0,#760,#6c0,#640,#5b0,#550,#500,#4c0,#490,#450,#400,#3a0,#350,#310,#2f0,#2c0,#2a0,#270,#250,#220,#200,#1d0,#1b0,#190,#170,#150,#130,#120,#100,#0f0,#0d0,#0c0,#0b0,#090,#080,#070,#050,#040,#030,#020,#000,#000,#000,#000)"></i><i style="background:linear-gradient(90deg,#000,#000,#000,#000,#000,#000,#000,#000,#000,#000,#000,#000,#000,#000,#000,#000,#020,#0b0,#120,#180,#1d0,#240,#2f0,#370,#3c0,#440,#4b0,#510,#550,#5a0,#640,#6f0,#780,#810,#890,#900,#980,#a00,#a60,#ae0,#b40,#ba0,#bf0,#c30,#c70,#c90,#ca0,#ca0,#ca0,#ca0,#ca0,#c90,#c90,#c80,#c80,#c70,#c60,#c50,#c50,#c40,#c30,#c20,#c10,#c10,#c00,#bf0,#bf0,#be0,#be0,#bd0,#be0,#be0,#be0,#bf0,#c00,#c10,#c20,#c30,#c50,#c60,#c80,#ca0,#cc0,#cf0,#d10,#d50,#d80,#db0,#dd0,#e00,#e20,#e40,#e50,#e80,#ea0,#ed0,#f00,#f30,#f60,#f80,#fb0,#fc0,#fd0,#fe0,#ff0,#ff0,#ff0,#ff0,#ff0,#ff0,#ff0,#ff0,#ff0,#ff0,#ff0,#ff0,#ff0,#ff0,#ff0,#ff0,#ff0,#ff0,#ff0,#ff0,#ff0,#ff0,#ff0,#ff0,#ff0,#ff0,#ff0,#ff0,#ff0,#ff0,#ff0,#ff0,#ff0,#ff0,#ff0,#ff0,#ff0,#ff0,#ff0,#ff0,#ff0,#ff0,#ff0,#ff0,#ff0,#ff0,#fb0,#ec0,#de0,#d10,#c60,#b90,#ad0,#a20,#970,#8c0,#820,#790,#700,#660,#5d0,#560,#510,#4d0,#490,#450,#400,#3a0,#360,#320,#2f0,#2c0,#2a0,#270,#250,#220,#200,#1d0,#1b0,#190,#170,#140,#130,#110,#0f0,#0e0,#0c0,#0b0,#0a0,#080,#070,#050,#040,#020,#010,#000,#000,#000,#000,#000)"></i><i style="background:linear-gradient(90deg,#000,#000,#000,#000,#000,#000,#000,#000,#000,#000,#000,#000,#000,#000,#000,#000,#000,#080,#110,#180,#1d0,#240,#300,#370,#3d0,#450,#4c0,#520,#570,#5e0,#680,#720,#7b0,#850,#8c0,#940,#9b0,#a20,#a90,#b10,#b70,#be0,#c40,#c90,#cd0,#cf0,#d00,#d00,#d00,#d00,#cf0,#cf0,#ce0,#ce0,#cd0,#cc0,#cb0,#cb0,#ca0,#c90,#c80,#c70,#c60,#c50,#c40,#c40,#c30,#c20,#c20,#c10,#c10,#c10,#c20,#c20,#c20,#c30,#c40,#c60,#c70,#c90,#cb0,#cd0,#cf0,#d10,#d50,#d80,#dc0,#df0,#e10,#e40,#e50,#e80,#ea0,#ec0,#ef0,#f10,#f40,#f70,#fa0,#fb0,#fd0,#fe0,#ff0,#ff0,#ff0,#ff0,#ff0,#ff0,#ff0,#ff0,#ff0,#ff0,#ff0,#ff0,#ff0,#ff0,#ff0,#ff0,#ff0,#ff0,#ff0,#ff0,#ff0,#ff0,#ff0,#ff0,#ff0,#ff0,#ff0,#ff0,#ff0,#ff0,#ff0,#ff0,#ff0,#ff0,#ff0,#ff0,#ff0,#ff0,#ff0,#ff0,#ff0,#ff0,#ff0,#ff0,#ff0,#ff0,#ff0,#ff0,#fe0,#f40,#e40,#d90,#cb0,#bb0,#b20,#a50,#9b0,#8f0,#860,#7b0,#720,#680,#5e0,#560,#510,#4d0,#490,#450,#400,#3a0,#360,#310,#2f0,#2c0,#2a0,#270,#240,#220,#1f0,#1d0,#1a0,#180,#160,#140,#120,#100,#0e0,#0d0,#0b0,#090,#080,#070,#050,#030,#020,#010,#000,#000,#000,#000,#000,#000)"></i><i style="background:linear-gradient(90deg,#000,#000,#000,#000,#000,#000,#000,#000,#000,#000,#000,#000,#000,#000,#000,#000,#000,#050,#0f0,#170,#1d0,#240,#330,#370,#3e0,#470,#4d0,#530,#580,#620,#6b0,#760,#7e0,#870,#8f0,#970,#9e0,#a50,#ac0,#b40,#bb0,#c20,#c80,#ce0,#d40,#d70,#d80,#d70,#d70,#d60,#d60,#d50,#d40,#d30,#d20,#d10,#d00,#cf0,#ce0,#cd0,#cc0,#cb0,#ca0,#c90,#c90,#c80,#c70,#c60,#c50,#c50,#c50,#c40,#c50,#c50,#c50,#c60,#c70,#c80,#ca0,#cc0,#ce0,#d00,#d20,#d50,#d90,#dc0,#e00,#e30,#e50,#e80,#ea0,#ec0,#ee0,#f10,#f30,#f60,#f80,#fb0,#fc0,#fd0,#fe0,#ff0,#ff0,#ff0,#ff0,#ff0,#ff0,#ff0,#ff0,#ff0,#ff0,#ff0,#ff0,#ff0,#ff0,#ff0,#ff0,#ff0,#ff0,#ff0,#ff0,#ff0,#ff0,#ff0,#ff0,#ff0,#ff0,#ff0,#ff0,#ff0,#ff0,#ff0,#ff0,#ff0,#ff0,#ff0,#ff0,#ff0,#ff0,#ff0,#ff0,#ff0,#ff0,#ff0,#ff0,#ff0,#ff0,#ff0,#ff0,#ff0,#ff0,#fc0,#ef0,#df0,#d00,#c30,#b60,#a90,#9d0,#920,#870,#7d0,#730,#690,#5f0,#570,#520,#4d0,#490,#450,#400,#3a0,#360,#320,#2f0,#2c0,#290,#270,#240,#220,#1f0,#1c0,#1a0,#180,#150,#130,#110,#0f0,#0d0,#0c0,#0a0,#090,#070,#050,#040,#020,#010,#000,#000,#000,#000,#000,#000,#000)"></i><i style="background:linear-gradient(90deg,#000,#000,#000,#000,#000,#000,#000,#000,#000,#000,#000,#000,#000,#000,#000,#000,#000,#020,#0d0,#170,#1d0,#240,#330,#380,#3f0,#480,#4f0,#550,#5c0,#660,#710,#790,#800,#8a0,#930,#9a0,#a10,#a80,#b00,#b80,#c00,#c70,#ce0,#d40,#da0,#de0,#df0,#de0,#dd0,#dc0,#db0,#da0,#d90,#d80,#d80,#d70,#d60,#d50,#d40,#d30,#d10,#d00,#cf0,#ce0,#cd0,#cc0,#cb0,#ca0,#c90,#c90,#c80,#c80,#c80,#c80,#c80,#c80,#c90,#cb0,#cc0,#ce0,#d00,#d30,#d60,#da0,#dd0,#e00,#e40,#e70,#ea0,#ec0,#ee0,#f10,#f30,#f50,#f70,#fa0,#fb0,#fd0,#fe0,#ff0,#ff0,#ff0,#ff0,#ff0,#ff0,#ff0,#ff0,#ff0,#ff0,#ff0,#ff0,#ff0,#ff0,#ff0,#ff0,#ff0,#ff0,#ff0,#ff0,#ff0,#ff0,#ff0,#ff0,#ff0,#ff0,#ff0,#ff0,#ff0,#ff0,#ff0,#ff0,#ff0,#ff0,#ff0,#ff0,#ff0,#ff0,#ff0,#ff0,#ff0,#ff0,#ff0,#ff0,#ff0,#ff0,#ff0,#ff0,#ff0,#ff0,#ff0,#ff0,#ff0,#f60,#ea0,#d90,#c90,#ba0,#af0,#a10,#940,#8a0,#7f0,#760,#6b0,#610,#580,#520,#4d0,#4a0,#450,#410,#3b0,#360,#320,#2f0,#2c0,#290,#260,#240,#210,#1f0,#1c0,#1a0,#170,#150,#120,#100,#0e0,#0d0,#0b0,#090,#070,#060,#040,#020,#010,#000,#000,#000,#000,#000,#000,#000,#000)"></i><i style="background:linear-gradient(90deg,#000,#000,#000,#000,#000,#000,#000,#000,#000,#000,#000,#000,#000,#000,#000,#000,#000,#000,#0b0,#160,#1d0,#240,#320,#380,#3f0,#490,#510,#560,#5f0,#6a0,#740,#7c0,#850,#8e0,#970,#9d0,#a40,#ab0,#b30,#bc0,#c50,#cd0,#d40,#db0,#e20,#e40,#e40,#e50,#e40,#e30,#e10,#e00,#df0,#de0,#dd0,#dc0,#db0,#d90,#d80,#d70,#d60,#d50,#d40,#d30,#d10,#d00,#cf0,#ce0,#cd0,#cc0,#cb0,#cb0,#cb0,#ca0,#ca0,#ca0,#cb0,#cd0,#ce0,#d00,#d30,#d70,#da0,#de0,#e10,#e40,#e80,#eb0,#ee0,#f10,#f30,#f50,#f70,#f90,#fb0,#fc0,#fd0,#fe0,#ff0,#ff0,#ff0,#ff0,#ff0,#ff0,#ff0,#ff0,#ff0,#ff0,#ff0,#ff0,#ff0,#ff0,#ff0,#ff0,#ff0,#ff0,#ff0,#ff0,#ff0,#ff0,#ff0,#ff0,#ff0,#ff0,#ff0,#ff0,#ff0,#ff0,#ff0,#ff0,#ff0,#ff0,#ff0,#ff0,#ff0,#ff0,#ff0,#ff0,#ff0,#ff0,#ff0,#ff0,#ff0,#ff0,#ff0,#ff0,#ff0,#ff0,#ff0,#ff0,#ff0,#ff0,#fd0,#f00,#de0,#ce0,#c00,#b20,#a40,#980,#8c0,#800,#770,#6c0,#620,#580,#530,#4e0,#4a0,#450,#410,#3b0,#360,#320,#2f0,#2c0,#290,#260,#240,#210,#1f0,#1c0,#190,#170,#140,#120,#0f0,#0d0,#0b0,#0a0,#080,#060,#040,#030,#010,#000,#000,#000,#000,#000,#000,#000,#000,#000)"></i><i style="background:linear-gradient(90deg,#000,#000,#000,#000,#000,#000,#000,#000,#000,#000,#000,#000,#000,#000,#000,#000,#000,#000,#070,#150,#1e0,#250,#320,#380,#400,#4a0,#520,#580,#620,#6d0,#770,#7f0,#890,#910,#9a0,#a00,#a60,#af0,#b70,#c10,#ca0,#d30,#db0,#e20,#e90,#ec0,#ec0,#eb0,#ea0,#e90,#e80,#e50,#e40,#e30,#e20,#e00,#df0,#de0,#dd0,#dc0,#db0,#da0,#d80,#d70,#d60,#d50,#d30,#d20,#d10,#d00,#cf0,#ce0,#ce0,#cd0,#cd0,#cd0,#ce0,#cf0,#d10,#d30,#d70,#db0,#de0,#e20,#e50,#e90,#ec0,#ef0,#f30,#f50,#f70,#f90,#fb0,#fc0,#fd0,#fe0,#ff0,#ff0,#ff0,#ff0,#ff0,#ff0,#ff0,#ff0,#ff0,#ff0,#ff0,#ff0,#ff0,#ff0,#ff0,#ff0,#ff0,#ff0,#ff0,#ff0,#ff0,#ff0,#ff0,#ff0,#ff0,#ff0,#ff0,#ff0,#ff0,#ff0,#ff0,#ff0,#ff0,#ff0,#ff0,#ff0,#ff0,#ff0,#ff0,#ff0,#ff0,#ff0,#ff0,#ff0,#ff0,#ff0,#ff0,#ff0,#ff0,#ff0,#ff0,#ff0,#ff0,#ff0,#ff0,#ff0,#ff0,#fb0,#e40,#d60,#c60,#b70,#a80,#9c0,#8f0,#840,#790,#6f0,#640,#590,#530,#4e0,#4a0,#460,#410,#3b0,#360,#320,#2f0,#2c0,#290,#260,#240,#210,#1e0,#1c0,#190,#160,#130,#110,#0f0,#0c0,#0b0,#080,#070,#050,#030,#020,#000,#000,#000,#000,#000,#000,#000,#000,#000,#000)"></i><i style="background:linear-gradient(90deg,#000,#000,#000,#000,#000,#000,#000,#000,#000,#000,#000,#000,#000,#000,#000,#000,#000,#000,#030,#150,#1f0,#250,#330,#380,#400,#4b0,#540,#5a0,#660,#710,#7a0,#840,#8c0,#930,#9c0,#a30,#a80,#b20,#bc0,#c60,#cf0,#da0,#e20,#e90,#ef0,#f20,#f20,#f10,#f00,#ef0,#ee0,#ec0,#eb0,#e90,#e70,#e50,#e40,#e30,#e20,#e10,#e00,#de0,#dd0,#dc0,#da0,#d90,#d80,#d60,#d50,#d30,#d30,#d10,#d10,#d00,#cf0,#cf0,#d00,#d10,#d40,#d70,#db0,#df0,#e30,#e70,#ea0,#ed0,#f00,#f40,#f70,#f90,#fb0,#fc0,#fc0,#fe0,#ff0,#ff0,#ff0,#ff0,#ff0,#ff0,#ff0,#ff0,#ff0,#ff0,#ff0,#ff0,#ff0,#ff0,#ff0,#ff0,#ff0,#ff0,#ff0,#ff0,#ff0,#ff0,#ff0,#ff0,#ff0,#ff0,#ff0,#ff0,#ff0,#ff0,#ff0,#ff0,#ff0,#ff0,#ff0,#ff0,#ff0,#ff0,#ff0,#ff0,#ff0,#ff0,#ff0,#ff0,#ff0,#ff0,#ff0,#ff0,#ff0,#ff0,#ff0,#ff0,#ff0,#ff0,#ff0,#ff0,#ff0,#ff0,#ff0,#ff0,#f00,#dd0,#cb0,#ba0,#ae0,#a00,#910,#870,#7b0,#710,#650,#590,#540,#4e0,#4a0,#460,#410,#3b0,#370,#330,#2f0,#2c0,#290,#260,#230,#210,#1e0,#1b0,#180,#160,#130,#100,#0e0,#0b0,#090,#070,#060,#040,#020,#010,#000,#000,#000,#000,#000,#000,#000,#000,#000,#000)"></i><i style="background:linear-gradient(90deg,#000,#000,#000,#000,#000,#000,#000,#000,#000,#000,#000,#000,#000,#000,#000,#000,#000,#000,#010,#100,#1f0,#250,#330,#380,#400,#4d0,#550,#5e0,#6a0,#740,#7d0,#870,#8f0,#980,#9f0,#a50,#ae0,#b70,#c20,#cc0,#d70,#e10,#e90,#f00,#f60,#f80,#f80,#f70,#f70,#f60,#f40,#f30,#f20,#f00,#ee0,#ed0,#eb0,#e90,#e80,#e50,#e40,#e30,#e20,#e10,#df0,#dd0,#dc0,#da0,#d90,#d70,#d60,#d50,#d40,#d30,#d30,#d20,#d30,#d50,#d80,#dc0,#df0,#e30,#e70,#ea0,#ee0,#f10,#f50,#f80,#fa0,#fb0,#fc0,#fd0,#fe0,#ff0,#ff0,#ff0,#ff0,#ff0,#ff0,#ff0,#ff0,#ff0,#ff0,#ff0,#ff0,#ff0,#ff0,#ff0,#ff0,#ff0,#ff0,#ff0,#ff0,#ff0,#ff0,#ff0,#ff0,#ff0,#ff0,#ff0,#ff0,#ff0,#ff0,#ff0,#ff0,#ff0,#ff0,#ff0,#ff0,#ff0,#ff0,#ff0,#ff0,#ff0,#ff0,#ff0,#ff0,#ff0,#ff0,#ff0,#ff0,#ff0,#ff0,#ff0,#ff0,#ff0,#ff0,#ff0,#ff0,#ff0,#ff0,#ff0,#ff0,#ff0,#fb0,#e50,#d30,#c10,#b20,#a40,#950,#890,#7d0,#720,#660,#5a0,#540,#4e0,#4a0,#450,#410,#3b0,#370,#330,#2f0,#2c0,#290,#260,#230,#200,#1e0,#1b0,#180,#150,#120,#0f0,#0c0,#0a0,#080,#060,#040,#030,#010,#000,#000,#000,#000,#000,#000,#000,#000,#000,#000,#000)"></i><i style="background:linear-gradient(90deg,#000,#000,#000,#000,#000,#000,#000,#000,#000,#000,#000,#000,#000,#000,#000,#000,#000,#000,#000,#0e0,#1f0,#250,#320,#380,#430,#4f0,#570,#620,#6e0,#780,#800,#8a0,#930,#9b0,#a20,#a90,#b20,#bc0,#c80,#d40,#de0,#e90,#f10,#f80,#fb0,#fc0,#fc0,#fc0,#fb0,#fb0,#fb0,#fa0,#f90,#f70,#f50,#f30,#f20,#f00,#ee0,#ec0,#ea0,#e80,#e70,#e40,#e40,#e20,#e00,#de0,#dc0,#db0,#d90,#d80,#d70,#d60,#d60,#d60,#d80,#da0,#dd0,#e00,#e40,#e80,#eb0,#ee0,#f20,#f50,#f90,#fb0,#fc0,#fd0,#fe0,#ff0,#ff0,#ff0,#ff0,#ff0,#ff0,#ff0,#ff0,#ff0,#ff0,#ff0,#ff0,#ff0,#ff0,#ff0,#ff0,#ff0,#ff0,#ff0,#ff0,#ff0,#ff0,#ff0,#ff0,#ff0,#ff0,#ff0,#ff0,#ff0,#ff0,#ff0,#ff0,#ff0,#ff0,#ff0,#ff0,#ff0,#ff0,#ff0,#ff0,#ff0,#ff0,#ff0,#ff0,#ff0,#ff0,#ff0,#ff0,#ff0,#ff0,#ff0,#ff0,#ff0,#ff0,#ff0,#ff0,#ff0,#ff0,#ff0,#ff0,#ff0,#ff0,#ff0,#ff0,#f10,#dc0,#c90,#b70,#a80,#9b0,#8d0,#800,#740,#680,#5c0,#540,#4e0,#4a0,#450,#410,#3b0,#370,#330,#2f0,#2c0,#290,#260,#230,#200,#1e0,#1b0,#180,#150,#120,#0e0,#0b0,#090,#070,#050,#030,#020,#000,#000,#000,#000,#000,#000,#000,#000,#000,#000,#000,#000)"></i><i style="background:linear-gradient(90deg,#000,#000,#000,#000,#000,#000,#000,#000,#000,#000,#000,#000,#000,#000,#000,#000,#000,#000,#000,#060,#1f0,#250,#330,#380,#440,#510,#590,#650,#720,#7c0,#850,#8e0,#980,#9e0,#a50,#ad0,#b70,#c30,#ce0,#db0,#e70,#f30,#fa0,#fb0,#fc0,#fe0,#fe0,#fe0,#fe0,#fe0,#fe0,#fd0,#fc0,#fb0,#fb0,#fa0,#f80,#f60,#f40,#f10,#ef0,#ed0,#eb0,#e90,#e80,#e60,#e40,#e20,#e00,#de0,#dc0,#db0,#d90,#d90,#d90,#da0,#dc0,#df0,#e20,#e50,#e80,#eb0,#ef0,#f20,#f60,#f90,#fb0,#fc0,#fd0,#fe0,#ff0,#ff0,#ff0,#ff0,#ff0,#ff0,#ff0,#ff0,#ff0,#ff0,#ff0,#ff0,#ff0,#ff0,#ff0,#ff0,#ff0,#ff0,#ff0,#ff0,#ff0,#ff0,#ff0,#ff0,#ff0,#ff0,#ff0,#ff0,#ff0,#ff0,#ff0,#ff0,#ff0,#ff0,#ff0,#ff0,#ff0,#ff0,#ff0,#ff0,#ff0,#ff0,#ff0,#ff0,#ff0,#ff0,#ff0,#ff0,#ff0,#ff0,#ff0,#ff0,#ff0,#ff0,#ff0,#ff0,#ff0,#ff0,#ff0,#ff0,#ff0,#ff0,#ff0,#ff0,#ff0,#fb0,#e10,#cd0,#ba0,#ae0,#9e0,#8f0,#850,#760,#690,#5e0,#550,#4e0,#4a0,#460,#410,#3c0,#370,#330,#2f0,#2c0,#280,#260,#230,#200,#1d0,#1a0,#170,#150,#110,#0d0,#090,#080,#060,#040,#030,#010,#000,#000,#000,#000,#000,#000,#000,#000,#000,#000,#000,#000)"></i><i style="background:linear-gradient(90deg,#000,#000,#000,#000,#000,#000,#000,#000,#000,#000,#000,#000,#000,#000,#000,#000,#000,#000,#000,#010,#1f0,#250,#330,#380,#440,#530,#5d0,#690,#750,#7e0,#880,#910,#990,#a00,#a70,#b10,#ba0,#c70,#d40,#e10,#f20,#fa0,#fb0,#fd0,#fe0,#ff0,#ff0,#ff0,#ff0,#ff0,#ff0,#ff0,#ff0,#fd0,#fc0,#fb0,#fb0,#fa0,#f90,#f70,#f40,#f10,#ee0,#ec0,#ea0,#e90,#e70,#e50,#e30,#e10,#df0,#dd0,#db0,#db0,#dc0,#dd0,#e00,#e30,#e60,#e90,#eb0,#ee0,#f20,#f60,#f90,#fb0,#fc0,#fd0,#ff0,#ff0,#ff0,#ff0,#ff0,#ff0,#ff0,#ff0,#ff0,#ff0,#ff0,#ff0,#ff0,#ff0,#ff0,#ff0,#ff0,#ff0,#ff0,#ff0,#ff0,#ff0,#ff0,#ff0,#ff0,#ff0,#ff0,#ff0,#ff0,#ff0,#ff0,#ff0,#ff0,#ff0,#ff0,#ff0,#ff0,#ff0,#ff0,#ff0,#ff0,#ff0,#ff0,#ff0,#ff0,#ff0,#ff0,#ff0,#ff0,#ff0,#ff0,#ff0,#ff0,#ff0,#ff0,#ff0,#ff0,#ff0,#ff0,#ff0,#ff0,#ff0,#ff0,#ff0,#ff0,#ff0,#ff0,#fe0,#ec0,#d70,#c30,#b10,#a10,#920,#860,#780,#6a0,#5e0,#550,#4f0,#4a0,#450,#410,#3b0,#370,#330,#2f0,#2c0,#290,#250,#230,#200,#1d0,#1a0,#170,#150,#100,#0c0,#090,#070,#060,#040,#020,#000,#000,#000,#000,#000,#000,#000,#000,#000,#000,#000,#000,#000)"></i><i style="background:linear-gradient(90deg,#000,#000,#000,#000,#000,#000,#000,#000,#000,#000,#000,#000,#000,#000,#000,#000,#000,#000,#000,#010,#1f0,#250,#330,#390,#480,#540,#600,#6c0,#770,#810,#8a0,#930,#9b0,#a20,#a90,#b30,#bd0,#ca0,#d70,#e40,#f70,#fb0,#fc0,#fd0,#ff0,#ff0,#ff0,#ff0,#ff0,#ff0,#ff0,#ff0,#ff0,#fe0,#fd0,#fc0,#fc0,#fb0,#fb0,#fa0,#f70,#f30,#f10,#ef0,#ed0,#eb0,#e90,#e80,#e60,#e30,#e00,#de0,#dd0,#dc0,#de0,#df0,#e20,#e60,#e90,#eb0,#ee0,#f10,#f50,#f90,#fb0,#fc0,#fd0,#ff0,#ff0,#ff0,#ff0,#ff0,#ff0,#ff0,#ff0,#ff0,#ff0,#ff0,#ff0,#ff0,#ff0,#ff0,#ff0,#ff0,#ff0,#ff0,#ff0,#ff0,#ff0,#ff0,#ff0,#ff0,#ff0,#ff0,#ff0,#ff0,#ff0,#ff0,#ff0,#ff0,#ff0,#ff0,#ff0,#ff0,#ff0,#ff0,#ff0,#ff0,#ff0,#ff0,#ff0,#ff0,#ff0,#ff0,#ff0,#ff0,#ff0,#ff0,#ff0,#ff0,#ff0,#ff0,#ff0,#ff0,#ff0,#ff0,#ff0,#ff0,#ff0,#ff0,#ff0,#ff0,#ff0,#ff0,#ff0,#ff0,#ef0,#da0,#c60,#b40,#a40,#940,#860,#790,#6b0,#5e0,#550,#4f0,#4b0,#470,#420,#3c0,#380,#330,#2f0,#2c0,#280,#250,#230,#200,#1d0,#1a0,#170,#130,#100,#0c0,#090,#070,#050,#030,#020,#000,#000,#000,#000,#000,#000,#000,#000,#000,#000,#000,#000,#000)"></i><i style="background:linear-gradient(90deg,#000,#000,#000,#000,#000,#000,#000,#000,#000,#000,#000,#000,#000,#000,#000,#000,#000,#000,#000,#010,#1f0,#250,#330,#390,#480,#550,#610,#6f0,#780,#810,#8a0,#930,#9b0,#a20,#a90,#b30,#bd0,#ca0,#d70,#e40,#f60,#fb0,#fc0,#fe0,#ff0,#ff0,#ff0,#ff0,#ff0,#ff0,#ff0,#ff0,#ff0,#ff0,#fe0,#fd0,#fc0,#fc0,#fb0,#fa0,#f80,#f50,#f20,#f00,#ee0,#ed0,#eb0,#e90,#e70,#e40,#e10,#df0,#de0,#dd0,#df0,#e10,#e30,#e70,#ea0,#ed0,#f00,#f30,#f60,#fa0,#fb0,#fd0,#fe0,#ff0,#ff0,#ff0,#ff0,#ff0,#ff0,#ff0,#ff0,#ff0,#ff0,#ff0,#ff0,#ff0,#ff0,#ff0,#ff0,#ff0,#ff0,#ff0,#ff0,#ff0,#ff0,#ff0,#ff0,#ff0,#ff0,#ff0,#ff0,#ff0,#ff0,#ff0,#ff0,#ff0,#ff0,#ff0,#ff0,#ff0,#ff0,#ff0,#ff0,#ff0,#ff0,#ff0,#ff0,#ff0,#ff0,#ff0,#ff0,#ff0,#ff0,#ff0,#ff0,#ff0,#ff0,#ff0,#ff0,#ff0,#ff0,#ff0,#ff0,#ff0,#ff0,#ff0,#ff0,#ff0,#ff0,#ff0,#ff0,#ff0,#f00,#da0,#c60,#b40,#a40,#940,#870,#790,#6b0,#5e0,#550,#4f0,#4a0,#460,#420,#3d0,#380,#330,#2f0,#2c0,#280,#250,#230,#200,#1d0,#1a0,#170,#130,#100,#0c0,#090,#070,#050,#040,#020,#000,#000,#000,#000,#000,#000,#000,#000,#000,#000,#000,#000,#000)"></i><i style="background:linear-gradient(90deg,#000,#000,#000,#000,#000,#000,#000,#000,#000,#000,#000,#000,#000,#000,#000,#000,#000,#000,#000,#010,#210,#250,#350,#380,#4a0,#550,#630,#680,#780,#7d0,#8a0,#900,#9c0,#a10,#a60,#b30,#b90,#c80,#d90,#df0,#f10,#fb0,#fc0,#fd0,#fe0,#ff0,#ff0,#ff0,#ff0,#ff0,#ff0,#ff0,#ff0,#fe0,#fe0,#fd0,#fd0,#fc0,#fb0,#fb0,#f70,#f50,#f30,#f10,#ef0,#ee0,#ec0,#ea0,#e80,#e30,#e10,#e00,#de0,#de0,#df0,#e10,#e30,#e90,#eb0,#ee0,#f00,#f30,#f60,#fb0,#fc0,#fd0,#fe0,#ff0,#ff0,#ff0,#ff0,#ff0,#ff0,#ff0,#ff0,#ff0,#ff0,#ff0,#ff0,#ff0,#ff0,#ff0,#ff0,#ff0,#ff0,#ff0,#ff0,#ff0,#ff0,#ff0,#ff0,#ff0,#ff0,#ff0,#ff0,#ff0,#ff0,#ff0,#ff0,#ff0,#ff0,#ff0,#ff0,#ff0,#ff0,#ff0,#ff0,#ff0,#ff0,#ff0,#ff0,#ff0,#ff0,#ff0,#ff0,#ff0,#ff0,#ff0,#ff0,#ff0,#ff0,#ff0,#ff0,#ff0,#ff0,#ff0,#ff0,#ff0,#ff0,#ff0,#ff0,#ff0,#ff0,#ff0,#ff0,#ff0,#ef0,#db0,#c70,#b40,#a10,#8f0,#890,#780,#670,#610,#550,#4d0,#4b0,#490,#440,#3e0,#380,#350,#2f0,#2c0,#260,#250,#230,#200,#1c0,#1a0,#180,#160,#100,#0d0,#080,#070,#050,#040,#020,#010,#000,#000,#000,#000,#000,#000,#000,#000,#000,#000,#000,#000)"></i><i style="background:linear-gradient(90deg,#000,#000,#000,#000,#000,#000,#000,#000,#000,#000,#000,#000,#000,#000,#000,#000,#000,#000,#000,#010,#220,#240,#360,#380,#4b0,#550,#630,#660,#780,#7b0,#8b0,#8e0,#9e0,#a10,#a30,#b30,#b60,#c80,#db0,#dd0,#f00,#fc0,#fd0,#fd0,#ff0,#ff0,#ff0,#ff0,#ff0,#ff0,#ff0,#ff0,#ff0,#fe0,#fe0,#fd0,#fd0,#fc0,#fb0,#fb0,#f60,#f50,#f30,#f20,#f00,#ee0,#ec0,#eb0,#ea0,#e20,#e10,#e00,#df0,#de0,#df0,#e00,#e20,#eb0,#ec0,#ee0,#f00,#f30,#f50,#fb0,#fc0,#fd0,#fd0,#ff0,#ff0,#ff0,#ff0,#ff0,#ff0,#ff0,#ff0,#ff0,#ff0,#ff0,#ff0,#ff0,#ff0,#ff0,#ff0,#ff0,#ff0,#ff0,#ff0,#ff0,#ff0,#ff0,#ff0,#ff0,#ff0,#ff0,#ff0,#ff0,#ff0,#ff0,#ff0,#ff0,#ff0,#ff0,#ff0,#ff0,#ff0,#ff0,#ff0,#ff0,#ff0,#ff0,#ff0,#ff0,#ff0,#ff0,#ff0,#ff0,#ff0,#ff0,#ff0,#ff0,#ff0,#ff0,#ff0,#ff0,#ff0,#ff0,#ff0,#ff0,#ff0,#ff0,#ff0,#ff0,#ff0,#ff0,#ff0,#ff0,#f00,#dc0,#c80,#b40,#a00,#8e0,#8b0,#780,#650,#630,#550,#4c0,#4b0,#4a0,#440,#3f0,#370,#360,#2e0,#2d0,#2b0,#240,#230,#210,#1b0,#1a0,#180,#170,#0f0,#0e0,#080,#060,#050,#040,#030,#020,#000,#000,#000,#000,#000,#000,#000,#000,#000,#000,#000,#000)"></i></div></div>
<div id="cb"></div>
<svg width="1955" height="1440" viewBox="0 0 1955 1440"><defs><clipPath id="ac"><rect x="619.5" y="345.5" width="786.0" height="604.0"/></clipPath></defs><g clip-path="url(#ac)" fill="none" stroke-linejoin="round"><path d="M676.5 872.4L1439.7 325.7" stroke="#0ff" stroke-width="10.30"/><path d="M859.7 804.1L875.6 959.3" stroke="#0ff" stroke-width="10.30"/><path d="M958 791.2L889.7 960.3" stroke="#0ff" stroke-width="10.30"/><path d="M1056.7 791.3L1016.7 960.3" stroke="#0ff" stroke-width="10.30"/><path d="M1155.1 807.2L934 959" stroke="#0ff" stroke-width="10.30"/><path d="M1248.6 839.5L1326.3 322.6" stroke="#0ff" stroke-width="10.30"/><path d="M1341.9 877.4L1056.3 320.7" stroke="#0ff" stroke-width="10.30"/><path d="M767.7 837.3L1342.1 773.2L1342.8 779.7L1376.3 764.2L1340.2 756.5L1340.9 763L766.5 827.1Z" fill="#0ff" stroke="none"/><path d="M707.5 956C707.7 952.7 707.5 950.9 708 946.2C708.5 941.5 709.5 933.5 710.8 927.8C712.1 922.1 713.7 917.9 715.6 911.9C717.5 905.9 720.1 897.5 722 891.9C723.9 886.3 724.9 882.9 726.8 878.3C728.7 873.6 731.2 867.9 733.2 864C735.2 860.1 736.2 859.7 738.5 855C740.8 850.3 743.7 842.5 746.7 835.8C749.7 829.1 753.7 821.5 756.7 815C759.8 808.5 762.4 802.2 765 796.7C767.6 791.2 769.7 786.6 772.5 781.7C775.3 776.8 778.5 772.1 781.7 767.5C784.9 762.9 788 758.5 791.7 754.2C795.5 749.9 799.4 746.1 804.2 741.7C809 737.3 813.9 732.8 820.6 728C827.3 723.2 835.9 718.1 844.6 712.8C853.4 707.5 864 701.5 873.1 696C882.2 690.5 891.3 685.3 899.3 679.5C907.3 673.7 913.9 667.3 921.2 661C928.5 654.7 936.6 647.5 943 641.5C949.4 635.5 952.5 631.9 959.5 625C966.5 618.1 976.7 608.4 985.3 600C993.9 591.6 1003.3 581.8 1011 574.7C1018.7 567.6 1024.5 563.1 1031.5 557.4C1038.5 551.6 1045.8 545.2 1053 540.2C1060.2 535.2 1067.4 530.7 1074.6 527.3C1081.8 523.9 1089.6 521.3 1096.1 519.8C1102.5 518.3 1107.5 518.1 1113.3 518.3C1119 518.5 1124.8 518.8 1130.6 520.8C1136.3 522.8 1142.8 526.5 1147.8 530.5C1152.8 534.5 1156.4 538.6 1160.7 544.5C1165 550.4 1169.3 558.1 1173.6 566C1177.9 573.9 1182.2 582.9 1186.5 591.9C1190.8 600.9 1195.2 610.2 1199.5 619.9C1203.8 629.6 1208.3 640.5 1212.4 650C1216.5 659.5 1220.8 668.3 1224.3 677.2C1227.8 686.1 1230.2 694.3 1233.1 703.4C1236 712.5 1238.9 720.6 1241.8 731.9C1244.7 743.2 1248 759.2 1250.6 771.2C1253.1 783.2 1254.9 793.1 1257.1 804C1259.3 814.9 1261.5 825.9 1263.7 836.8C1265.9 847.7 1268.3 856.8 1270.3 869.6C1272.3 882.4 1274.4 900.5 1275.7 913.4C1277 926.3 1277.5 940.2 1277.9 947.3C1278.3 954.4 1278 953.1 1278 956" stroke="#fff" stroke-width="6.67" stroke-dasharray="24.67 10.67" stroke-dashoffset="13.3"/><path d="M699 956C698.9 952.7 699 952.2 698.8 946.2C698.6 940.2 697.9 928.2 698 919.8C698.1 911.4 698.8 902.5 699.6 895.9C700.4 889.3 701.6 884.6 702.8 880C704 875.4 705.5 871.3 706.8 868C708.1 864.7 709.1 863.5 710.8 860C712.4 856.5 714.6 851 716.7 846.7C718.8 842.4 720.8 838.4 723.3 834.2C725.8 830 728.6 825.9 731.7 821.7C734.8 817.5 738.4 813.1 741.7 809.2C745 805.3 748.7 801.5 751.7 798.3C754.8 795.1 757.5 792.2 760 790C762.5 787.8 764.2 786.5 766.7 785C769.2 783.5 772.2 782.3 775 780.8C777.8 779.3 780.5 777.7 783.3 775.8C786.1 773.9 788.9 771.4 791.7 769.2C794.5 767 797.2 764.6 800 762.5C802.8 760.4 805.5 758.7 808.3 756.7C811.1 754.8 813.9 752.8 816.7 750.8C819.5 748.8 821.7 747.2 825 745C828.3 742.8 830.2 742.1 836.3 737.5C842.3 732.9 851.5 724.2 861.3 717.5C871.1 710.8 884.2 704.4 895 697.5C905.8 690.6 916.1 683 926.3 676.3C936.5 669.6 947.8 663.5 956.2 657.5C964.7 651.5 970.7 644.9 977 640C983.3 635.1 987.6 632.9 993.9 628C1000.2 623.1 1008.7 615.8 1015 610.5C1021.3 605.2 1026 601 1031.5 596.2 L1056.3 576.8 L1154.2 574.7 L1165 602.6 L1178.4 640 L1178.4 640C1182.8 650.9 1187.1 661.9 1191.5 672.8C1195.9 683.7 1200.2 694.7 1204.6 705.6C1209 716.5 1213.8 727.5 1217.8 738.4C1221.8 749.3 1225.4 760.6 1228.7 771.2C1232 781.8 1234.5 791.9 1237.4 801.8C1240.3 811.6 1243.3 822.3 1246.2 830.3C1249.1 838.3 1251.2 843.1 1254.9 850C1258.6 856.9 1264.1 863.8 1268.1 871.8C1272.1 879.8 1275.7 889.4 1279 898.1C1282.3 906.9 1285.2 916.1 1287.7 924.3C1290.2 932.5 1292.9 942 1294.3 947.3C1295.7 952.6 1295.4 953.1 1296 956" stroke="#000" stroke-width="6.67" stroke-linejoin="miter"/><path d="M600 787C606.8 783.6 607.1 783.7 620.5 776.7C633.9 769.7 659.6 755 680.6 745C701.6 735 724.3 724.5 746.2 716.5C768.1 708.5 789.9 702.2 811.8 696.9C833.7 691.6 855.5 687.7 877.4 684.8C899.3 681.9 920.9 680.5 943 679.4C965.1 678.3 987.9 677.6 1010 678C1032.1 678.4 1053.7 678.8 1075.6 681.6C1097.5 684.4 1119.3 689.6 1141.2 694.7C1163.1 699.8 1184.9 706 1206.8 712.2C1228.7 718.4 1250.5 724.6 1272.4 731.9C1294.3 739.2 1319.8 748.6 1338 755.9C1356.2 763.2 1370.7 770.1 1381.8 775.6C1392.9 781.1 1397.6 784.5 1404.8 788.7C1412 792.9 1418.3 796.9 1425 801" stroke="#f0f" stroke-width="3.33"/><path d="M756 957C761.7 953.9 767.3 950.5 773 947.7C778.7 945 783 943.2 790 940.5C797 937.8 804.1 935.9 815 931.7C825.9 927.6 841.6 919.9 855.6 915.6C869.6 911.3 884.7 908.1 899.3 905.7C913.9 903.3 924.5 902.2 943 901.3C961.5 900.4 987.9 899.6 1010 900.3C1032.1 901 1057.4 903.2 1075.6 905.7C1093.8 908.2 1104.7 911.8 1119.3 915.6C1133.9 919.4 1150.3 924.7 1163.1 928.7C1175.9 932.7 1188.6 937.2 1195.9 939.6C1203.2 942 1203.3 942 1207 943.3C1210.7 944.6 1213.3 945.5 1218 947.3C1222.7 949 1229.3 951.6 1235 953.8" stroke="#f0f" stroke-width="3.33"/><path d="M619.5 949.5C619.8 943.7 619.8 936.4 620.3 932C620.8 927.6 621.5 925 622.2 923C622.9 921 623.1 921.9 624.6 919.8C626.1 917.7 628.6 913.5 631 910.3C633.4 907.1 636.4 903.6 639 900.7C641.6 897.8 644.2 895.2 646.9 892.7C649.5 890.2 652.2 887.8 654.9 885.5C657.6 883.2 659.3 881.3 662.9 879.1C666.5 876.9 671.2 875 676.5 872.4C681.8 869.8 689.1 866.1 694.8 863.2C700.5 860.3 705.5 857.8 710.8 855.2C716.1 852.6 717.4 851.4 726.8 847.6C736.2 843.8 752.9 837.3 767.1 832.2C781.3 827.1 796.4 821.8 811.8 817.1C827.2 812.4 843.3 807.7 859.7 804.1C876.1 800.5 893.8 797.4 910.2 795.3C926.6 793.1 941.4 792.1 958 791.2C974.6 790.3 993.5 789.8 1010 789.8C1026.5 789.8 1040.3 789.8 1056.7 791.3C1073.1 792.8 1092 796 1108.4 798.6C1124.8 801.2 1138.7 803 1155.1 807.2C1171.5 811.4 1191.2 818.3 1206.8 823.7C1222.4 829.1 1234.7 834.4 1248.6 839.5C1262.5 844.6 1279.8 850.5 1290 854.4C1300.2 858.3 1303.3 859.9 1310 862.8C1316.7 865.7 1324.6 869.5 1329.9 871.9C1335.2 874.3 1337.9 875 1341.9 877.3C1345.9 879.6 1350.6 883.1 1353.9 885.5C1357.2 887.9 1359.2 889.6 1361.9 891.9C1364.6 894.2 1367.2 896.7 1369.8 899.5C1372.4 902.3 1375.1 905.3 1377.8 908.7C1380.5 912.1 1383.7 916.6 1385.8 919.8C1387.9 923 1388.6 924.6 1390.6 927.8C1392.6 931 1395.5 935.4 1398 939C1400.5 942.6 1403 946 1405.5 949.5" stroke="#f0f" stroke-width="6.67"/><circle cx="676.5" cy="872.4" r="11.7" fill="#f00"/><circle cx="767.1" cy="832.2" r="11.7" fill="#f00"/><circle cx="859.7" cy="804.1" r="11.7" fill="#f00"/><circle cx="958" cy="791.2" r="11.7" fill="#f00"/><circle cx="1056.7" cy="791.3" r="11.7" fill="#f00"/><circle cx="1155.1" cy="807.2" r="11.7" fill="#f00"/><circle cx="1248.6" cy="839.5" r="11.7" fill="#f00"/><circle cx="1341.9" cy="877.4" r="11.7" fill="#f00"/><circle cx="619.5" cy="949.5" r="27" fill="#f0f"/><circle cx="1405.5" cy="949.5" r="27" fill="#daa520"/></g><g stroke="#000" stroke-width="2.67" fill="none"><rect x="619.5" y="345.5" width="786.0" height="604.0" stroke-linejoin="miter"/><path d="M619.5 949.5v11.67M747 949.5v11.67M874.5 949.5v11.67M1002 949.5v11.67M1129.5 949.5v11.67M1257 949.5v11.67M1384.5 949.5v11.67M619.5 949.5h-11.67M619.5 822h-11.67M619.5 694.5h-11.67M619.5 567h-11.67M619.5 439.5h-11.67M421.9 1174.5v11.67M656.6 1174.5v11.67M891.3 1174.5v11.67M1126 1174.5v11.67M1360.7 1174.5v11.67M1595.4 1174.5v11.67"/><rect x="420.5" y="1115.5" width="1184" height="59"/></g><g font-size="33.33" text-anchor="middle"><text x="618.3" y="998.1">0.00</text><text x="745.8" y="998.1">0.02</text><text x="873.3" y="998.1">0.04</text><text x="1000.8" y="998.1">0.06</text><text x="1128.3" y="998.1">0.08</text><text x="1255.8" y="998.1">0.10</text><text x="1383.3" y="998.1">0.12</text><text x="421.9" y="1223.1">−50</text><text x="656.6" y="1223.1">0</text><text x="891.3" y="1223.1">50</text><text x="1126" y="1223.1">100</text><text x="1360.7" y="1223.1">150</text><text x="1595.4" y="1223.1">200</text><text x="1011.7" y="1043.8">s (of path projected to photosphere)</text><text x="1012.5" y="1268.8">bp</text><text transform="translate(503 650) rotate(-90)">radius</text></g><g font-size="33.33" text-anchor="end"><text x="596" y="961.9">1.00</text><text x="596" y="834.4">1.02</text><text x="596" y="706.9">1.04</text><text x="596" y="579.4">1.06</text><text x="596" y="451.9">1.08</text></g><text x="1012.5" y="325.3" font-size="40.00" text-anchor="middle">External field in Curved RBSL Plane (s,r)</text><rect x="636" y="362.2" width="413.5" height="208.2" rx="6.7" ry="6.7" fill="#fff" fill-opacity="0.8" stroke="#ccc" stroke-opacity="0.8" stroke-width="3.33"/><path d="M649.5 389.3H716.2" stroke="#f0f" stroke-width="6.67" stroke-linecap="square"/><path d="M649.5 438.9H716.2" stroke="#fff" stroke-width="6.67" stroke-dasharray="24.67 10.67"/><path d="M649.5 488.5H716.2" stroke="#000" stroke-width="6.67" stroke-linecap="square"/><path d="M649.5 538.1H716.2" stroke="#f0f" stroke-width="3.33" stroke-linecap="square"/><g font-size="33.33"><text x="742.3" y="401.1">rope axis</text><text x="742.3" y="450.7">average rope bp</text><text x="742.3" y="500.3">optimal bp (local)</text><text x="742.3" y="549.9">rope boundary</text></g></svg>
</body></html>
